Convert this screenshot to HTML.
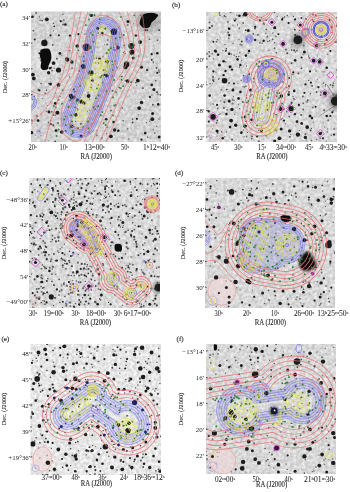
<!DOCTYPE html>
<html><head><meta charset="utf-8"><style>
html,body{margin:0;padding:0;background:#fff;}
svg.main{display:block;}
.t{font-family:"Liberation Serif",serif;font-size:7.20px;fill:#2a2a2a;stroke:#2a2a2a;stroke-width:0.06px;}
.ty{font-family:"Liberation Serif",serif;font-size:6.9px;fill:#2a2a2a;}
.sp{font-size:4.9px;}
.lb{font-family:"Liberation Serif",serif;font-size:7.1px;fill:#222;stroke:#222;stroke-width:0.12px;}
.ax{font-family:"Liberation Serif",serif;font-size:7.20px;fill:#2a2a2a;stroke:#2a2a2a;stroke-width:0.12px;}
.dc{font-family:"Liberation Serif",serif;font-size:6.25px;fill:#2a2a2a;stroke:#2a2a2a;stroke-width:0.1px;}
.ax{font-size:7.3px;}
</style></head><body>
<svg class="main" width="350" height="492" viewBox="0 0 350 492">
<defs><filter id="soft" x="0" y="0" width="1" height="1"><feGaussianBlur stdDeviation="0.3"/></filter><filter id="graina" x="0" y="0" width="1" height="1" color-interpolation-filters="sRGB"><feTurbulence type="fractalNoise" baseFrequency="0.32" numOctaves="2" seed="97"/><feColorMatrix type="matrix" values="0.300 0 0 0 0.674  0.300 0 0 0 0.674  0.300 0 0 0 0.674  0 0 0 0 1"/><feGaussianBlur stdDeviation="0.6"/></filter>
<filter id="fa1" x="-1" y="-1" width="3" height="3"><feGaussianBlur stdDeviation="3.00"/></filter>
<filter id="fa2" x="-0.1" y="-0.1" width="1.2" height="1.2"><feGaussianBlur stdDeviation="0.40"/></filter>
<filter id="fa3" x="-1" y="-1" width="3" height="3"><feGaussianBlur stdDeviation="3.00"/></filter>
<filter id="fa4" x="-0.1" y="-0.1" width="1.2" height="1.2"><feGaussianBlur stdDeviation="0.62"/></filter>
<filter id="fa5" x="-0.3" y="-0.3" width="1.6" height="1.6"><feGaussianBlur stdDeviation="0.60"/></filter>
<filter id="fa6" x="-0.3" y="-0.3" width="1.6" height="1.6"><feGaussianBlur stdDeviation="0.60"/></filter>
<mask id="ma7" maskUnits="userSpaceOnUse" x="-50" y="-50" width="300" height="300"><path d="M73.0 23.0 C72.5 26.7 71.5 37.5 70.0 45.0 C68.5 52.5 66.5 60.2 64.0 68.0 C61.5 75.8 57.7 85.2 55.0 92.0 C52.3 98.8 49.2 106.2 48.0 109.0" fill="none" stroke="#fff" stroke-width="35.00" stroke-linecap="round" stroke-linejoin="round"/><path d="M73.0 23.0 C72.5 26.7 71.5 37.5 70.0 45.0 C68.5 52.5 66.5 60.2 64.0 68.0 C61.5 75.8 57.7 85.2 55.0 92.0 C52.3 98.8 49.2 106.2 48.0 109.0" fill="none" stroke="#000" stroke-width="13.00" stroke-linecap="round" stroke-linejoin="round"/></mask>
<mask id="ma8" maskUnits="userSpaceOnUse" x="-50" y="-50" width="300" height="300"><path d="M73.0 23.0 C72.5 26.7 71.5 37.5 70.0 45.0 C68.5 52.5 66.5 60.2 64.0 68.0 C61.5 75.8 57.7 85.2 55.0 92.0 C52.3 98.8 49.2 106.2 48.0 109.0" fill="none" stroke="#fff" stroke-width="35.60" stroke-linecap="round" stroke-linejoin="round"/><path d="M73.0 23.0 C72.5 26.7 71.5 37.5 70.0 45.0 C68.5 52.5 66.5 60.2 64.0 68.0 C61.5 75.8 57.7 85.2 55.0 92.0 C52.3 98.8 49.2 106.2 48.0 109.0" fill="none" stroke="#000" stroke-width="34.40" stroke-linecap="round" stroke-linejoin="round"/><path d="M73.0 23.0 C72.5 26.7 71.5 37.5 70.0 45.0 C68.5 52.5 66.5 60.2 64.0 68.0 C61.5 75.8 57.7 85.2 55.0 92.0 C52.3 98.8 49.2 106.2 48.0 109.0" fill="none" stroke="#fff" stroke-width="32.20" stroke-linecap="round" stroke-linejoin="round"/><path d="M73.0 23.0 C72.5 26.7 71.5 37.5 70.0 45.0 C68.5 52.5 66.5 60.2 64.0 68.0 C61.5 75.8 57.7 85.2 55.0 92.0 C52.3 98.8 49.2 106.2 48.0 109.0" fill="none" stroke="#000" stroke-width="31.00" stroke-linecap="round" stroke-linejoin="round"/><path d="M73.0 23.0 C72.5 26.7 71.5 37.5 70.0 45.0 C68.5 52.5 66.5 60.2 64.0 68.0 C61.5 75.8 57.7 85.2 55.0 92.0 C52.3 98.8 49.2 106.2 48.0 109.0" fill="none" stroke="#fff" stroke-width="28.80" stroke-linecap="round" stroke-linejoin="round"/><path d="M73.0 23.0 C72.5 26.7 71.5 37.5 70.0 45.0 C68.5 52.5 66.5 60.2 64.0 68.0 C61.5 75.8 57.7 85.2 55.0 92.0 C52.3 98.8 49.2 106.2 48.0 109.0" fill="none" stroke="#000" stroke-width="27.60" stroke-linecap="round" stroke-linejoin="round"/><path d="M73.0 23.0 C72.5 26.7 71.5 37.5 70.0 45.0 C68.5 52.5 66.5 60.2 64.0 68.0 C61.5 75.8 57.7 85.2 55.0 92.0 C52.3 98.8 49.2 106.2 48.0 109.0" fill="none" stroke="#fff" stroke-width="25.40" stroke-linecap="round" stroke-linejoin="round"/><path d="M73.0 23.0 C72.5 26.7 71.5 37.5 70.0 45.0 C68.5 52.5 66.5 60.2 64.0 68.0 C61.5 75.8 57.7 85.2 55.0 92.0 C52.3 98.8 49.2 106.2 48.0 109.0" fill="none" stroke="#000" stroke-width="24.20" stroke-linecap="round" stroke-linejoin="round"/><path d="M73.0 23.0 C72.5 26.7 71.5 37.5 70.0 45.0 C68.5 52.5 66.5 60.2 64.0 68.0 C61.5 75.8 57.7 85.2 55.0 92.0 C52.3 98.8 49.2 106.2 48.0 109.0" fill="none" stroke="#fff" stroke-width="22.00" stroke-linecap="round" stroke-linejoin="round"/><path d="M73.0 23.0 C72.5 26.7 71.5 37.5 70.0 45.0 C68.5 52.5 66.5 60.2 64.0 68.0 C61.5 75.8 57.7 85.2 55.0 92.0 C52.3 98.8 49.2 106.2 48.0 109.0" fill="none" stroke="#000" stroke-width="20.80" stroke-linecap="round" stroke-linejoin="round"/><path d="M73.0 23.0 C72.5 26.7 71.5 37.5 70.0 45.0 C68.5 52.5 66.5 60.2 64.0 68.0 C61.5 75.8 57.7 85.2 55.0 92.0 C52.3 98.8 49.2 106.2 48.0 109.0" fill="none" stroke="#fff" stroke-width="18.60" stroke-linecap="round" stroke-linejoin="round"/><path d="M73.0 23.0 C72.5 26.7 71.5 37.5 70.0 45.0 C68.5 52.5 66.5 60.2 64.0 68.0 C61.5 75.8 57.7 85.2 55.0 92.0 C52.3 98.8 49.2 106.2 48.0 109.0" fill="none" stroke="#000" stroke-width="17.40" stroke-linecap="round" stroke-linejoin="round"/><path d="M73.0 23.0 C72.5 26.7 71.5 37.5 70.0 45.0 C68.5 52.5 66.5 60.2 64.0 68.0 C61.5 75.8 57.7 85.2 55.0 92.0 C52.3 98.8 49.2 106.2 48.0 109.0" fill="none" stroke="#fff" stroke-width="15.20" stroke-linecap="round" stroke-linejoin="round"/><path d="M73.0 23.0 C72.5 26.7 71.5 37.5 70.0 45.0 C68.5 52.5 66.5 60.2 64.0 68.0 C61.5 75.8 57.7 85.2 55.0 92.0 C52.3 98.8 49.2 106.2 48.0 109.0" fill="none" stroke="#000" stroke-width="14.00" stroke-linecap="round" stroke-linejoin="round"/></mask>
<mask id="ma9" maskUnits="userSpaceOnUse" x="-50" y="-50" width="300" height="300"><path d="M73.0 23.0 C72.5 26.7 71.5 37.5 70.0 45.0 C68.5 52.5 66.5 60.2 64.0 68.0 C61.5 75.8 57.7 85.2 55.0 92.0 C52.3 98.8 49.2 106.2 48.0 109.0" fill="none" stroke="#fff" stroke-width="13.80" stroke-linecap="round" stroke-linejoin="round"/><path d="M73.0 23.0 C72.5 26.7 71.5 37.5 70.0 45.0 C68.5 52.5 66.5 60.2 64.0 68.0 C61.5 75.8 57.7 85.2 55.0 92.0 C52.3 98.8 49.2 106.2 48.0 109.0" fill="none" stroke="#000" stroke-width="12.60" stroke-linecap="round" stroke-linejoin="round"/></mask>
<mask id="ma10" maskUnits="userSpaceOnUse" x="-50" y="-50" width="300" height="300"><path d="M71.0 54.0 L71.0 54.0" fill="none" stroke="#fff" stroke-width="17.40" stroke-linecap="round" stroke-linejoin="round"/><path d="M62.0 71.0 L62.0 71.0" fill="none" stroke="#fff" stroke-width="17.40" stroke-linecap="round" stroke-linejoin="round"/><path d="M71.0 54.0 L71.0 54.0" fill="none" stroke="#000" stroke-width="16.20" stroke-linecap="round" stroke-linejoin="round"/><path d="M62.0 71.0 L62.0 71.0" fill="none" stroke="#000" stroke-width="16.20" stroke-linecap="round" stroke-linejoin="round"/><path d="M71.0 54.0 L71.0 54.0" fill="none" stroke="#fff" stroke-width="13.80" stroke-linecap="round" stroke-linejoin="round"/><path d="M62.0 71.0 L62.0 71.0" fill="none" stroke="#fff" stroke-width="13.80" stroke-linecap="round" stroke-linejoin="round"/><path d="M71.0 54.0 L71.0 54.0" fill="none" stroke="#000" stroke-width="12.60" stroke-linecap="round" stroke-linejoin="round"/><path d="M62.0 71.0 L62.0 71.0" fill="none" stroke="#000" stroke-width="12.60" stroke-linecap="round" stroke-linejoin="round"/><path d="M71.0 54.0 L71.0 54.0" fill="none" stroke="#fff" stroke-width="10.20" stroke-linecap="round" stroke-linejoin="round"/><path d="M62.0 71.0 L62.0 71.0" fill="none" stroke="#fff" stroke-width="10.20" stroke-linecap="round" stroke-linejoin="round"/><path d="M71.0 54.0 L71.0 54.0" fill="none" stroke="#000" stroke-width="9.00" stroke-linecap="round" stroke-linejoin="round"/><path d="M62.0 71.0 L62.0 71.0" fill="none" stroke="#000" stroke-width="9.00" stroke-linecap="round" stroke-linejoin="round"/><path d="M71.0 54.0 L71.0 54.0" fill="none" stroke="#fff" stroke-width="7.00" stroke-linecap="round" stroke-linejoin="round"/><path d="M62.0 71.0 L62.0 71.0" fill="none" stroke="#fff" stroke-width="7.00" stroke-linecap="round" stroke-linejoin="round"/><path d="M71.0 54.0 L71.0 54.0" fill="none" stroke="#000" stroke-width="5.80" stroke-linecap="round" stroke-linejoin="round"/><path d="M62.0 71.0 L62.0 71.0" fill="none" stroke="#000" stroke-width="5.80" stroke-linecap="round" stroke-linejoin="round"/><path d="M71.0 54.0 L71.0 54.0" fill="none" stroke="#fff" stroke-width="3.80" stroke-linecap="round" stroke-linejoin="round"/><path d="M62.0 71.0 L62.0 71.0" fill="none" stroke="#fff" stroke-width="3.80" stroke-linecap="round" stroke-linejoin="round"/><path d="M71.0 54.0 L71.0 54.0" fill="none" stroke="#000" stroke-width="2.60" stroke-linecap="round" stroke-linejoin="round"/><path d="M62.0 71.0 L62.0 71.0" fill="none" stroke="#000" stroke-width="2.60" stroke-linecap="round" stroke-linejoin="round"/></mask>
<mask id="ma11" maskUnits="userSpaceOnUse" x="-50" y="-50" width="300" height="300"><path d="M72.0 17.0 L72.0 17.0" fill="none" stroke="#fff" stroke-width="7.40" stroke-linecap="round" stroke-linejoin="round"/><path d="M55.0 90.0 L49.0 106.0" fill="none" stroke="#fff" stroke-width="7.40" stroke-linecap="round" stroke-linejoin="round"/><path d="M72.0 17.0 L72.0 17.0" fill="none" stroke="#000" stroke-width="6.20" stroke-linecap="round" stroke-linejoin="round"/><path d="M55.0 90.0 L49.0 106.0" fill="none" stroke="#000" stroke-width="6.20" stroke-linecap="round" stroke-linejoin="round"/><path d="M72.0 17.0 L72.0 17.0" fill="none" stroke="#fff" stroke-width="3.80" stroke-linecap="round" stroke-linejoin="round"/><path d="M55.0 90.0 L49.0 106.0" fill="none" stroke="#fff" stroke-width="3.80" stroke-linecap="round" stroke-linejoin="round"/><path d="M72.0 17.0 L72.0 17.0" fill="none" stroke="#000" stroke-width="2.60" stroke-linecap="round" stroke-linejoin="round"/><path d="M55.0 90.0 L49.0 106.0" fill="none" stroke="#000" stroke-width="2.60" stroke-linecap="round" stroke-linejoin="round"/></mask>
<mask id="ma12" maskUnits="userSpaceOnUse" x="-50" y="-50" width="300" height="300"><path d="M-2 91 L-2 91.01" fill="none" stroke="#fff" stroke-width="15.70" stroke-linecap="round" stroke-linejoin="round"/><path d="M-2 91 L-2 91.01" fill="none" stroke="#000" stroke-width="14.30" stroke-linecap="round" stroke-linejoin="round"/><path d="M-2 91 L-2 91.01" fill="none" stroke="#fff" stroke-width="12.70" stroke-linecap="round" stroke-linejoin="round"/><path d="M-2 91 L-2 91.01" fill="none" stroke="#000" stroke-width="11.30" stroke-linecap="round" stroke-linejoin="round"/><path d="M-2 91 L-2 91.01" fill="none" stroke="#fff" stroke-width="9.70" stroke-linecap="round" stroke-linejoin="round"/><path d="M-2 91 L-2 91.01" fill="none" stroke="#000" stroke-width="8.30" stroke-linecap="round" stroke-linejoin="round"/></mask>
<mask id="ma13" maskUnits="userSpaceOnUse" x="-50" y="-50" width="300" height="300"><path d="M72.0 37.0 C71.0 41.8 68.5 57.2 66.0 66.0 C63.5 74.8 59.7 83.7 57.0 90.0 C54.3 96.3 51.2 101.7 50.0 104.0" fill="none" stroke="#fff" stroke-width="28.80" stroke-linecap="round" stroke-linejoin="round"/><path d="M72.0 37.0 C71.0 41.8 68.5 57.2 66.0 66.0 C63.5 74.8 59.7 83.7 57.0 90.0 C54.3 96.3 51.2 101.7 50.0 104.0" fill="none" stroke="#000" stroke-width="27.20" stroke-linecap="round" stroke-linejoin="round"/></mask>
<filter id="grainb" x="0" y="0" width="1" height="1" color-interpolation-filters="sRGB"><feTurbulence type="fractalNoise" baseFrequency="0.32" numOctaves="2" seed="98"/><feColorMatrix type="matrix" values="0.300 0 0 0 0.697  0.300 0 0 0 0.697  0.300 0 0 0 0.697  0 0 0 0 1"/><feGaussianBlur stdDeviation="0.6"/></filter>
<filter id="fb1" x="-0.1" y="-0.1" width="1.2" height="1.2"><feGaussianBlur stdDeviation="0.40"/></filter>
<filter id="fb2" x="-0.1" y="-0.1" width="1.2" height="1.2"><feGaussianBlur stdDeviation="0.62"/></filter>
<filter id="fb3" x="-1" y="-1" width="3" height="3"><feGaussianBlur stdDeviation="2.00"/></filter>
<filter id="fb4" x="-1" y="-1" width="3" height="3"><feGaussianBlur stdDeviation="2.00"/></filter>
<filter id="fb5" x="-0.1" y="-0.1" width="1.2" height="1.2"><feGaussianBlur stdDeviation="0.60"/></filter>
<mask id="mb6" maskUnits="userSpaceOnUse" x="-50" y="-50" width="300" height="300"><path d="M63.5 66.0 L63.5 66.0" fill="none" stroke="#fff" stroke-width="44.80" stroke-linecap="round" stroke-linejoin="round"/><path d="M60.0 84.0 C59.5 86.2 57.8 93.5 57.0 97.0 C56.2 100.5 55.3 103.7 55.0 105.0" fill="none" stroke="#fff" stroke-width="38.80" stroke-linecap="round" stroke-linejoin="round"/><path d="M63.5 66.0 L63.5 66.0" fill="none" stroke="#000" stroke-width="43.20" stroke-linecap="round" stroke-linejoin="round"/><path d="M60.0 84.0 C59.5 86.2 57.8 93.5 57.0 97.0 C56.2 100.5 55.3 103.7 55.0 105.0" fill="none" stroke="#000" stroke-width="37.20" stroke-linecap="round" stroke-linejoin="round"/><path d="M63.5 66.0 L63.5 66.0" fill="none" stroke="#fff" stroke-width="37.80" stroke-linecap="round" stroke-linejoin="round"/><path d="M60.0 84.0 C59.5 86.2 57.8 93.5 57.0 97.0 C56.2 100.5 55.3 103.7 55.0 105.0" fill="none" stroke="#fff" stroke-width="31.80" stroke-linecap="round" stroke-linejoin="round"/><path d="M63.5 66.0 L63.5 66.0" fill="none" stroke="#000" stroke-width="36.20" stroke-linecap="round" stroke-linejoin="round"/><path d="M60.0 84.0 C59.5 86.2 57.8 93.5 57.0 97.0 C56.2 100.5 55.3 103.7 55.0 105.0" fill="none" stroke="#000" stroke-width="30.20" stroke-linecap="round" stroke-linejoin="round"/><path d="M63.5 66.0 L63.5 66.0" fill="none" stroke="#fff" stroke-width="30.80" stroke-linecap="round" stroke-linejoin="round"/><path d="M60.0 84.0 C59.5 86.2 57.8 93.5 57.0 97.0 C56.2 100.5 55.3 103.7 55.0 105.0" fill="none" stroke="#fff" stroke-width="24.80" stroke-linecap="round" stroke-linejoin="round"/><path d="M63.5 66.0 L63.5 66.0" fill="none" stroke="#000" stroke-width="29.20" stroke-linecap="round" stroke-linejoin="round"/><path d="M60.0 84.0 C59.5 86.2 57.8 93.5 57.0 97.0 C56.2 100.5 55.3 103.7 55.0 105.0" fill="none" stroke="#000" stroke-width="23.20" stroke-linecap="round" stroke-linejoin="round"/><path d="M63.5 66.0 L63.5 66.0" fill="none" stroke="#fff" stroke-width="23.80" stroke-linecap="round" stroke-linejoin="round"/><path d="M60.0 84.0 C59.5 86.2 57.8 93.5 57.0 97.0 C56.2 100.5 55.3 103.7 55.0 105.0" fill="none" stroke="#fff" stroke-width="17.80" stroke-linecap="round" stroke-linejoin="round"/><path d="M63.5 66.0 L63.5 66.0" fill="none" stroke="#000" stroke-width="22.20" stroke-linecap="round" stroke-linejoin="round"/><path d="M60.0 84.0 C59.5 86.2 57.8 93.5 57.0 97.0 C56.2 100.5 55.3 103.7 55.0 105.0" fill="none" stroke="#000" stroke-width="16.20" stroke-linecap="round" stroke-linejoin="round"/></mask>
<mask id="mb7" maskUnits="userSpaceOnUse" x="-50" y="-50" width="300" height="300"><path d="M65.0 64.0 L65.0 64.0" fill="none" stroke="#fff" stroke-width="17.80" stroke-linecap="round" stroke-linejoin="round"/><path d="M65.0 64.0 L65.0 64.0" fill="none" stroke="#000" stroke-width="16.20" stroke-linecap="round" stroke-linejoin="round"/></mask>
<mask id="mb8" maskUnits="userSpaceOnUse" x="-50" y="-50" width="300" height="300"><path d="M64.7 62.0 L64.7 62.0" fill="none" stroke="#fff" stroke-width="27.00" stroke-linecap="round" stroke-linejoin="round"/><path d="M64.7 62.0 L64.7 62.0" fill="none" stroke="#000" stroke-width="14.00" stroke-linecap="round" stroke-linejoin="round"/></mask>
<mask id="mb9" maskUnits="userSpaceOnUse" x="-50" y="-50" width="300" height="300"><path d="M64.7 62.0 L64.7 62.0" fill="none" stroke="#fff" stroke-width="27.60" stroke-linecap="round" stroke-linejoin="round"/><path d="M64.7 62.0 L64.7 62.0" fill="none" stroke="#000" stroke-width="26.40" stroke-linecap="round" stroke-linejoin="round"/><path d="M64.7 62.0 L64.7 62.0" fill="none" stroke="#fff" stroke-width="24.60" stroke-linecap="round" stroke-linejoin="round"/><path d="M64.7 62.0 L64.7 62.0" fill="none" stroke="#000" stroke-width="23.40" stroke-linecap="round" stroke-linejoin="round"/><path d="M64.7 62.0 L64.7 62.0" fill="none" stroke="#fff" stroke-width="21.60" stroke-linecap="round" stroke-linejoin="round"/><path d="M64.7 62.0 L64.7 62.0" fill="none" stroke="#000" stroke-width="20.40" stroke-linecap="round" stroke-linejoin="round"/><path d="M64.7 62.0 L64.7 62.0" fill="none" stroke="#fff" stroke-width="18.60" stroke-linecap="round" stroke-linejoin="round"/><path d="M64.7 62.0 L64.7 62.0" fill="none" stroke="#000" stroke-width="17.40" stroke-linecap="round" stroke-linejoin="round"/><path d="M64.7 62.0 L64.7 62.0" fill="none" stroke="#fff" stroke-width="15.60" stroke-linecap="round" stroke-linejoin="round"/><path d="M64.7 62.0 L64.7 62.0" fill="none" stroke="#000" stroke-width="14.40" stroke-linecap="round" stroke-linejoin="round"/></mask>
<mask id="mb10" maskUnits="userSpaceOnUse" x="-50" y="-50" width="300" height="300"><path d="M61.0 76.0 C60.5 78.7 58.8 87.3 58.0 92.0 C57.2 96.7 56.3 102.0 56.0 104.0" fill="none" stroke="#fff" stroke-width="16.55" stroke-linecap="round" stroke-linejoin="round"/><path d="M61.0 76.0 C60.5 78.7 58.8 87.3 58.0 92.0 C57.2 96.7 56.3 102.0 56.0 104.0" fill="none" stroke="#000" stroke-width="15.45" stroke-linecap="round" stroke-linejoin="round"/><path d="M61.0 76.0 C60.5 78.7 58.8 87.3 58.0 92.0 C57.2 96.7 56.3 102.0 56.0 104.0" fill="none" stroke="#fff" stroke-width="11.55" stroke-linecap="round" stroke-linejoin="round"/><path d="M61.0 76.0 C60.5 78.7 58.8 87.3 58.0 92.0 C57.2 96.7 56.3 102.0 56.0 104.0" fill="none" stroke="#000" stroke-width="10.45" stroke-linecap="round" stroke-linejoin="round"/><path d="M61.0 76.0 C60.5 78.7 58.8 87.3 58.0 92.0 C57.2 96.7 56.3 102.0 56.0 104.0" fill="none" stroke="#fff" stroke-width="6.55" stroke-linecap="round" stroke-linejoin="round"/><path d="M61.0 76.0 C60.5 78.7 58.8 87.3 58.0 92.0 C57.2 96.7 56.3 102.0 56.0 104.0" fill="none" stroke="#000" stroke-width="5.45" stroke-linecap="round" stroke-linejoin="round"/></mask>
<mask id="mb11" maskUnits="userSpaceOnUse" x="-50" y="-50" width="300" height="300"><path d="M65.0 63.0 L65.0 63.0" fill="none" stroke="#fff" stroke-width="13.00" stroke-linecap="round" stroke-linejoin="round"/></mask>
<mask id="mb12" maskUnits="userSpaceOnUse" x="-50" y="-50" width="300" height="300"><path d="M65.0 63.0 L65.0 63.0" fill="none" stroke="#fff" stroke-width="13.60" stroke-linecap="round" stroke-linejoin="round"/><path d="M65.0 63.0 L65.0 63.0" fill="none" stroke="#000" stroke-width="12.40" stroke-linecap="round" stroke-linejoin="round"/><path d="M65.0 63.0 L65.0 63.0" fill="none" stroke="#fff" stroke-width="10.60" stroke-linecap="round" stroke-linejoin="round"/><path d="M65.0 63.0 L65.0 63.0" fill="none" stroke="#000" stroke-width="9.40" stroke-linecap="round" stroke-linejoin="round"/><path d="M65.0 63.0 L65.0 63.0" fill="none" stroke="#fff" stroke-width="7.60" stroke-linecap="round" stroke-linejoin="round"/><path d="M65.0 63.0 L65.0 63.0" fill="none" stroke="#000" stroke-width="6.40" stroke-linecap="round" stroke-linejoin="round"/><path d="M65.0 63.0 L65.0 63.0" fill="none" stroke="#fff" stroke-width="4.60" stroke-linecap="round" stroke-linejoin="round"/><path d="M65.0 63.0 L65.0 63.0" fill="none" stroke="#000" stroke-width="3.40" stroke-linecap="round" stroke-linejoin="round"/></mask>
<mask id="mb13" maskUnits="userSpaceOnUse" x="-50" y="-50" width="300" height="300"><path d="M56.0 88.0 C56.2 90.0 56.3 96.3 57.0 100.0 C57.7 103.7 59.0 107.5 60.0 110.0 C61.0 112.5 62.5 114.2 63.0 115.0" fill="none" stroke="#fff" stroke-width="16.60" stroke-linecap="round" stroke-linejoin="round"/><path d="M56.0 88.0 C56.2 90.0 56.3 96.3 57.0 100.0 C57.7 103.7 59.0 107.5 60.0 110.0 C61.0 112.5 62.5 114.2 63.0 115.0" fill="none" stroke="#000" stroke-width="15.40" stroke-linecap="round" stroke-linejoin="round"/><path d="M56.0 88.0 C56.2 90.0 56.3 96.3 57.0 100.0 C57.7 103.7 59.0 107.5 60.0 110.0 C61.0 112.5 62.5 114.2 63.0 115.0" fill="none" stroke="#fff" stroke-width="12.60" stroke-linecap="round" stroke-linejoin="round"/><path d="M56.0 88.0 C56.2 90.0 56.3 96.3 57.0 100.0 C57.7 103.7 59.0 107.5 60.0 110.0 C61.0 112.5 62.5 114.2 63.0 115.0" fill="none" stroke="#000" stroke-width="11.40" stroke-linecap="round" stroke-linejoin="round"/><path d="M56.0 88.0 C56.2 90.0 56.3 96.3 57.0 100.0 C57.7 103.7 59.0 107.5 60.0 110.0 C61.0 112.5 62.5 114.2 63.0 115.0" fill="none" stroke="#fff" stroke-width="8.60" stroke-linecap="round" stroke-linejoin="round"/><path d="M56.0 88.0 C56.2 90.0 56.3 96.3 57.0 100.0 C57.7 103.7 59.0 107.5 60.0 110.0 C61.0 112.5 62.5 114.2 63.0 115.0" fill="none" stroke="#000" stroke-width="7.40" stroke-linecap="round" stroke-linejoin="round"/><path d="M56.0 88.0 C56.2 90.0 56.3 96.3 57.0 100.0 C57.7 103.7 59.0 107.5 60.0 110.0 C61.0 112.5 62.5 114.2 63.0 115.0" fill="none" stroke="#fff" stroke-width="4.60" stroke-linecap="round" stroke-linejoin="round"/><path d="M56.0 88.0 C56.2 90.0 56.3 96.3 57.0 100.0 C57.7 103.7 59.0 107.5 60.0 110.0 C61.0 112.5 62.5 114.2 63.0 115.0" fill="none" stroke="#000" stroke-width="3.40" stroke-linecap="round" stroke-linejoin="round"/></mask>
<mask id="mb14" maskUnits="userSpaceOnUse" x="-50" y="-50" width="300" height="300"><path d="M59.9 52.3 L59.9 52.3" fill="none" stroke="#fff" stroke-width="7.60" stroke-linecap="round" stroke-linejoin="round"/></mask>
<mask id="mb15" maskUnits="userSpaceOnUse" x="-50" y="-50" width="300" height="300"><path d="M59.9 52.3 L59.9 52.3" fill="none" stroke="#fff" stroke-width="8.30" stroke-linecap="round" stroke-linejoin="round"/><path d="M59.9 52.3 L59.9 52.3" fill="none" stroke="#000" stroke-width="6.90" stroke-linecap="round" stroke-linejoin="round"/><path d="M59.9 52.3 L59.9 52.3" fill="none" stroke="#fff" stroke-width="6.30" stroke-linecap="round" stroke-linejoin="round"/><path d="M59.9 52.3 L59.9 52.3" fill="none" stroke="#000" stroke-width="4.90" stroke-linecap="round" stroke-linejoin="round"/></mask>
<mask id="mb16" maskUnits="userSpaceOnUse" x="-50" y="-50" width="300" height="300"><path d="M59.9 52.3 L59.9 52.3" fill="none" stroke="#fff" stroke-width="4.40" stroke-linecap="round" stroke-linejoin="round"/><path d="M59.9 52.3 L59.9 52.3" fill="none" stroke="#000" stroke-width="2.80" stroke-linecap="round" stroke-linejoin="round"/></mask>
<mask id="mb17" maskUnits="userSpaceOnUse" x="-50" y="-50" width="300" height="300"><path d="M40.6 66.8 L40.6 66.8" fill="none" stroke="#fff" stroke-width="7.60" stroke-linecap="round" stroke-linejoin="round"/></mask>
<mask id="mb18" maskUnits="userSpaceOnUse" x="-50" y="-50" width="300" height="300"><path d="M40.6 66.8 L40.6 66.8" fill="none" stroke="#fff" stroke-width="8.20" stroke-linecap="round" stroke-linejoin="round"/><path d="M40.6 66.8 L40.6 66.8" fill="none" stroke="#000" stroke-width="7.00" stroke-linecap="round" stroke-linejoin="round"/><path d="M40.6 66.8 L40.6 66.8" fill="none" stroke="#fff" stroke-width="5.60" stroke-linecap="round" stroke-linejoin="round"/><path d="M40.6 66.8 L40.6 66.8" fill="none" stroke="#000" stroke-width="4.40" stroke-linecap="round" stroke-linejoin="round"/><path d="M40.6 66.8 L40.6 66.8" fill="none" stroke="#fff" stroke-width="3.00" stroke-linecap="round" stroke-linejoin="round"/><path d="M40.6 66.8 L40.6 66.8" fill="none" stroke="#000" stroke-width="1.80" stroke-linecap="round" stroke-linejoin="round"/></mask>
<mask id="mb19" maskUnits="userSpaceOnUse" x="-50" y="-50" width="300" height="300"><path d="M43.1 26.9 L43.1 26.9" fill="none" stroke="#fff" stroke-width="8.40" stroke-linecap="round" stroke-linejoin="round"/></mask>
<mask id="mb20" maskUnits="userSpaceOnUse" x="-50" y="-50" width="300" height="300"><path d="M43.1 26.9 L43.1 26.9" fill="none" stroke="#fff" stroke-width="9.00" stroke-linecap="round" stroke-linejoin="round"/><path d="M43.1 26.9 L43.1 26.9" fill="none" stroke="#000" stroke-width="7.80" stroke-linecap="round" stroke-linejoin="round"/><path d="M43.1 26.9 L43.1 26.9" fill="none" stroke="#fff" stroke-width="6.40" stroke-linecap="round" stroke-linejoin="round"/><path d="M43.1 26.9 L43.1 26.9" fill="none" stroke="#000" stroke-width="5.20" stroke-linecap="round" stroke-linejoin="round"/><path d="M43.1 26.9 L43.1 26.9" fill="none" stroke="#fff" stroke-width="3.80" stroke-linecap="round" stroke-linejoin="round"/><path d="M43.1 26.9 L43.1 26.9" fill="none" stroke="#000" stroke-width="2.60" stroke-linecap="round" stroke-linejoin="round"/></mask>
<mask id="mb21" maskUnits="userSpaceOnUse" x="-50" y="-50" width="300" height="300"><path d="M99.4 20.4 L99.4 20.4" fill="none" stroke="#fff" stroke-width="8.20" stroke-linecap="round" stroke-linejoin="round"/></mask>
<mask id="mb22" maskUnits="userSpaceOnUse" x="-50" y="-50" width="300" height="300"><path d="M99.4 20.4 L99.4 20.4" fill="none" stroke="#fff" stroke-width="8.90" stroke-linecap="round" stroke-linejoin="round"/><path d="M99.4 20.4 L99.4 20.4" fill="none" stroke="#000" stroke-width="7.50" stroke-linecap="round" stroke-linejoin="round"/><path d="M99.4 20.4 L99.4 20.4" fill="none" stroke="#fff" stroke-width="6.70" stroke-linecap="round" stroke-linejoin="round"/><path d="M99.4 20.4 L99.4 20.4" fill="none" stroke="#000" stroke-width="5.30" stroke-linecap="round" stroke-linejoin="round"/></mask>
<mask id="mb23" maskUnits="userSpaceOnUse" x="-50" y="-50" width="300" height="300"><path d="M99.4 20.4 L99.4 20.4" fill="none" stroke="#fff" stroke-width="4.40" stroke-linecap="round" stroke-linejoin="round"/><path d="M99.4 20.4 L99.4 20.4" fill="none" stroke="#000" stroke-width="2.80" stroke-linecap="round" stroke-linejoin="round"/></mask>
<mask id="mb24" maskUnits="userSpaceOnUse" x="-50" y="-50" width="300" height="300"><path d="M115.1 17.6 L115.1 17.6" fill="none" stroke="#fff" stroke-width="38.00" stroke-linecap="round" stroke-linejoin="round"/><path d="M115.1 17.6 L115.1 17.6" fill="none" stroke="#000" stroke-width="36.40" stroke-linecap="round" stroke-linejoin="round"/><path d="M115.1 17.6 L115.1 17.6" fill="none" stroke="#fff" stroke-width="33.40" stroke-linecap="round" stroke-linejoin="round"/><path d="M115.1 17.6 L115.1 17.6" fill="none" stroke="#000" stroke-width="31.80" stroke-linecap="round" stroke-linejoin="round"/><path d="M115.1 17.6 L115.1 17.6" fill="none" stroke="#fff" stroke-width="29.00" stroke-linecap="round" stroke-linejoin="round"/><path d="M115.1 17.6 L115.1 17.6" fill="none" stroke="#000" stroke-width="27.40" stroke-linecap="round" stroke-linejoin="round"/><path d="M115.1 17.6 L115.1 17.6" fill="none" stroke="#fff" stroke-width="24.60" stroke-linecap="round" stroke-linejoin="round"/><path d="M115.1 17.6 L115.1 17.6" fill="none" stroke="#000" stroke-width="23.00" stroke-linecap="round" stroke-linejoin="round"/><path d="M115.1 17.6 L115.1 17.6" fill="none" stroke="#fff" stroke-width="20.80" stroke-linecap="round" stroke-linejoin="round"/><path d="M115.1 17.6 L115.1 17.6" fill="none" stroke="#000" stroke-width="19.20" stroke-linecap="round" stroke-linejoin="round"/></mask>
<mask id="mb25" maskUnits="userSpaceOnUse" x="-50" y="-50" width="300" height="300"><path d="M115.1 17.6 L115.1 17.6" fill="none" stroke="#fff" stroke-width="11.00" stroke-linecap="round" stroke-linejoin="round"/></mask>
<mask id="mb26" maskUnits="userSpaceOnUse" x="-50" y="-50" width="300" height="300"><path d="M115.1 17.6 L115.1 17.6" fill="none" stroke="#fff" stroke-width="17.00" stroke-linecap="round" stroke-linejoin="round"/><path d="M115.1 17.6 L115.1 17.6" fill="none" stroke="#000" stroke-width="15.00" stroke-linecap="round" stroke-linejoin="round"/><path d="M115.1 17.6 L115.1 17.6" fill="none" stroke="#fff" stroke-width="14.80" stroke-linecap="round" stroke-linejoin="round"/><path d="M115.1 17.6 L115.1 17.6" fill="none" stroke="#000" stroke-width="12.80" stroke-linecap="round" stroke-linejoin="round"/></mask>
<mask id="mb27" maskUnits="userSpaceOnUse" x="-50" y="-50" width="300" height="300"><path d="M115.1 17.6 L115.1 17.6" fill="none" stroke="#fff" stroke-width="10.10" stroke-linecap="round" stroke-linejoin="round"/><path d="M115.1 17.6 L115.1 17.6" fill="none" stroke="#000" stroke-width="8.30" stroke-linecap="round" stroke-linejoin="round"/><path d="M115.1 17.6 L115.1 17.6" fill="none" stroke="#fff" stroke-width="7.90" stroke-linecap="round" stroke-linejoin="round"/><path d="M115.1 17.6 L115.1 17.6" fill="none" stroke="#000" stroke-width="6.10" stroke-linecap="round" stroke-linejoin="round"/></mask>
<mask id="mb28" maskUnits="userSpaceOnUse" x="-50" y="-50" width="300" height="300"><path d="M115.1 17.6 L115.1 17.6" fill="none" stroke="#fff" stroke-width="3.90" stroke-linecap="round" stroke-linejoin="round"/><path d="M115.1 17.6 L115.1 17.6" fill="none" stroke="#000" stroke-width="2.50" stroke-linecap="round" stroke-linejoin="round"/></mask>
<mask id="mb29" maskUnits="userSpaceOnUse" x="-50" y="-50" width="300" height="300"><path d="M54.0 -4.0 L54.0 -4.0" fill="none" stroke="#fff" stroke-width="27.00" stroke-linecap="round" stroke-linejoin="round"/><path d="M54.0 -4.0 L54.0 -4.0" fill="none" stroke="#000" stroke-width="25.40" stroke-linecap="round" stroke-linejoin="round"/><path d="M54.0 -4.0 L54.0 -4.0" fill="none" stroke="#fff" stroke-width="23.20" stroke-linecap="round" stroke-linejoin="round"/><path d="M54.0 -4.0 L54.0 -4.0" fill="none" stroke="#000" stroke-width="21.60" stroke-linecap="round" stroke-linejoin="round"/><path d="M54.0 -4.0 L54.0 -4.0" fill="none" stroke="#fff" stroke-width="19.40" stroke-linecap="round" stroke-linejoin="round"/><path d="M54.0 -4.0 L54.0 -4.0" fill="none" stroke="#000" stroke-width="17.80" stroke-linecap="round" stroke-linejoin="round"/></mask>
<filter id="grainc" x="0" y="0" width="1" height="1" color-interpolation-filters="sRGB"><feTurbulence type="fractalNoise" baseFrequency="0.32" numOctaves="2" seed="99"/><feColorMatrix type="matrix" values="0.300 0 0 0 0.705  0.300 0 0 0 0.705  0.300 0 0 0 0.705  0 0 0 0 1"/><feGaussianBlur stdDeviation="0.6"/></filter>
<filter id="fc1" x="-0.1" y="-0.1" width="1.2" height="1.2"><feGaussianBlur stdDeviation="0.40"/></filter>
<filter id="fc2" x="-0.1" y="-0.1" width="1.2" height="1.2"><feGaussianBlur stdDeviation="0.62"/></filter>
<filter id="fc3" x="-0.3" y="-0.3" width="1.6" height="1.6"><feGaussianBlur stdDeviation="0.70"/></filter>
<filter id="fc4" x="-1" y="-1" width="3" height="3"><feGaussianBlur stdDeviation="1.50"/></filter>
<filter id="fc5" x="-0.1" y="-0.1" width="1.2" height="1.2"><feGaussianBlur stdDeviation="0.60"/></filter>
<mask id="mc6" maskUnits="userSpaceOnUse" x="-50" y="-50" width="300" height="300"><path d="M49.0 50.0 L60.0 59.0" fill="none" stroke="#fff" stroke-width="33.80" stroke-linecap="round" stroke-linejoin="round"/><path d="M60.0 59.0 C61.7 61.7 67.0 69.8 70.0 75.0 C73.0 80.2 75.7 85.7 78.0 90.0 C80.3 94.3 83.0 99.2 84.0 101.0" fill="none" stroke="#fff" stroke-width="22.80" stroke-linecap="round" stroke-linejoin="round"/><path d="M84.0 101.0 L84.0 101.0" fill="none" stroke="#fff" stroke-width="28.80" stroke-linecap="round" stroke-linejoin="round"/><path d="M84.0 101.0 C85.7 102.5 90.8 107.7 94.0 110.0 C97.2 112.3 100.0 115.2 103.0 115.0 C106.0 114.8 110.5 110.0 112.0 109.0" fill="none" stroke="#fff" stroke-width="21.80" stroke-linecap="round" stroke-linejoin="round"/><path d="M103.0 115.0 L103.0 115.0" fill="none" stroke="#fff" stroke-width="24.80" stroke-linecap="round" stroke-linejoin="round"/><path d="M49.0 50.0 L60.0 59.0" fill="none" stroke="#000" stroke-width="32.20" stroke-linecap="round" stroke-linejoin="round"/><path d="M60.0 59.0 C61.7 61.7 67.0 69.8 70.0 75.0 C73.0 80.2 75.7 85.7 78.0 90.0 C80.3 94.3 83.0 99.2 84.0 101.0" fill="none" stroke="#000" stroke-width="21.20" stroke-linecap="round" stroke-linejoin="round"/><path d="M84.0 101.0 L84.0 101.0" fill="none" stroke="#000" stroke-width="27.20" stroke-linecap="round" stroke-linejoin="round"/><path d="M84.0 101.0 C85.7 102.5 90.8 107.7 94.0 110.0 C97.2 112.3 100.0 115.2 103.0 115.0 C106.0 114.8 110.5 110.0 112.0 109.0" fill="none" stroke="#000" stroke-width="20.20" stroke-linecap="round" stroke-linejoin="round"/><path d="M103.0 115.0 L103.0 115.0" fill="none" stroke="#000" stroke-width="23.20" stroke-linecap="round" stroke-linejoin="round"/><path d="M49.0 50.0 L60.0 59.0" fill="none" stroke="#fff" stroke-width="28.80" stroke-linecap="round" stroke-linejoin="round"/><path d="M60.0 59.0 C61.7 61.7 67.0 69.8 70.0 75.0 C73.0 80.2 75.7 85.7 78.0 90.0 C80.3 94.3 83.0 99.2 84.0 101.0" fill="none" stroke="#fff" stroke-width="17.80" stroke-linecap="round" stroke-linejoin="round"/><path d="M84.0 101.0 L84.0 101.0" fill="none" stroke="#fff" stroke-width="23.80" stroke-linecap="round" stroke-linejoin="round"/><path d="M84.0 101.0 C85.7 102.5 90.8 107.7 94.0 110.0 C97.2 112.3 100.0 115.2 103.0 115.0 C106.0 114.8 110.5 110.0 112.0 109.0" fill="none" stroke="#fff" stroke-width="16.80" stroke-linecap="round" stroke-linejoin="round"/><path d="M103.0 115.0 L103.0 115.0" fill="none" stroke="#fff" stroke-width="19.80" stroke-linecap="round" stroke-linejoin="round"/><path d="M49.0 50.0 L60.0 59.0" fill="none" stroke="#000" stroke-width="27.20" stroke-linecap="round" stroke-linejoin="round"/><path d="M60.0 59.0 C61.7 61.7 67.0 69.8 70.0 75.0 C73.0 80.2 75.7 85.7 78.0 90.0 C80.3 94.3 83.0 99.2 84.0 101.0" fill="none" stroke="#000" stroke-width="16.20" stroke-linecap="round" stroke-linejoin="round"/><path d="M84.0 101.0 L84.0 101.0" fill="none" stroke="#000" stroke-width="22.20" stroke-linecap="round" stroke-linejoin="round"/><path d="M84.0 101.0 C85.7 102.5 90.8 107.7 94.0 110.0 C97.2 112.3 100.0 115.2 103.0 115.0 C106.0 114.8 110.5 110.0 112.0 109.0" fill="none" stroke="#000" stroke-width="15.20" stroke-linecap="round" stroke-linejoin="round"/><path d="M103.0 115.0 L103.0 115.0" fill="none" stroke="#000" stroke-width="18.20" stroke-linecap="round" stroke-linejoin="round"/><path d="M49.0 50.0 L60.0 59.0" fill="none" stroke="#fff" stroke-width="23.80" stroke-linecap="round" stroke-linejoin="round"/><path d="M60.0 59.0 C61.7 61.7 67.0 69.8 70.0 75.0 C73.0 80.2 75.7 85.7 78.0 90.0 C80.3 94.3 83.0 99.2 84.0 101.0" fill="none" stroke="#fff" stroke-width="12.80" stroke-linecap="round" stroke-linejoin="round"/><path d="M84.0 101.0 L84.0 101.0" fill="none" stroke="#fff" stroke-width="18.80" stroke-linecap="round" stroke-linejoin="round"/><path d="M84.0 101.0 C85.7 102.5 90.8 107.7 94.0 110.0 C97.2 112.3 100.0 115.2 103.0 115.0 C106.0 114.8 110.5 110.0 112.0 109.0" fill="none" stroke="#fff" stroke-width="11.80" stroke-linecap="round" stroke-linejoin="round"/><path d="M103.0 115.0 L103.0 115.0" fill="none" stroke="#fff" stroke-width="14.80" stroke-linecap="round" stroke-linejoin="round"/><path d="M49.0 50.0 L60.0 59.0" fill="none" stroke="#000" stroke-width="22.20" stroke-linecap="round" stroke-linejoin="round"/><path d="M60.0 59.0 C61.7 61.7 67.0 69.8 70.0 75.0 C73.0 80.2 75.7 85.7 78.0 90.0 C80.3 94.3 83.0 99.2 84.0 101.0" fill="none" stroke="#000" stroke-width="11.20" stroke-linecap="round" stroke-linejoin="round"/><path d="M84.0 101.0 L84.0 101.0" fill="none" stroke="#000" stroke-width="17.20" stroke-linecap="round" stroke-linejoin="round"/><path d="M84.0 101.0 C85.7 102.5 90.8 107.7 94.0 110.0 C97.2 112.3 100.0 115.2 103.0 115.0 C106.0 114.8 110.5 110.0 112.0 109.0" fill="none" stroke="#000" stroke-width="10.20" stroke-linecap="round" stroke-linejoin="round"/><path d="M103.0 115.0 L103.0 115.0" fill="none" stroke="#000" stroke-width="13.20" stroke-linecap="round" stroke-linejoin="round"/><path d="M49.0 50.0 L60.0 59.0" fill="none" stroke="#fff" stroke-width="18.80" stroke-linecap="round" stroke-linejoin="round"/><path d="M60.0 59.0 C61.7 61.7 67.0 69.8 70.0 75.0 C73.0 80.2 75.7 85.7 78.0 90.0 C80.3 94.3 83.0 99.2 84.0 101.0" fill="none" stroke="#fff" stroke-width="7.80" stroke-linecap="round" stroke-linejoin="round"/><path d="M84.0 101.0 L84.0 101.0" fill="none" stroke="#fff" stroke-width="13.80" stroke-linecap="round" stroke-linejoin="round"/><path d="M84.0 101.0 C85.7 102.5 90.8 107.7 94.0 110.0 C97.2 112.3 100.0 115.2 103.0 115.0 C106.0 114.8 110.5 110.0 112.0 109.0" fill="none" stroke="#fff" stroke-width="6.80" stroke-linecap="round" stroke-linejoin="round"/><path d="M103.0 115.0 L103.0 115.0" fill="none" stroke="#fff" stroke-width="9.80" stroke-linecap="round" stroke-linejoin="round"/><path d="M49.0 50.0 L60.0 59.0" fill="none" stroke="#000" stroke-width="17.20" stroke-linecap="round" stroke-linejoin="round"/><path d="M60.0 59.0 C61.7 61.7 67.0 69.8 70.0 75.0 C73.0 80.2 75.7 85.7 78.0 90.0 C80.3 94.3 83.0 99.2 84.0 101.0" fill="none" stroke="#000" stroke-width="6.20" stroke-linecap="round" stroke-linejoin="round"/><path d="M84.0 101.0 L84.0 101.0" fill="none" stroke="#000" stroke-width="12.20" stroke-linecap="round" stroke-linejoin="round"/><path d="M84.0 101.0 C85.7 102.5 90.8 107.7 94.0 110.0 C97.2 112.3 100.0 115.2 103.0 115.0 C106.0 114.8 110.5 110.0 112.0 109.0" fill="none" stroke="#000" stroke-width="5.20" stroke-linecap="round" stroke-linejoin="round"/><path d="M103.0 115.0 L103.0 115.0" fill="none" stroke="#000" stroke-width="8.20" stroke-linecap="round" stroke-linejoin="round"/></mask>
<mask id="mc7" maskUnits="userSpaceOnUse" x="-50" y="-50" width="300" height="300"><path d="M49.0 50.0 L60.0 59.0" fill="none" stroke="#fff" stroke-width="18.00" stroke-linecap="round" stroke-linejoin="round"/><path d="M58.0 58.0 L64.0 68.0" fill="none" stroke="#fff" stroke-width="14.00" stroke-linecap="round" stroke-linejoin="round"/></mask>
<mask id="mc8" maskUnits="userSpaceOnUse" x="-50" y="-50" width="300" height="300"><path d="M49.0 50.0 L60.0 59.0" fill="none" stroke="#fff" stroke-width="14.00" stroke-linecap="round" stroke-linejoin="round"/><path d="M60.0 59.0 L68.0 72.0" fill="none" stroke="#fff" stroke-width="8.00" stroke-linecap="round" stroke-linejoin="round"/><path d="M84.0 101.0 L84.0 101.0" fill="none" stroke="#fff" stroke-width="11.00" stroke-linecap="round" stroke-linejoin="round"/><path d="M103.0 115.0 L103.0 115.0" fill="none" stroke="#fff" stroke-width="8.00" stroke-linecap="round" stroke-linejoin="round"/><path d="M49.0 50.0 L60.0 59.0" fill="none" stroke="#000" stroke-width="4.00" stroke-linecap="round" stroke-linejoin="round"/><path d="M84.0 101.0 L84.0 101.0" fill="none" stroke="#000" stroke-width="1.00" stroke-linecap="round" stroke-linejoin="round"/></mask>
<mask id="mc9" maskUnits="userSpaceOnUse" x="-50" y="-50" width="300" height="300"><path d="M49.0 50.0 L60.0 59.0" fill="none" stroke="#fff" stroke-width="15.60" stroke-linecap="round" stroke-linejoin="round"/><path d="M60.0 59.0 L68.0 72.0" fill="none" stroke="#fff" stroke-width="9.60" stroke-linecap="round" stroke-linejoin="round"/><path d="M84.0 101.0 L84.0 101.0" fill="none" stroke="#fff" stroke-width="12.60" stroke-linecap="round" stroke-linejoin="round"/><path d="M103.0 115.0 L103.0 115.0" fill="none" stroke="#fff" stroke-width="9.60" stroke-linecap="round" stroke-linejoin="round"/><path d="M49.0 50.0 L60.0 59.0" fill="none" stroke="#000" stroke-width="14.40" stroke-linecap="round" stroke-linejoin="round"/><path d="M60.0 59.0 L68.0 72.0" fill="none" stroke="#000" stroke-width="8.40" stroke-linecap="round" stroke-linejoin="round"/><path d="M84.0 101.0 L84.0 101.0" fill="none" stroke="#000" stroke-width="11.40" stroke-linecap="round" stroke-linejoin="round"/><path d="M103.0 115.0 L103.0 115.0" fill="none" stroke="#000" stroke-width="8.40" stroke-linecap="round" stroke-linejoin="round"/><path d="M49.0 50.0 L60.0 59.0" fill="none" stroke="#fff" stroke-width="11.60" stroke-linecap="round" stroke-linejoin="round"/><path d="M60.0 59.0 L68.0 72.0" fill="none" stroke="#fff" stroke-width="5.60" stroke-linecap="round" stroke-linejoin="round"/><path d="M84.0 101.0 L84.0 101.0" fill="none" stroke="#fff" stroke-width="8.60" stroke-linecap="round" stroke-linejoin="round"/><path d="M103.0 115.0 L103.0 115.0" fill="none" stroke="#fff" stroke-width="5.60" stroke-linecap="round" stroke-linejoin="round"/><path d="M49.0 50.0 L60.0 59.0" fill="none" stroke="#000" stroke-width="10.40" stroke-linecap="round" stroke-linejoin="round"/><path d="M60.0 59.0 L68.0 72.0" fill="none" stroke="#000" stroke-width="4.40" stroke-linecap="round" stroke-linejoin="round"/><path d="M84.0 101.0 L84.0 101.0" fill="none" stroke="#000" stroke-width="7.40" stroke-linecap="round" stroke-linejoin="round"/><path d="M103.0 115.0 L103.0 115.0" fill="none" stroke="#000" stroke-width="4.40" stroke-linecap="round" stroke-linejoin="round"/><path d="M49.0 50.0 L60.0 59.0" fill="none" stroke="#fff" stroke-width="7.60" stroke-linecap="round" stroke-linejoin="round"/><path d="M60.0 59.0 L68.0 72.0" fill="none" stroke="#fff" stroke-width="1.60" stroke-linecap="round" stroke-linejoin="round"/><path d="M84.0 101.0 L84.0 101.0" fill="none" stroke="#fff" stroke-width="4.60" stroke-linecap="round" stroke-linejoin="round"/><path d="M103.0 115.0 L103.0 115.0" fill="none" stroke="#fff" stroke-width="1.60" stroke-linecap="round" stroke-linejoin="round"/><path d="M49.0 50.0 L60.0 59.0" fill="none" stroke="#000" stroke-width="6.40" stroke-linecap="round" stroke-linejoin="round"/><path d="M60.0 59.0 L68.0 72.0" fill="none" stroke="#000" stroke-width="0.40" stroke-linecap="round" stroke-linejoin="round"/><path d="M84.0 101.0 L84.0 101.0" fill="none" stroke="#000" stroke-width="3.40" stroke-linecap="round" stroke-linejoin="round"/><path d="M103.0 115.0 L103.0 115.0" fill="none" stroke="#000" stroke-width="0.40" stroke-linecap="round" stroke-linejoin="round"/></mask>
<mask id="mc10" maskUnits="userSpaceOnUse" x="-50" y="-50" width="300" height="300"><path d="M56.0 47.0 L58.6 50.7 L62.9 57.9 L65.7 66.4 L68.0 72.0" fill="none" stroke="#fff" stroke-width="12.65" stroke-linecap="round" stroke-linejoin="round"/><path d="M82.6 100.3 L82.6 100.3" fill="none" stroke="#fff" stroke-width="12.65" stroke-linecap="round" stroke-linejoin="round"/><path d="M100.3 115.1 L100.3 115.1" fill="none" stroke="#fff" stroke-width="12.65" stroke-linecap="round" stroke-linejoin="round"/><path d="M113.3 107.7 L113.3 107.7" fill="none" stroke="#fff" stroke-width="8.65" stroke-linecap="round" stroke-linejoin="round"/><path d="M56.0 47.0 L58.6 50.7 L62.9 57.9 L65.7 66.4 L68.0 72.0" fill="none" stroke="#000" stroke-width="11.35" stroke-linecap="round" stroke-linejoin="round"/><path d="M82.6 100.3 L82.6 100.3" fill="none" stroke="#000" stroke-width="11.35" stroke-linecap="round" stroke-linejoin="round"/><path d="M100.3 115.1 L100.3 115.1" fill="none" stroke="#000" stroke-width="11.35" stroke-linecap="round" stroke-linejoin="round"/><path d="M113.3 107.7 L113.3 107.7" fill="none" stroke="#000" stroke-width="7.35" stroke-linecap="round" stroke-linejoin="round"/><path d="M56.0 47.0 L58.6 50.7 L62.9 57.9 L65.7 66.4 L68.0 72.0" fill="none" stroke="#fff" stroke-width="9.65" stroke-linecap="round" stroke-linejoin="round"/><path d="M82.6 100.3 L82.6 100.3" fill="none" stroke="#fff" stroke-width="9.65" stroke-linecap="round" stroke-linejoin="round"/><path d="M100.3 115.1 L100.3 115.1" fill="none" stroke="#fff" stroke-width="9.65" stroke-linecap="round" stroke-linejoin="round"/><path d="M113.3 107.7 L113.3 107.7" fill="none" stroke="#fff" stroke-width="5.65" stroke-linecap="round" stroke-linejoin="round"/><path d="M56.0 47.0 L58.6 50.7 L62.9 57.9 L65.7 66.4 L68.0 72.0" fill="none" stroke="#000" stroke-width="8.35" stroke-linecap="round" stroke-linejoin="round"/><path d="M82.6 100.3 L82.6 100.3" fill="none" stroke="#000" stroke-width="8.35" stroke-linecap="round" stroke-linejoin="round"/><path d="M100.3 115.1 L100.3 115.1" fill="none" stroke="#000" stroke-width="8.35" stroke-linecap="round" stroke-linejoin="round"/><path d="M113.3 107.7 L113.3 107.7" fill="none" stroke="#000" stroke-width="4.35" stroke-linecap="round" stroke-linejoin="round"/><path d="M56.0 47.0 L58.6 50.7 L62.9 57.9 L65.7 66.4 L68.0 72.0" fill="none" stroke="#fff" stroke-width="6.65" stroke-linecap="round" stroke-linejoin="round"/><path d="M82.6 100.3 L82.6 100.3" fill="none" stroke="#fff" stroke-width="6.65" stroke-linecap="round" stroke-linejoin="round"/><path d="M100.3 115.1 L100.3 115.1" fill="none" stroke="#fff" stroke-width="6.65" stroke-linecap="round" stroke-linejoin="round"/><path d="M113.3 107.7 L113.3 107.7" fill="none" stroke="#fff" stroke-width="2.65" stroke-linecap="round" stroke-linejoin="round"/><path d="M56.0 47.0 L58.6 50.7 L62.9 57.9 L65.7 66.4 L68.0 72.0" fill="none" stroke="#000" stroke-width="5.35" stroke-linecap="round" stroke-linejoin="round"/><path d="M82.6 100.3 L82.6 100.3" fill="none" stroke="#000" stroke-width="5.35" stroke-linecap="round" stroke-linejoin="round"/><path d="M100.3 115.1 L100.3 115.1" fill="none" stroke="#000" stroke-width="5.35" stroke-linecap="round" stroke-linejoin="round"/><path d="M113.3 107.7 L113.3 107.7" fill="none" stroke="#000" stroke-width="1.35" stroke-linecap="round" stroke-linejoin="round"/><path d="M56.0 47.0 L58.6 50.7 L62.9 57.9 L65.7 66.4 L68.0 72.0" fill="none" stroke="#fff" stroke-width="3.65" stroke-linecap="round" stroke-linejoin="round"/><path d="M82.6 100.3 L82.6 100.3" fill="none" stroke="#fff" stroke-width="3.65" stroke-linecap="round" stroke-linejoin="round"/><path d="M100.3 115.1 L100.3 115.1" fill="none" stroke="#fff" stroke-width="3.65" stroke-linecap="round" stroke-linejoin="round"/><path d="M56.0 47.0 L58.6 50.7 L62.9 57.9 L65.7 66.4 L68.0 72.0" fill="none" stroke="#000" stroke-width="2.35" stroke-linecap="round" stroke-linejoin="round"/><path d="M82.6 100.3 L82.6 100.3" fill="none" stroke="#000" stroke-width="2.35" stroke-linecap="round" stroke-linejoin="round"/><path d="M100.3 115.1 L100.3 115.1" fill="none" stroke="#000" stroke-width="2.35" stroke-linecap="round" stroke-linejoin="round"/></mask>
<mask id="mc11" maskUnits="userSpaceOnUse" x="-50" y="-50" width="300" height="300"><path d="M11.5 20.0 L17.0 12.0" fill="none" stroke="#fff" stroke-width="4.60" stroke-linecap="round" stroke-linejoin="round"/><path d="M11.5 20.0 L17.0 12.0" fill="none" stroke="#000" stroke-width="3.40" stroke-linecap="round" stroke-linejoin="round"/><path d="M11.5 20.0 L17.0 12.0" fill="none" stroke="#fff" stroke-width="2.40" stroke-linecap="round" stroke-linejoin="round"/><path d="M11.5 20.0 L17.0 12.0" fill="none" stroke="#000" stroke-width="1.20" stroke-linecap="round" stroke-linejoin="round"/></mask>
<mask id="mc12" maskUnits="userSpaceOnUse" x="-50" y="-50" width="300" height="300"><path d="M11.5 20.0 L17.0 12.0" fill="none" stroke="#fff" stroke-width="6.40" stroke-linecap="round" stroke-linejoin="round"/><path d="M11.5 20.0 L17.0 12.0" fill="none" stroke="#000" stroke-width="5.20" stroke-linecap="round" stroke-linejoin="round"/></mask>
<mask id="mc13" maskUnits="userSpaceOnUse" x="-50" y="-50" width="300" height="300"><path d="M123.5 26.0 L123.5 26.0" fill="none" stroke="#fff" stroke-width="9.20" stroke-linecap="round" stroke-linejoin="round"/></mask>
<mask id="mc14" maskUnits="userSpaceOnUse" x="-50" y="-50" width="300" height="300"><path d="M123.5 26.0 L123.5 26.0" fill="none" stroke="#fff" stroke-width="17.60" stroke-linecap="round" stroke-linejoin="round"/><path d="M123.5 26.0 L123.5 26.0" fill="none" stroke="#000" stroke-width="16.00" stroke-linecap="round" stroke-linejoin="round"/><path d="M123.5 26.0 L123.5 26.0" fill="none" stroke="#fff" stroke-width="15.00" stroke-linecap="round" stroke-linejoin="round"/><path d="M123.5 26.0 L123.5 26.0" fill="none" stroke="#000" stroke-width="13.40" stroke-linecap="round" stroke-linejoin="round"/><path d="M123.5 26.0 L123.5 26.0" fill="none" stroke="#fff" stroke-width="12.60" stroke-linecap="round" stroke-linejoin="round"/><path d="M123.5 26.0 L123.5 26.0" fill="none" stroke="#000" stroke-width="11.00" stroke-linecap="round" stroke-linejoin="round"/></mask>
<mask id="mc15" maskUnits="userSpaceOnUse" x="-50" y="-50" width="300" height="300"><path d="M123.5 26.0 L123.5 26.0" fill="none" stroke="#fff" stroke-width="9.90" stroke-linecap="round" stroke-linejoin="round"/><path d="M123.5 26.0 L123.5 26.0" fill="none" stroke="#000" stroke-width="8.50" stroke-linecap="round" stroke-linejoin="round"/><path d="M123.5 26.0 L123.5 26.0" fill="none" stroke="#fff" stroke-width="7.50" stroke-linecap="round" stroke-linejoin="round"/><path d="M123.5 26.0 L123.5 26.0" fill="none" stroke="#000" stroke-width="6.10" stroke-linecap="round" stroke-linejoin="round"/><path d="M123.5 26.0 L123.5 26.0" fill="none" stroke="#fff" stroke-width="5.10" stroke-linecap="round" stroke-linejoin="round"/><path d="M123.5 26.0 L123.5 26.0" fill="none" stroke="#000" stroke-width="3.70" stroke-linecap="round" stroke-linejoin="round"/></mask>
<mask id="mc16" maskUnits="userSpaceOnUse" x="-50" y="-50" width="300" height="300"><path d="M123.5 26.0 L123.5 26.0" fill="none" stroke="#fff" stroke-width="3.00" stroke-linecap="round" stroke-linejoin="round"/><path d="M123.5 26.0 L123.5 26.0" fill="none" stroke="#000" stroke-width="1.80" stroke-linecap="round" stroke-linejoin="round"/></mask>
<mask id="mc17" maskUnits="userSpaceOnUse" x="-50" y="-50" width="300" height="300"><path d="M45.5 109.6 L45.5 109.6" fill="none" stroke="#fff" stroke-width="8.20" stroke-linecap="round" stroke-linejoin="round"/><path d="M45.5 109.6 L45.5 109.6" fill="none" stroke="#000" stroke-width="7.00" stroke-linecap="round" stroke-linejoin="round"/></mask>
<mask id="mc18" maskUnits="userSpaceOnUse" x="-50" y="-50" width="300" height="300"><path d="M45.5 109.6 L45.5 109.6" fill="none" stroke="#fff" stroke-width="5.20" stroke-linecap="round" stroke-linejoin="round"/><path d="M45.5 109.6 L45.5 109.6" fill="none" stroke="#000" stroke-width="4.00" stroke-linecap="round" stroke-linejoin="round"/></mask>
<mask id="mc19" maskUnits="userSpaceOnUse" x="-50" y="-50" width="300" height="300"><path d="M45.5 109.6 L45.5 109.6" fill="none" stroke="#fff" stroke-width="3.20" stroke-linecap="round" stroke-linejoin="round"/><path d="M45.5 109.6 L45.5 109.6" fill="none" stroke="#000" stroke-width="2.00" stroke-linecap="round" stroke-linejoin="round"/></mask>
<mask id="mc20" maskUnits="userSpaceOnUse" x="-50" y="-50" width="300" height="300"><path d="M120.7 87.3 L120.7 87.3" fill="none" stroke="#fff" stroke-width="7.00" stroke-linecap="round" stroke-linejoin="round"/><path d="M120.7 87.3 L120.7 87.3" fill="none" stroke="#000" stroke-width="5.80" stroke-linecap="round" stroke-linejoin="round"/></mask>
<mask id="mc21" maskUnits="userSpaceOnUse" x="-50" y="-50" width="300" height="300"><path d="M120.7 87.3 L120.7 87.3" fill="none" stroke="#fff" stroke-width="4.00" stroke-linecap="round" stroke-linejoin="round"/><path d="M120.7 87.3 L120.7 87.3" fill="none" stroke="#000" stroke-width="2.80" stroke-linecap="round" stroke-linejoin="round"/></mask>
<mask id="mc22" maskUnits="userSpaceOnUse" x="-50" y="-50" width="300" height="300"><path d="M120.7 87.3 L120.7 87.3" fill="none" stroke="#fff" stroke-width="2.00" stroke-linecap="round" stroke-linejoin="round"/><path d="M120.7 87.3 L120.7 87.3" fill="none" stroke="#000" stroke-width="0.80" stroke-linecap="round" stroke-linejoin="round"/></mask>
<filter id="graind" x="0" y="0" width="1" height="1" color-interpolation-filters="sRGB"><feTurbulence type="fractalNoise" baseFrequency="0.32" numOctaves="2" seed="100"/><feColorMatrix type="matrix" values="0.300 0 0 0 0.697  0.300 0 0 0 0.697  0.300 0 0 0 0.697  0 0 0 0 1"/><feGaussianBlur stdDeviation="0.6"/></filter>
<filter id="fd1" x="-0.1" y="-0.1" width="1.2" height="1.2"><feGaussianBlur stdDeviation="0.40"/></filter>
<filter id="fd2" x="-0.1" y="-0.1" width="1.2" height="1.2"><feGaussianBlur stdDeviation="0.62"/></filter>
<filter id="fd3" x="-0.3" y="-0.3" width="1.6" height="1.6"><feGaussianBlur stdDeviation="0.70"/></filter>
<filter id="fd4" x="-1" y="-1" width="3" height="3"><feGaussianBlur stdDeviation="2.00"/></filter>
<filter id="fd5" x="-0.3" y="-0.3" width="1.6" height="1.6"><feGaussianBlur stdDeviation="0.80"/></filter>
<filter id="fd6" x="-0.1" y="-0.1" width="1.2" height="1.2"><feGaussianBlur stdDeviation="0.62"/></filter>
<mask id="md7" maskUnits="userSpaceOnUse" x="-50" y="-50" width="300" height="300"><path d="M52.0 58.0 L52.0 58.0" fill="none" stroke="#fff" stroke-width="36.00" stroke-linecap="round" stroke-linejoin="round"/><path d="M80.0 66.0 L80.0 66.0" fill="none" stroke="#fff" stroke-width="40.00" stroke-linecap="round" stroke-linejoin="round"/><path d="M62.0 74.0 L62.0 74.0" fill="none" stroke="#fff" stroke-width="40.00" stroke-linecap="round" stroke-linejoin="round"/><path d="M48.0 80.0 L48.0 80.0" fill="none" stroke="#fff" stroke-width="30.00" stroke-linecap="round" stroke-linejoin="round"/><path d="M67.0 55.0 L67.0 55.0" fill="none" stroke="#fff" stroke-width="32.00" stroke-linecap="round" stroke-linejoin="round"/></mask>
<mask id="md8" maskUnits="userSpaceOnUse" x="-50" y="-50" width="300" height="300"><path d="M52.0 58.0 L52.0 58.0" fill="none" stroke="#fff" stroke-width="36.60" stroke-linecap="round" stroke-linejoin="round"/><path d="M80.0 66.0 L80.0 66.0" fill="none" stroke="#fff" stroke-width="40.60" stroke-linecap="round" stroke-linejoin="round"/><path d="M62.0 74.0 L62.0 74.0" fill="none" stroke="#fff" stroke-width="40.60" stroke-linecap="round" stroke-linejoin="round"/><path d="M48.0 80.0 L48.0 80.0" fill="none" stroke="#fff" stroke-width="30.60" stroke-linecap="round" stroke-linejoin="round"/><path d="M67.0 55.0 L67.0 55.0" fill="none" stroke="#fff" stroke-width="32.60" stroke-linecap="round" stroke-linejoin="round"/><path d="M52.0 58.0 L52.0 58.0" fill="none" stroke="#000" stroke-width="35.40" stroke-linecap="round" stroke-linejoin="round"/><path d="M80.0 66.0 L80.0 66.0" fill="none" stroke="#000" stroke-width="39.40" stroke-linecap="round" stroke-linejoin="round"/><path d="M62.0 74.0 L62.0 74.0" fill="none" stroke="#000" stroke-width="39.40" stroke-linecap="round" stroke-linejoin="round"/><path d="M48.0 80.0 L48.0 80.0" fill="none" stroke="#000" stroke-width="29.40" stroke-linecap="round" stroke-linejoin="round"/><path d="M67.0 55.0 L67.0 55.0" fill="none" stroke="#000" stroke-width="31.40" stroke-linecap="round" stroke-linejoin="round"/><path d="M52.0 58.0 L52.0 58.0" fill="none" stroke="#fff" stroke-width="32.20" stroke-linecap="round" stroke-linejoin="round"/><path d="M80.0 66.0 L80.0 66.0" fill="none" stroke="#fff" stroke-width="36.20" stroke-linecap="round" stroke-linejoin="round"/><path d="M62.0 74.0 L62.0 74.0" fill="none" stroke="#fff" stroke-width="36.20" stroke-linecap="round" stroke-linejoin="round"/><path d="M48.0 80.0 L48.0 80.0" fill="none" stroke="#fff" stroke-width="26.20" stroke-linecap="round" stroke-linejoin="round"/><path d="M67.0 55.0 L67.0 55.0" fill="none" stroke="#fff" stroke-width="28.20" stroke-linecap="round" stroke-linejoin="round"/><path d="M52.0 58.0 L52.0 58.0" fill="none" stroke="#000" stroke-width="31.00" stroke-linecap="round" stroke-linejoin="round"/><path d="M80.0 66.0 L80.0 66.0" fill="none" stroke="#000" stroke-width="35.00" stroke-linecap="round" stroke-linejoin="round"/><path d="M62.0 74.0 L62.0 74.0" fill="none" stroke="#000" stroke-width="35.00" stroke-linecap="round" stroke-linejoin="round"/><path d="M48.0 80.0 L48.0 80.0" fill="none" stroke="#000" stroke-width="25.00" stroke-linecap="round" stroke-linejoin="round"/><path d="M67.0 55.0 L67.0 55.0" fill="none" stroke="#000" stroke-width="27.00" stroke-linecap="round" stroke-linejoin="round"/><path d="M52.0 58.0 L52.0 58.0" fill="none" stroke="#fff" stroke-width="27.80" stroke-linecap="round" stroke-linejoin="round"/><path d="M80.0 66.0 L80.0 66.0" fill="none" stroke="#fff" stroke-width="31.80" stroke-linecap="round" stroke-linejoin="round"/><path d="M62.0 74.0 L62.0 74.0" fill="none" stroke="#fff" stroke-width="31.80" stroke-linecap="round" stroke-linejoin="round"/><path d="M48.0 80.0 L48.0 80.0" fill="none" stroke="#fff" stroke-width="21.80" stroke-linecap="round" stroke-linejoin="round"/><path d="M67.0 55.0 L67.0 55.0" fill="none" stroke="#fff" stroke-width="23.80" stroke-linecap="round" stroke-linejoin="round"/><path d="M52.0 58.0 L52.0 58.0" fill="none" stroke="#000" stroke-width="26.60" stroke-linecap="round" stroke-linejoin="round"/><path d="M80.0 66.0 L80.0 66.0" fill="none" stroke="#000" stroke-width="30.60" stroke-linecap="round" stroke-linejoin="round"/><path d="M62.0 74.0 L62.0 74.0" fill="none" stroke="#000" stroke-width="30.60" stroke-linecap="round" stroke-linejoin="round"/><path d="M48.0 80.0 L48.0 80.0" fill="none" stroke="#000" stroke-width="20.60" stroke-linecap="round" stroke-linejoin="round"/><path d="M67.0 55.0 L67.0 55.0" fill="none" stroke="#000" stroke-width="22.60" stroke-linecap="round" stroke-linejoin="round"/></mask>
<mask id="md9" maskUnits="userSpaceOnUse" x="-50" y="-50" width="300" height="300"><path d="M62.0 66.0 L80.0 69.0" fill="none" stroke="#fff" stroke-width="84.80" stroke-linecap="round" stroke-linejoin="round"/><path d="M62.0 66.0 L80.0 69.0" fill="none" stroke="#000" stroke-width="83.20" stroke-linecap="round" stroke-linejoin="round"/><path d="M62.0 66.0 L80.0 69.0" fill="none" stroke="#fff" stroke-width="77.80" stroke-linecap="round" stroke-linejoin="round"/><path d="M62.0 66.0 L80.0 69.0" fill="none" stroke="#000" stroke-width="76.20" stroke-linecap="round" stroke-linejoin="round"/><path d="M62.0 66.0 L80.0 69.0" fill="none" stroke="#fff" stroke-width="70.80" stroke-linecap="round" stroke-linejoin="round"/><path d="M62.0 66.0 L80.0 69.0" fill="none" stroke="#000" stroke-width="69.20" stroke-linecap="round" stroke-linejoin="round"/><path d="M62.0 66.0 L80.0 69.0" fill="none" stroke="#fff" stroke-width="63.80" stroke-linecap="round" stroke-linejoin="round"/><path d="M62.0 66.0 L80.0 69.0" fill="none" stroke="#000" stroke-width="62.20" stroke-linecap="round" stroke-linejoin="round"/><path d="M62.0 66.0 L80.0 69.0" fill="none" stroke="#fff" stroke-width="56.80" stroke-linecap="round" stroke-linejoin="round"/><path d="M62.0 66.0 L80.0 69.0" fill="none" stroke="#000" stroke-width="55.20" stroke-linecap="round" stroke-linejoin="round"/><path d="M62.0 66.0 L80.0 69.0" fill="none" stroke="#fff" stroke-width="49.80" stroke-linecap="round" stroke-linejoin="round"/><path d="M62.0 66.0 L80.0 69.0" fill="none" stroke="#000" stroke-width="48.20" stroke-linecap="round" stroke-linejoin="round"/></mask>
<mask id="md10" maskUnits="userSpaceOnUse" x="-50" y="-50" width="300" height="300"><path d="M54.0 54.0 C53.3 56.0 51.3 61.3 50.0 66.0 C48.7 70.7 46.7 79.3 46.0 82.0" fill="none" stroke="#fff" stroke-width="22.60" stroke-linecap="round" stroke-linejoin="round"/><path d="M54.0 54.0 C53.3 56.0 51.3 61.3 50.0 66.0 C48.7 70.7 46.7 79.3 46.0 82.0" fill="none" stroke="#000" stroke-width="21.40" stroke-linecap="round" stroke-linejoin="round"/><path d="M54.0 54.0 C53.3 56.0 51.3 61.3 50.0 66.0 C48.7 70.7 46.7 79.3 46.0 82.0" fill="none" stroke="#fff" stroke-width="17.80" stroke-linecap="round" stroke-linejoin="round"/><path d="M54.0 54.0 C53.3 56.0 51.3 61.3 50.0 66.0 C48.7 70.7 46.7 79.3 46.0 82.0" fill="none" stroke="#000" stroke-width="16.60" stroke-linecap="round" stroke-linejoin="round"/><path d="M54.0 54.0 C53.3 56.0 51.3 61.3 50.0 66.0 C48.7 70.7 46.7 79.3 46.0 82.0" fill="none" stroke="#fff" stroke-width="13.00" stroke-linecap="round" stroke-linejoin="round"/><path d="M54.0 54.0 C53.3 56.0 51.3 61.3 50.0 66.0 C48.7 70.7 46.7 79.3 46.0 82.0" fill="none" stroke="#000" stroke-width="11.80" stroke-linecap="round" stroke-linejoin="round"/><path d="M54.0 54.0 C53.3 56.0 51.3 61.3 50.0 66.0 C48.7 70.7 46.7 79.3 46.0 82.0" fill="none" stroke="#fff" stroke-width="8.20" stroke-linecap="round" stroke-linejoin="round"/><path d="M54.0 54.0 C53.3 56.0 51.3 61.3 50.0 66.0 C48.7 70.7 46.7 79.3 46.0 82.0" fill="none" stroke="#000" stroke-width="7.00" stroke-linecap="round" stroke-linejoin="round"/></mask>
<mask id="md11" maskUnits="userSpaceOnUse" x="-50" y="-50" width="300" height="300"><path d="M54.0 54.0 L54.0 54.0" fill="none" stroke="#fff" stroke-width="8.60" stroke-linecap="round" stroke-linejoin="round"/><path d="M54.0 54.0 L54.0 54.0" fill="none" stroke="#000" stroke-width="7.40" stroke-linecap="round" stroke-linejoin="round"/><path d="M54.0 54.0 L54.0 54.0" fill="none" stroke="#fff" stroke-width="4.60" stroke-linecap="round" stroke-linejoin="round"/><path d="M54.0 54.0 L54.0 54.0" fill="none" stroke="#000" stroke-width="3.40" stroke-linecap="round" stroke-linejoin="round"/></mask>
<mask id="md12" maskUnits="userSpaceOnUse" x="-50" y="-50" width="300" height="300"><path d="M82.0 67.0 L82.0 67.0" fill="none" stroke="#fff" stroke-width="22.60" stroke-linecap="round" stroke-linejoin="round"/><path d="M82.0 67.0 L82.0 67.0" fill="none" stroke="#000" stroke-width="21.40" stroke-linecap="round" stroke-linejoin="round"/><path d="M82.0 67.0 L82.0 67.0" fill="none" stroke="#fff" stroke-width="18.60" stroke-linecap="round" stroke-linejoin="round"/><path d="M82.0 67.0 L82.0 67.0" fill="none" stroke="#000" stroke-width="17.40" stroke-linecap="round" stroke-linejoin="round"/><path d="M82.0 67.0 L82.0 67.0" fill="none" stroke="#fff" stroke-width="14.60" stroke-linecap="round" stroke-linejoin="round"/><path d="M82.0 67.0 L82.0 67.0" fill="none" stroke="#000" stroke-width="13.40" stroke-linecap="round" stroke-linejoin="round"/><path d="M82.0 67.0 L82.0 67.0" fill="none" stroke="#fff" stroke-width="10.60" stroke-linecap="round" stroke-linejoin="round"/><path d="M82.0 67.0 L82.0 67.0" fill="none" stroke="#000" stroke-width="9.40" stroke-linecap="round" stroke-linejoin="round"/><path d="M82.0 67.0 L82.0 67.0" fill="none" stroke="#fff" stroke-width="6.60" stroke-linecap="round" stroke-linejoin="round"/><path d="M82.0 67.0 L82.0 67.0" fill="none" stroke="#000" stroke-width="5.40" stroke-linecap="round" stroke-linejoin="round"/></mask>
<mask id="md13" maskUnits="userSpaceOnUse" x="-50" y="-50" width="300" height="300"><path d="M54.0 54.0 L54.0 54.0" fill="none" stroke="#fff" stroke-width="3.80" stroke-linecap="round" stroke-linejoin="round"/><path d="M54.0 54.0 L54.0 54.0" fill="none" stroke="#000" stroke-width="2.20" stroke-linecap="round" stroke-linejoin="round"/></mask>
<mask id="md14" maskUnits="userSpaceOnUse" x="-50" y="-50" width="300" height="300"><path d="M82.0 67.0 L82.0 67.0" fill="none" stroke="#fff" stroke-width="3.80" stroke-linecap="round" stroke-linejoin="round"/><path d="M82.0 67.0 L82.0 67.0" fill="none" stroke="#000" stroke-width="2.20" stroke-linecap="round" stroke-linejoin="round"/></mask>
<mask id="md15" maskUnits="userSpaceOnUse" x="-50" y="-50" width="300" height="300"><path d="M-3.0 60.0 L-3.0 60.0" fill="none" stroke="#fff" stroke-width="16.60" stroke-linecap="round" stroke-linejoin="round"/><path d="M-3.0 60.0 L-3.0 60.0" fill="none" stroke="#000" stroke-width="15.40" stroke-linecap="round" stroke-linejoin="round"/><path d="M-3.0 60.0 L-3.0 60.0" fill="none" stroke="#fff" stroke-width="13.60" stroke-linecap="round" stroke-linejoin="round"/><path d="M-3.0 60.0 L-3.0 60.0" fill="none" stroke="#000" stroke-width="12.40" stroke-linecap="round" stroke-linejoin="round"/><path d="M-3.0 60.0 L-3.0 60.0" fill="none" stroke="#fff" stroke-width="10.60" stroke-linecap="round" stroke-linejoin="round"/><path d="M-3.0 60.0 L-3.0 60.0" fill="none" stroke="#000" stroke-width="9.40" stroke-linecap="round" stroke-linejoin="round"/></mask>
<filter id="graine" x="0" y="0" width="1" height="1" color-interpolation-filters="sRGB"><feTurbulence type="fractalNoise" baseFrequency="0.32" numOctaves="2" seed="101"/><feColorMatrix type="matrix" values="0.300 0 0 0 0.752  0.300 0 0 0 0.752  0.300 0 0 0 0.752  0 0 0 0 1"/><feGaussianBlur stdDeviation="0.6"/></filter>
<filter id="fe1" x="-0.1" y="-0.1" width="1.2" height="1.2"><feGaussianBlur stdDeviation="0.40"/></filter>
<filter id="fe2" x="-0.1" y="-0.1" width="1.2" height="1.2"><feGaussianBlur stdDeviation="0.62"/></filter>
<mask id="me3" maskUnits="userSpaceOnUse" x="-50" y="-50" width="300" height="300"><path d="M37.0 71.0 L62.0 53.0" fill="none" stroke="#fff" stroke-width="29.00" stroke-linecap="round" stroke-linejoin="round"/><path d="M96.0 77.0 L98.0 80.0" fill="none" stroke="#fff" stroke-width="41.00" stroke-linecap="round" stroke-linejoin="round"/><path d="M62.0 57.0 L92.0 78.0" fill="none" stroke="#fff" stroke-width="26.00" stroke-linecap="round" stroke-linejoin="round"/><path d="M37.0 71.0 L62.0 53.0" fill="none" stroke="#000" stroke-width="7.00" stroke-linecap="round" stroke-linejoin="round"/><path d="M96.0 77.0 L98.0 80.0" fill="none" stroke="#000" stroke-width="19.00" stroke-linecap="round" stroke-linejoin="round"/><path d="M62.0 57.0 L92.0 78.0" fill="none" stroke="#000" stroke-width="4.00" stroke-linecap="round" stroke-linejoin="round"/></mask>
<mask id="me4" maskUnits="userSpaceOnUse" x="-50" y="-50" width="300" height="300"><path d="M37.0 71.0 L62.0 53.0" fill="none" stroke="#fff" stroke-width="29.60" stroke-linecap="round" stroke-linejoin="round"/><path d="M96.0 77.0 L98.0 80.0" fill="none" stroke="#fff" stroke-width="41.60" stroke-linecap="round" stroke-linejoin="round"/><path d="M62.0 57.0 L92.0 78.0" fill="none" stroke="#fff" stroke-width="26.60" stroke-linecap="round" stroke-linejoin="round"/><path d="M37.0 71.0 L62.0 53.0" fill="none" stroke="#000" stroke-width="28.40" stroke-linecap="round" stroke-linejoin="round"/><path d="M96.0 77.0 L98.0 80.0" fill="none" stroke="#000" stroke-width="40.40" stroke-linecap="round" stroke-linejoin="round"/><path d="M62.0 57.0 L92.0 78.0" fill="none" stroke="#000" stroke-width="25.40" stroke-linecap="round" stroke-linejoin="round"/><path d="M37.0 71.0 L62.0 53.0" fill="none" stroke="#fff" stroke-width="24.80" stroke-linecap="round" stroke-linejoin="round"/><path d="M96.0 77.0 L98.0 80.0" fill="none" stroke="#fff" stroke-width="36.80" stroke-linecap="round" stroke-linejoin="round"/><path d="M62.0 57.0 L92.0 78.0" fill="none" stroke="#fff" stroke-width="21.80" stroke-linecap="round" stroke-linejoin="round"/><path d="M37.0 71.0 L62.0 53.0" fill="none" stroke="#000" stroke-width="23.60" stroke-linecap="round" stroke-linejoin="round"/><path d="M96.0 77.0 L98.0 80.0" fill="none" stroke="#000" stroke-width="35.60" stroke-linecap="round" stroke-linejoin="round"/><path d="M62.0 57.0 L92.0 78.0" fill="none" stroke="#000" stroke-width="20.60" stroke-linecap="round" stroke-linejoin="round"/><path d="M37.0 71.0 L62.0 53.0" fill="none" stroke="#fff" stroke-width="20.00" stroke-linecap="round" stroke-linejoin="round"/><path d="M96.0 77.0 L98.0 80.0" fill="none" stroke="#fff" stroke-width="32.00" stroke-linecap="round" stroke-linejoin="round"/><path d="M62.0 57.0 L92.0 78.0" fill="none" stroke="#fff" stroke-width="17.00" stroke-linecap="round" stroke-linejoin="round"/><path d="M37.0 71.0 L62.0 53.0" fill="none" stroke="#000" stroke-width="18.80" stroke-linecap="round" stroke-linejoin="round"/><path d="M96.0 77.0 L98.0 80.0" fill="none" stroke="#000" stroke-width="30.80" stroke-linecap="round" stroke-linejoin="round"/><path d="M62.0 57.0 L92.0 78.0" fill="none" stroke="#000" stroke-width="15.80" stroke-linecap="round" stroke-linejoin="round"/><path d="M37.0 71.0 L62.0 53.0" fill="none" stroke="#fff" stroke-width="15.20" stroke-linecap="round" stroke-linejoin="round"/><path d="M96.0 77.0 L98.0 80.0" fill="none" stroke="#fff" stroke-width="27.20" stroke-linecap="round" stroke-linejoin="round"/><path d="M62.0 57.0 L92.0 78.0" fill="none" stroke="#fff" stroke-width="12.20" stroke-linecap="round" stroke-linejoin="round"/><path d="M37.0 71.0 L62.0 53.0" fill="none" stroke="#000" stroke-width="14.00" stroke-linecap="round" stroke-linejoin="round"/><path d="M96.0 77.0 L98.0 80.0" fill="none" stroke="#000" stroke-width="26.00" stroke-linecap="round" stroke-linejoin="round"/><path d="M62.0 57.0 L92.0 78.0" fill="none" stroke="#000" stroke-width="11.00" stroke-linecap="round" stroke-linejoin="round"/><path d="M37.0 71.0 L62.0 53.0" fill="none" stroke="#fff" stroke-width="10.40" stroke-linecap="round" stroke-linejoin="round"/><path d="M96.0 77.0 L98.0 80.0" fill="none" stroke="#fff" stroke-width="22.40" stroke-linecap="round" stroke-linejoin="round"/><path d="M62.0 57.0 L92.0 78.0" fill="none" stroke="#fff" stroke-width="7.40" stroke-linecap="round" stroke-linejoin="round"/><path d="M37.0 71.0 L62.0 53.0" fill="none" stroke="#000" stroke-width="9.20" stroke-linecap="round" stroke-linejoin="round"/><path d="M96.0 77.0 L98.0 80.0" fill="none" stroke="#000" stroke-width="21.20" stroke-linecap="round" stroke-linejoin="round"/><path d="M62.0 57.0 L92.0 78.0" fill="none" stroke="#000" stroke-width="6.20" stroke-linecap="round" stroke-linejoin="round"/></mask>
<mask id="me5" maskUnits="userSpaceOnUse" x="-50" y="-50" width="300" height="300"><path d="M37.0 71.0 L62.0 53.0" fill="none" stroke="#fff" stroke-width="50.80" stroke-linecap="round" stroke-linejoin="round"/><path d="M96.0 77.0 L98.0 80.0" fill="none" stroke="#fff" stroke-width="62.80" stroke-linecap="round" stroke-linejoin="round"/><path d="M62.0 57.0 L92.0 78.0" fill="none" stroke="#fff" stroke-width="47.80" stroke-linecap="round" stroke-linejoin="round"/><path d="M37.0 71.0 L62.0 53.0" fill="none" stroke="#000" stroke-width="49.20" stroke-linecap="round" stroke-linejoin="round"/><path d="M96.0 77.0 L98.0 80.0" fill="none" stroke="#000" stroke-width="61.20" stroke-linecap="round" stroke-linejoin="round"/><path d="M62.0 57.0 L92.0 78.0" fill="none" stroke="#000" stroke-width="46.20" stroke-linecap="round" stroke-linejoin="round"/><path d="M37.0 71.0 L62.0 53.0" fill="none" stroke="#fff" stroke-width="43.00" stroke-linecap="round" stroke-linejoin="round"/><path d="M96.0 77.0 L98.0 80.0" fill="none" stroke="#fff" stroke-width="55.00" stroke-linecap="round" stroke-linejoin="round"/><path d="M62.0 57.0 L92.0 78.0" fill="none" stroke="#fff" stroke-width="40.00" stroke-linecap="round" stroke-linejoin="round"/><path d="M37.0 71.0 L62.0 53.0" fill="none" stroke="#000" stroke-width="41.40" stroke-linecap="round" stroke-linejoin="round"/><path d="M96.0 77.0 L98.0 80.0" fill="none" stroke="#000" stroke-width="53.40" stroke-linecap="round" stroke-linejoin="round"/><path d="M62.0 57.0 L92.0 78.0" fill="none" stroke="#000" stroke-width="38.40" stroke-linecap="round" stroke-linejoin="round"/><path d="M37.0 71.0 L62.0 53.0" fill="none" stroke="#fff" stroke-width="35.40" stroke-linecap="round" stroke-linejoin="round"/><path d="M96.0 77.0 L98.0 80.0" fill="none" stroke="#fff" stroke-width="47.40" stroke-linecap="round" stroke-linejoin="round"/><path d="M62.0 57.0 L92.0 78.0" fill="none" stroke="#fff" stroke-width="32.40" stroke-linecap="round" stroke-linejoin="round"/><path d="M37.0 71.0 L62.0 53.0" fill="none" stroke="#000" stroke-width="33.80" stroke-linecap="round" stroke-linejoin="round"/><path d="M96.0 77.0 L98.0 80.0" fill="none" stroke="#000" stroke-width="45.80" stroke-linecap="round" stroke-linejoin="round"/><path d="M62.0 57.0 L92.0 78.0" fill="none" stroke="#000" stroke-width="30.80" stroke-linecap="round" stroke-linejoin="round"/></mask>
<mask id="me6" maskUnits="userSpaceOnUse" x="-50" y="-50" width="300" height="300"><path d="M38.0 69.0 L52.0 60.0" fill="none" stroke="#fff" stroke-width="16.60" stroke-linecap="round" stroke-linejoin="round"/><path d="M38.0 69.0 L52.0 60.0" fill="none" stroke="#000" stroke-width="15.40" stroke-linecap="round" stroke-linejoin="round"/><path d="M38.0 69.0 L52.0 60.0" fill="none" stroke="#fff" stroke-width="12.60" stroke-linecap="round" stroke-linejoin="round"/><path d="M38.0 69.0 L52.0 60.0" fill="none" stroke="#000" stroke-width="11.40" stroke-linecap="round" stroke-linejoin="round"/><path d="M38.0 69.0 L52.0 60.0" fill="none" stroke="#fff" stroke-width="8.60" stroke-linecap="round" stroke-linejoin="round"/><path d="M38.0 69.0 L52.0 60.0" fill="none" stroke="#000" stroke-width="7.40" stroke-linecap="round" stroke-linejoin="round"/><path d="M38.0 69.0 L52.0 60.0" fill="none" stroke="#fff" stroke-width="4.60" stroke-linecap="round" stroke-linejoin="round"/><path d="M38.0 69.0 L52.0 60.0" fill="none" stroke="#000" stroke-width="3.40" stroke-linecap="round" stroke-linejoin="round"/></mask>
<mask id="me7" maskUnits="userSpaceOnUse" x="-50" y="-50" width="300" height="300"><path d="M62.4 46.7 L62.4 46.7" fill="none" stroke="#fff" stroke-width="8.00" stroke-linecap="round" stroke-linejoin="round"/></mask>
<mask id="me8" maskUnits="userSpaceOnUse" x="-50" y="-50" width="300" height="300"><path d="M62.4 46.7 L62.4 46.7" fill="none" stroke="#fff" stroke-width="12.70" stroke-linecap="round" stroke-linejoin="round"/><path d="M62.4 46.7 L62.4 46.7" fill="none" stroke="#000" stroke-width="11.30" stroke-linecap="round" stroke-linejoin="round"/><path d="M62.4 46.7 L62.4 46.7" fill="none" stroke="#fff" stroke-width="9.70" stroke-linecap="round" stroke-linejoin="round"/><path d="M62.4 46.7 L62.4 46.7" fill="none" stroke="#000" stroke-width="8.30" stroke-linecap="round" stroke-linejoin="round"/><path d="M62.4 46.7 L62.4 46.7" fill="none" stroke="#fff" stroke-width="6.70" stroke-linecap="round" stroke-linejoin="round"/><path d="M62.4 46.7 L62.4 46.7" fill="none" stroke="#000" stroke-width="5.30" stroke-linecap="round" stroke-linejoin="round"/></mask>
<mask id="me9" maskUnits="userSpaceOnUse" x="-50" y="-50" width="300" height="300"><path d="M95.0 84.0 L98.0 88.0" fill="none" stroke="#fff" stroke-width="20.60" stroke-linecap="round" stroke-linejoin="round"/><path d="M95.0 84.0 L98.0 88.0" fill="none" stroke="#000" stroke-width="19.40" stroke-linecap="round" stroke-linejoin="round"/><path d="M95.0 84.0 L98.0 88.0" fill="none" stroke="#fff" stroke-width="16.60" stroke-linecap="round" stroke-linejoin="round"/><path d="M95.0 84.0 L98.0 88.0" fill="none" stroke="#000" stroke-width="15.40" stroke-linecap="round" stroke-linejoin="round"/><path d="M95.0 84.0 L98.0 88.0" fill="none" stroke="#fff" stroke-width="12.60" stroke-linecap="round" stroke-linejoin="round"/><path d="M95.0 84.0 L98.0 88.0" fill="none" stroke="#000" stroke-width="11.40" stroke-linecap="round" stroke-linejoin="round"/><path d="M95.0 84.0 L98.0 88.0" fill="none" stroke="#fff" stroke-width="8.60" stroke-linecap="round" stroke-linejoin="round"/><path d="M95.0 84.0 L98.0 88.0" fill="none" stroke="#000" stroke-width="7.40" stroke-linecap="round" stroke-linejoin="round"/><path d="M95.0 84.0 L98.0 88.0" fill="none" stroke="#fff" stroke-width="4.60" stroke-linecap="round" stroke-linejoin="round"/><path d="M95.0 84.0 L98.0 88.0" fill="none" stroke="#000" stroke-width="3.40" stroke-linecap="round" stroke-linejoin="round"/></mask>
<filter id="fe10" x="-0.1" y="-0.1" width="1.2" height="1.2"><feGaussianBlur stdDeviation="0.62"/></filter>
<filter id="grainf" x="0" y="0" width="1" height="1" color-interpolation-filters="sRGB"><feTurbulence type="fractalNoise" baseFrequency="0.32" numOctaves="2" seed="102"/><feColorMatrix type="matrix" values="0.300 0 0 0 0.697  0.300 0 0 0 0.697  0.300 0 0 0 0.697  0 0 0 0 1"/><feGaussianBlur stdDeviation="0.6"/></filter>
<filter id="ff1" x="-0.1" y="-0.1" width="1.2" height="1.2"><feGaussianBlur stdDeviation="0.40"/></filter>
<filter id="ff2" x="-0.1" y="-0.1" width="1.2" height="1.2"><feGaussianBlur stdDeviation="0.62"/></filter>
<filter id="ff3" x="-0.3" y="-0.3" width="1.6" height="1.6"><feGaussianBlur stdDeviation="0.60"/></filter>
<filter id="ff4" x="-0.1" y="-0.1" width="1.2" height="1.2"><feGaussianBlur stdDeviation="0.62"/></filter>
<mask id="mf5" maskUnits="userSpaceOnUse" x="-50" y="-50" width="300" height="300"><path d="M35.5 66.5 L35.5 66.5" fill="none" stroke="#fff" stroke-width="50.00" stroke-linecap="round" stroke-linejoin="round"/><path d="M97.0 57.0 L97.0 57.0" fill="none" stroke="#fff" stroke-width="46.00" stroke-linecap="round" stroke-linejoin="round"/><path d="M35.5 66.5 L97.0 57.0" fill="none" stroke="#fff" stroke-width="30.00" stroke-linecap="round" stroke-linejoin="round"/><path d="M53.5 49.0 L53.5 49.0" fill="none" stroke="#fff" stroke-width="22.00" stroke-linecap="round" stroke-linejoin="round"/><path d="M35.5 66.5 L35.5 66.5" fill="none" stroke="#000" stroke-width="28.00" stroke-linecap="round" stroke-linejoin="round"/><path d="M97.0 57.0 L97.0 57.0" fill="none" stroke="#000" stroke-width="24.00" stroke-linecap="round" stroke-linejoin="round"/><path d="M35.5 66.5 L97.0 57.0" fill="none" stroke="#000" stroke-width="8.00" stroke-linecap="round" stroke-linejoin="round"/></mask>
<mask id="mf6" maskUnits="userSpaceOnUse" x="-50" y="-50" width="300" height="300"><path d="M35.5 66.5 L35.5 66.5" fill="none" stroke="#fff" stroke-width="50.60" stroke-linecap="round" stroke-linejoin="round"/><path d="M97.0 57.0 L97.0 57.0" fill="none" stroke="#fff" stroke-width="46.60" stroke-linecap="round" stroke-linejoin="round"/><path d="M35.5 66.5 L97.0 57.0" fill="none" stroke="#fff" stroke-width="30.60" stroke-linecap="round" stroke-linejoin="round"/><path d="M53.5 49.0 L53.5 49.0" fill="none" stroke="#fff" stroke-width="22.60" stroke-linecap="round" stroke-linejoin="round"/><path d="M35.5 66.5 L35.5 66.5" fill="none" stroke="#000" stroke-width="49.40" stroke-linecap="round" stroke-linejoin="round"/><path d="M97.0 57.0 L97.0 57.0" fill="none" stroke="#000" stroke-width="45.40" stroke-linecap="round" stroke-linejoin="round"/><path d="M35.5 66.5 L97.0 57.0" fill="none" stroke="#000" stroke-width="29.40" stroke-linecap="round" stroke-linejoin="round"/><path d="M53.5 49.0 L53.5 49.0" fill="none" stroke="#000" stroke-width="21.40" stroke-linecap="round" stroke-linejoin="round"/><path d="M35.5 66.5 L35.5 66.5" fill="none" stroke="#fff" stroke-width="45.60" stroke-linecap="round" stroke-linejoin="round"/><path d="M97.0 57.0 L97.0 57.0" fill="none" stroke="#fff" stroke-width="41.60" stroke-linecap="round" stroke-linejoin="round"/><path d="M35.5 66.5 L97.0 57.0" fill="none" stroke="#fff" stroke-width="25.60" stroke-linecap="round" stroke-linejoin="round"/><path d="M53.5 49.0 L53.5 49.0" fill="none" stroke="#fff" stroke-width="17.60" stroke-linecap="round" stroke-linejoin="round"/><path d="M35.5 66.5 L35.5 66.5" fill="none" stroke="#000" stroke-width="44.40" stroke-linecap="round" stroke-linejoin="round"/><path d="M97.0 57.0 L97.0 57.0" fill="none" stroke="#000" stroke-width="40.40" stroke-linecap="round" stroke-linejoin="round"/><path d="M35.5 66.5 L97.0 57.0" fill="none" stroke="#000" stroke-width="24.40" stroke-linecap="round" stroke-linejoin="round"/><path d="M53.5 49.0 L53.5 49.0" fill="none" stroke="#000" stroke-width="16.40" stroke-linecap="round" stroke-linejoin="round"/><path d="M35.5 66.5 L35.5 66.5" fill="none" stroke="#fff" stroke-width="40.60" stroke-linecap="round" stroke-linejoin="round"/><path d="M97.0 57.0 L97.0 57.0" fill="none" stroke="#fff" stroke-width="36.60" stroke-linecap="round" stroke-linejoin="round"/><path d="M35.5 66.5 L97.0 57.0" fill="none" stroke="#fff" stroke-width="20.60" stroke-linecap="round" stroke-linejoin="round"/><path d="M53.5 49.0 L53.5 49.0" fill="none" stroke="#fff" stroke-width="12.60" stroke-linecap="round" stroke-linejoin="round"/><path d="M35.5 66.5 L35.5 66.5" fill="none" stroke="#000" stroke-width="39.40" stroke-linecap="round" stroke-linejoin="round"/><path d="M97.0 57.0 L97.0 57.0" fill="none" stroke="#000" stroke-width="35.40" stroke-linecap="round" stroke-linejoin="round"/><path d="M35.5 66.5 L97.0 57.0" fill="none" stroke="#000" stroke-width="19.40" stroke-linecap="round" stroke-linejoin="round"/><path d="M53.5 49.0 L53.5 49.0" fill="none" stroke="#000" stroke-width="11.40" stroke-linecap="round" stroke-linejoin="round"/><path d="M35.5 66.5 L35.5 66.5" fill="none" stroke="#fff" stroke-width="35.60" stroke-linecap="round" stroke-linejoin="round"/><path d="M97.0 57.0 L97.0 57.0" fill="none" stroke="#fff" stroke-width="31.60" stroke-linecap="round" stroke-linejoin="round"/><path d="M35.5 66.5 L97.0 57.0" fill="none" stroke="#fff" stroke-width="15.60" stroke-linecap="round" stroke-linejoin="round"/><path d="M53.5 49.0 L53.5 49.0" fill="none" stroke="#fff" stroke-width="7.60" stroke-linecap="round" stroke-linejoin="round"/><path d="M35.5 66.5 L35.5 66.5" fill="none" stroke="#000" stroke-width="34.40" stroke-linecap="round" stroke-linejoin="round"/><path d="M97.0 57.0 L97.0 57.0" fill="none" stroke="#000" stroke-width="30.40" stroke-linecap="round" stroke-linejoin="round"/><path d="M35.5 66.5 L97.0 57.0" fill="none" stroke="#000" stroke-width="14.40" stroke-linecap="round" stroke-linejoin="round"/><path d="M53.5 49.0 L53.5 49.0" fill="none" stroke="#000" stroke-width="6.40" stroke-linecap="round" stroke-linejoin="round"/><path d="M35.5 66.5 L35.5 66.5" fill="none" stroke="#fff" stroke-width="30.60" stroke-linecap="round" stroke-linejoin="round"/><path d="M97.0 57.0 L97.0 57.0" fill="none" stroke="#fff" stroke-width="26.60" stroke-linecap="round" stroke-linejoin="round"/><path d="M35.5 66.5 L97.0 57.0" fill="none" stroke="#fff" stroke-width="10.60" stroke-linecap="round" stroke-linejoin="round"/><path d="M53.5 49.0 L53.5 49.0" fill="none" stroke="#fff" stroke-width="2.60" stroke-linecap="round" stroke-linejoin="round"/><path d="M35.5 66.5 L35.5 66.5" fill="none" stroke="#000" stroke-width="29.40" stroke-linecap="round" stroke-linejoin="round"/><path d="M97.0 57.0 L97.0 57.0" fill="none" stroke="#000" stroke-width="25.40" stroke-linecap="round" stroke-linejoin="round"/><path d="M35.5 66.5 L97.0 57.0" fill="none" stroke="#000" stroke-width="9.40" stroke-linecap="round" stroke-linejoin="round"/><path d="M53.5 49.0 L53.5 49.0" fill="none" stroke="#000" stroke-width="1.40" stroke-linecap="round" stroke-linejoin="round"/></mask>
<mask id="mf7" maskUnits="userSpaceOnUse" x="-50" y="-50" width="300" height="300"><path d="M88.0 58.0 L88.0 58.0" fill="none" stroke="#fff" stroke-width="92.80" stroke-linecap="round" stroke-linejoin="round"/><path d="M88.0 58.0 L10.0 70.0" fill="none" stroke="#fff" stroke-width="72.80" stroke-linecap="round" stroke-linejoin="round"/><path d="M88.0 58.0 L88.0 58.0" fill="none" stroke="#000" stroke-width="91.20" stroke-linecap="round" stroke-linejoin="round"/><path d="M88.0 58.0 L10.0 70.0" fill="none" stroke="#000" stroke-width="71.20" stroke-linecap="round" stroke-linejoin="round"/><path d="M88.0 58.0 L88.0 58.0" fill="none" stroke="#fff" stroke-width="83.60" stroke-linecap="round" stroke-linejoin="round"/><path d="M88.0 58.0 L10.0 70.0" fill="none" stroke="#fff" stroke-width="63.60" stroke-linecap="round" stroke-linejoin="round"/><path d="M88.0 58.0 L88.0 58.0" fill="none" stroke="#000" stroke-width="82.00" stroke-linecap="round" stroke-linejoin="round"/><path d="M88.0 58.0 L10.0 70.0" fill="none" stroke="#000" stroke-width="62.00" stroke-linecap="round" stroke-linejoin="round"/><path d="M88.0 58.0 L88.0 58.0" fill="none" stroke="#fff" stroke-width="74.40" stroke-linecap="round" stroke-linejoin="round"/><path d="M88.0 58.0 L10.0 70.0" fill="none" stroke="#fff" stroke-width="54.40" stroke-linecap="round" stroke-linejoin="round"/><path d="M88.0 58.0 L88.0 58.0" fill="none" stroke="#000" stroke-width="72.80" stroke-linecap="round" stroke-linejoin="round"/><path d="M88.0 58.0 L10.0 70.0" fill="none" stroke="#000" stroke-width="52.80" stroke-linecap="round" stroke-linejoin="round"/><path d="M88.0 58.0 L88.0 58.0" fill="none" stroke="#fff" stroke-width="65.20" stroke-linecap="round" stroke-linejoin="round"/><path d="M88.0 58.0 L10.0 70.0" fill="none" stroke="#fff" stroke-width="45.20" stroke-linecap="round" stroke-linejoin="round"/><path d="M88.0 58.0 L88.0 58.0" fill="none" stroke="#000" stroke-width="63.60" stroke-linecap="round" stroke-linejoin="round"/><path d="M88.0 58.0 L10.0 70.0" fill="none" stroke="#000" stroke-width="43.60" stroke-linecap="round" stroke-linejoin="round"/><path d="M88.0 58.0 L88.0 58.0" fill="none" stroke="#fff" stroke-width="56.00" stroke-linecap="round" stroke-linejoin="round"/><path d="M88.0 58.0 L10.0 70.0" fill="none" stroke="#fff" stroke-width="36.00" stroke-linecap="round" stroke-linejoin="round"/><path d="M88.0 58.0 L88.0 58.0" fill="none" stroke="#000" stroke-width="54.40" stroke-linecap="round" stroke-linejoin="round"/><path d="M88.0 58.0 L10.0 70.0" fill="none" stroke="#000" stroke-width="34.40" stroke-linecap="round" stroke-linejoin="round"/></mask>
<mask id="mf8" maskUnits="userSpaceOnUse" x="-50" y="-50" width="300" height="300"><path d="M32.0 74.0 L41.0 69.0" fill="none" stroke="#fff" stroke-width="26.60" stroke-linecap="round" stroke-linejoin="round"/><path d="M32.0 74.0 L41.0 69.0" fill="none" stroke="#000" stroke-width="25.40" stroke-linecap="round" stroke-linejoin="round"/><path d="M32.0 74.0 L41.0 69.0" fill="none" stroke="#fff" stroke-width="21.60" stroke-linecap="round" stroke-linejoin="round"/><path d="M32.0 74.0 L41.0 69.0" fill="none" stroke="#000" stroke-width="20.40" stroke-linecap="round" stroke-linejoin="round"/><path d="M32.0 74.0 L41.0 69.0" fill="none" stroke="#fff" stroke-width="16.60" stroke-linecap="round" stroke-linejoin="round"/><path d="M32.0 74.0 L41.0 69.0" fill="none" stroke="#000" stroke-width="15.40" stroke-linecap="round" stroke-linejoin="round"/><path d="M32.0 74.0 L41.0 69.0" fill="none" stroke="#fff" stroke-width="11.60" stroke-linecap="round" stroke-linejoin="round"/><path d="M32.0 74.0 L41.0 69.0" fill="none" stroke="#000" stroke-width="10.40" stroke-linecap="round" stroke-linejoin="round"/><path d="M32.0 74.0 L41.0 69.0" fill="none" stroke="#fff" stroke-width="6.60" stroke-linecap="round" stroke-linejoin="round"/><path d="M32.0 74.0 L41.0 69.0" fill="none" stroke="#000" stroke-width="5.40" stroke-linecap="round" stroke-linejoin="round"/></mask>
<mask id="mf9" maskUnits="userSpaceOnUse" x="-50" y="-50" width="300" height="300"><path d="M90.0 60.0 L90.0 60.0" fill="none" stroke="#fff" stroke-width="25.60" stroke-linecap="round" stroke-linejoin="round"/><path d="M90.0 60.0 L90.0 60.0" fill="none" stroke="#000" stroke-width="24.40" stroke-linecap="round" stroke-linejoin="round"/><path d="M90.0 60.0 L90.0 60.0" fill="none" stroke="#fff" stroke-width="20.60" stroke-linecap="round" stroke-linejoin="round"/><path d="M90.0 60.0 L90.0 60.0" fill="none" stroke="#000" stroke-width="19.40" stroke-linecap="round" stroke-linejoin="round"/><path d="M90.0 60.0 L90.0 60.0" fill="none" stroke="#fff" stroke-width="15.60" stroke-linecap="round" stroke-linejoin="round"/><path d="M90.0 60.0 L90.0 60.0" fill="none" stroke="#000" stroke-width="14.40" stroke-linecap="round" stroke-linejoin="round"/><path d="M90.0 60.0 L90.0 60.0" fill="none" stroke="#fff" stroke-width="10.60" stroke-linecap="round" stroke-linejoin="round"/><path d="M90.0 60.0 L90.0 60.0" fill="none" stroke="#000" stroke-width="9.40" stroke-linecap="round" stroke-linejoin="round"/><path d="M90.0 60.0 L90.0 60.0" fill="none" stroke="#fff" stroke-width="5.60" stroke-linecap="round" stroke-linejoin="round"/><path d="M90.0 60.0 L90.0 60.0" fill="none" stroke="#000" stroke-width="4.40" stroke-linecap="round" stroke-linejoin="round"/></mask>
<mask id="mf10" maskUnits="userSpaceOnUse" x="-50" y="-50" width="300" height="300"><path d="M54.0 51.2 L54.0 51.2" fill="none" stroke="#fff" stroke-width="8.60" stroke-linecap="round" stroke-linejoin="round"/><path d="M54.0 51.2 L54.0 51.2" fill="none" stroke="#000" stroke-width="7.40" stroke-linecap="round" stroke-linejoin="round"/><path d="M54.0 51.2 L54.0 51.2" fill="none" stroke="#fff" stroke-width="4.60" stroke-linecap="round" stroke-linejoin="round"/><path d="M54.0 51.2 L54.0 51.2" fill="none" stroke="#000" stroke-width="3.40" stroke-linecap="round" stroke-linejoin="round"/></mask>
<mask id="mf11" maskUnits="userSpaceOnUse" x="-50" y="-50" width="300" height="300"><path d="M69.7 70.0 L70.0 76.0" fill="none" stroke="#fff" stroke-width="10.60" stroke-linecap="round" stroke-linejoin="round"/><path d="M69.7 70.0 L70.0 76.0" fill="none" stroke="#000" stroke-width="9.40" stroke-linecap="round" stroke-linejoin="round"/><path d="M69.7 70.0 L70.0 76.0" fill="none" stroke="#fff" stroke-width="6.60" stroke-linecap="round" stroke-linejoin="round"/><path d="M69.7 70.0 L70.0 76.0" fill="none" stroke="#000" stroke-width="5.40" stroke-linecap="round" stroke-linejoin="round"/></mask>
<filter id="ff12" x="-1" y="-1" width="3" height="3"><feGaussianBlur stdDeviation="1.20"/></filter>
<filter id="ff13" x="-0.1" y="-0.1" width="1.2" height="1.2"><feGaussianBlur stdDeviation="0.62"/></filter></defs>
<g transform="translate(31.00 11.50)">
<svg x="0" y="0" width="130.00" height="130.50" viewBox="0 0 130.00 130.50" overflow="hidden"><g filter="url(#soft)">
<rect width="130.00" height="130.50" fill="#d2d2d2"/>
<rect width="130.00" height="130.50" filter="url(#graina)"/>
<ellipse cx="15.0" cy="48.0" rx="13.0" ry="15.0" fill="#ececec" opacity="0.60" filter="url(#fa1)"/>
<g fill="#1e1e1e" filter="url(#fa2)"><circle cx="17.5" cy="111.0" r="0.89" fill="#666"/><circle cx="15.3" cy="99.7" r="0.76" fill="#777"/><circle cx="102.5" cy="12.3" r="0.56" fill="#777"/><circle cx="56.3" cy="99.9" r="0.55" fill="#777"/><circle cx="34.6" cy="105.0" r="0.82" fill="#444"/><circle cx="117.2" cy="4.0" r="0.56" fill="#444"/><circle cx="122.1" cy="49.9" r="0.65" fill="#777"/><circle cx="94.4" cy="69.1" r="0.89" fill="#777"/><circle cx="71.9" cy="45.3" r="0.85" fill="#777"/><circle cx="123.8" cy="121.4" r="0.74" fill="#444"/><circle cx="24.2" cy="130.0" r="0.94" fill="#444"/><circle cx="96.6" cy="117.3" r="0.99" fill="#777"/><circle cx="66.0" cy="119.2" r="0.64" fill="#666"/><circle cx="76.4" cy="115.6" r="0.93" fill="#777"/><circle cx="76.6" cy="4.5" r="0.66" fill="#777"/><circle cx="53.9" cy="22.7" r="0.80" fill="#666"/><circle cx="11.2" cy="87.0" r="0.60" fill="#555"/><circle cx="67.7" cy="51.5" r="0.77" fill="#444"/><circle cx="61.0" cy="40.4" r="0.93" fill="#777"/><circle cx="84.1" cy="22.1" r="0.65" fill="#444"/><circle cx="100.2" cy="70.7" r="0.94" fill="#555"/><circle cx="52.6" cy="45.0" r="0.93" fill="#666"/><circle cx="59.7" cy="35.3" r="0.80" fill="#444"/><circle cx="49.9" cy="112.3" r="0.98" fill="#555"/><circle cx="67.4" cy="73.5" r="0.74" fill="#444"/><circle cx="62.5" cy="47.8" r="0.80" fill="#777"/><circle cx="63.0" cy="46.7" r="0.71" fill="#666"/><circle cx="59.6" cy="3.7" r="0.65" fill="#555"/><circle cx="71.6" cy="23.7" r="0.59" fill="#666"/><circle cx="4.2" cy="123.6" r="0.58" fill="#444"/><circle cx="58.9" cy="98.8" r="0.68" fill="#666"/><circle cx="14.2" cy="81.8" r="0.70" fill="#444"/><circle cx="21.8" cy="33.4" r="0.98" fill="#666"/><circle cx="84.3" cy="38.6" r="0.87" fill="#777"/><circle cx="61.6" cy="3.1" r="0.72" fill="#777"/><circle cx="103.5" cy="33.9" r="0.66" fill="#555"/><circle cx="125.5" cy="56.5" r="0.99" fill="#555"/><circle cx="2.3" cy="19.2" r="0.87" fill="#555"/><circle cx="57.9" cy="66.3" r="0.74" fill="#555"/><circle cx="127.0" cy="82.6" r="0.86" fill="#777"/><circle cx="29.0" cy="85.0" r="0.73" fill="#666"/><circle cx="85.8" cy="55.8" r="0.88" fill="#555"/><circle cx="125.8" cy="114.7" r="0.69" fill="#444"/><circle cx="40.3" cy="123.0" r="0.88" fill="#777"/><circle cx="73.4" cy="17.1" r="0.80" fill="#444"/><circle cx="76.8" cy="28.5" r="0.96" fill="#777"/><circle cx="22.3" cy="113.7" r="0.99" fill="#444"/><circle cx="49.1" cy="45.4" r="0.64" fill="#777"/><circle cx="76.9" cy="64.5" r="0.97" fill="#777"/><circle cx="38.5" cy="65.5" r="0.70" fill="#777"/><circle cx="117.0" cy="2.4" r="0.64" fill="#666"/><circle cx="105.4" cy="73.8" r="0.61" fill="#777"/><circle cx="27.7" cy="88.4" r="0.93" fill="#666"/><circle cx="118.9" cy="109.7" r="0.79" fill="#555"/><circle cx="8.5" cy="5.3" r="0.61" fill="#555"/><circle cx="118.4" cy="27.9" r="0.89" fill="#666"/><circle cx="47.9" cy="44.6" r="0.68" fill="#777"/><circle cx="17.6" cy="72.2" r="0.60" fill="#444"/><circle cx="52.9" cy="49.8" r="1.00" fill="#555"/><circle cx="107.7" cy="44.7" r="0.83" fill="#777"/><circle cx="10.0" cy="72.1" r="0.80" fill="#666"/><circle cx="47.4" cy="38.7" r="0.79" fill="#444"/><circle cx="59.5" cy="36.3" r="0.90" fill="#666"/><circle cx="1.6" cy="87.8" r="0.59" fill="#444"/><circle cx="107.4" cy="103.5" r="0.63" fill="#777"/><circle cx="21.1" cy="59.1" r="0.86" fill="#555"/><circle cx="96.7" cy="13.5" r="0.96" fill="#777"/><circle cx="104.8" cy="71.1" r="0.92" fill="#666"/><circle cx="92.5" cy="41.2" r="0.64" fill="#666"/><circle cx="5.2" cy="1.4" r="0.99" fill="#666"/><circle cx="94.4" cy="42.0" r="0.73" fill="#777"/><circle cx="8.2" cy="119.7" r="0.99" fill="#777"/><circle cx="14.5" cy="28.2" r="0.83" fill="#777"/><circle cx="86.0" cy="33.9" r="0.79" fill="#666"/><circle cx="25.9" cy="47.2" r="0.92" fill="#444"/><circle cx="127.8" cy="58.7" r="0.84" fill="#666"/><circle cx="122.3" cy="51.2" r="0.69" fill="#666"/><circle cx="24.3" cy="103.8" r="0.81" fill="#666"/><circle cx="32.0" cy="13.2" r="0.83" fill="#444"/><circle cx="31.9" cy="2.7" r="0.66" fill="#444"/><circle cx="34.8" cy="113.6" r="0.88" fill="#444"/><circle cx="82.6" cy="38.1" r="0.91" fill="#777"/><circle cx="60.9" cy="112.5" r="0.60" fill="#666"/><circle cx="10.0" cy="124.3" r="0.63" fill="#555"/><circle cx="128.0" cy="107.6" r="0.69" fill="#444"/><circle cx="92.2" cy="109.3" r="0.82" fill="#555"/><circle cx="116.2" cy="18.6" r="0.96" fill="#444"/><circle cx="101.4" cy="107.6" r="0.83" fill="#555"/><circle cx="23.2" cy="56.7" r="0.62" fill="#555"/><circle cx="32.8" cy="8.4" r="0.98" fill="#777"/><circle cx="71.4" cy="70.9" r="0.93" fill="#777"/><circle cx="1.4" cy="109.6" r="0.63" fill="#777"/><circle cx="3.2" cy="84.7" r="0.74" fill="#444"/><circle cx="8.1" cy="46.5" r="0.61" fill="#555"/><circle cx="18.0" cy="128.8" r="0.67" fill="#777"/><circle cx="22.4" cy="11.7" r="0.77" fill="#555"/><circle cx="68.7" cy="65.6" r="0.84" fill="#777"/><circle cx="120.9" cy="83.7" r="0.65" fill="#666"/><circle cx="64.4" cy="62.7" r="0.65" fill="#777"/><circle cx="43.8" cy="80.1" r="0.88" fill="#666"/><circle cx="126.4" cy="28.8" r="0.96" fill="#666"/><circle cx="20.7" cy="100.3" r="0.95" fill="#666"/><circle cx="38.8" cy="39.2" r="0.80" fill="#555"/><circle cx="91.2" cy="96.5" r="0.82" fill="#444"/><circle cx="116.6" cy="125.8" r="0.81" fill="#555"/><circle cx="20.3" cy="55.9" r="0.97" fill="#444"/><circle cx="64.4" cy="51.6" r="0.84" fill="#777"/><circle cx="67.0" cy="21.6" r="0.88" fill="#444"/><circle cx="68.1" cy="11.8" r="0.66" fill="#444"/><circle cx="34.8" cy="119.6" r="0.98" fill="#555"/><circle cx="126.0" cy="80.8" r="0.99" fill="#444"/><circle cx="57.9" cy="121.1" r="0.99" fill="#777"/><circle cx="122.2" cy="118.3" r="0.73" fill="#666"/><circle cx="57.0" cy="81.5" r="0.77" fill="#555"/><circle cx="15.5" cy="78.7" r="0.73" fill="#444"/><circle cx="85.9" cy="36.4" r="0.72" fill="#444"/><circle cx="124.8" cy="69.2" r="0.81" fill="#444"/><circle cx="81.6" cy="79.3" r="0.93" fill="#555"/><circle cx="22.5" cy="19.4" r="0.64" fill="#666"/><circle cx="76.1" cy="32.9" r="0.86" fill="#555"/><circle cx="70.9" cy="64.3" r="0.94" fill="#555"/><circle cx="74.2" cy="50.2" r="0.68" fill="#444"/><circle cx="117.5" cy="3.2" r="0.81" fill="#444"/><circle cx="70.9" cy="126.4" r="0.89" fill="#555"/><circle cx="9.8" cy="49.0" r="0.91" fill="#777"/><circle cx="65.4" cy="46.7" r="0.79" fill="#444"/><circle cx="16.1" cy="94.1" r="0.71" fill="#777"/><circle cx="44.1" cy="95.8" r="0.81" fill="#444"/><circle cx="84.2" cy="49.5" r="0.64" fill="#444"/><circle cx="129.3" cy="83.3" r="0.88" fill="#555"/><circle cx="128.3" cy="60.5" r="0.93" fill="#777"/><circle cx="121.9" cy="93.3" r="0.99" fill="#555"/><circle cx="58.4" cy="87.6" r="0.64" fill="#444"/><circle cx="88.2" cy="75.9" r="0.99" fill="#666"/><circle cx="112.0" cy="76.6" r="0.88" fill="#444"/><circle cx="64.1" cy="97.7" r="0.84" fill="#666"/><circle cx="81.9" cy="53.3" r="0.83" fill="#777"/><circle cx="101.7" cy="110.9" r="0.90" fill="#444"/><circle cx="45.4" cy="34.7" r="0.87" fill="#666"/><circle cx="19.8" cy="109.1" r="0.77" fill="#777"/><circle cx="66.3" cy="35.5" r="0.59" fill="#777"/><circle cx="9.1" cy="8.8" r="0.75" fill="#555"/><circle cx="65.9" cy="123.9" r="0.86" fill="#777"/><circle cx="82.7" cy="36.1" r="0.69" fill="#555"/><circle cx="30.8" cy="43.7" r="0.58" fill="#666"/><circle cx="60.8" cy="73.1" r="0.57" fill="#666"/><circle cx="84.9" cy="93.5" r="0.92" fill="#666"/><circle cx="46.3" cy="96.9" r="0.73" fill="#777"/><circle cx="22.4" cy="103.5" r="0.94" fill="#666"/><circle cx="93.1" cy="33.9" r="0.82" fill="#555"/><circle cx="109.7" cy="4.0" r="0.95" fill="#777"/><circle cx="41.1" cy="56.6" r="0.89" fill="#666"/><circle cx="24.7" cy="82.0" r="0.62" fill="#777"/><circle cx="75.6" cy="122.2" r="0.62" fill="#666"/><circle cx="59.7" cy="21.3" r="0.90" fill="#777"/><circle cx="46.9" cy="98.4" r="0.66" fill="#555"/><circle cx="93.4" cy="40.0" r="0.60" fill="#777"/><circle cx="41.8" cy="121.6" r="0.98" fill="#444"/><circle cx="7.2" cy="78.3" r="0.95" fill="#555"/><circle cx="88.8" cy="64.8" r="0.79" fill="#777"/><circle cx="44.5" cy="109.8" r="0.60" fill="#555"/><circle cx="12.4" cy="52.4" r="0.77" fill="#777"/><circle cx="97.6" cy="127.5" r="0.66" fill="#666"/><circle cx="60.1" cy="76.0" r="0.65" fill="#666"/><circle cx="42.9" cy="77.8" r="0.96" fill="#444"/><circle cx="6.0" cy="104.5" r="0.94" fill="#666"/><circle cx="115.5" cy="111.1" r="0.68" fill="#555"/><circle cx="52.0" cy="115.3" r="0.89" fill="#555"/><circle cx="103.2" cy="4.0" r="0.72" fill="#444"/><circle cx="73.4" cy="33.3" r="0.59" fill="#666"/></g>
<ellipse cx="118.0" cy="9.0" rx="13.0" ry="11.0" fill="#000" opacity="0.18" filter="url(#fa3)"/>
<g fill="#1e1e1e" filter="url(#fa4)"><circle cx="15.8" cy="7.8" r="1.90"/><circle cx="13.4" cy="31.5" r="3.20"/><circle cx="27.5" cy="58.5" r="2.60"/><circle cx="22.6" cy="51.6" r="1.90"/><circle cx="28.9" cy="41.9" r="1.40"/><circle cx="36.3" cy="48.2" r="2.10"/><circle cx="40.9" cy="50.5" r="1.80"/><circle cx="55.3" cy="35.7" r="3.70"/><circle cx="52.6" cy="55.2" r="2.40"/><circle cx="46.3" cy="34.5" r="1.80"/><circle cx="60.4" cy="4.1" r="1.50"/><circle cx="34.4" cy="13.0" r="1.30"/><circle cx="29.7" cy="9.7" r="1.10"/><circle cx="1.5" cy="5.2" r="1.30"/><circle cx="1.9" cy="63.1" r="1.90"/><circle cx="19.5" cy="23.8" r="1.10"/><circle cx="39.0" cy="24.1" r="1.10"/><circle cx="47.4" cy="22.7" r="1.10"/><circle cx="27.9" cy="23.8" r="1.00"/><circle cx="3.7" cy="27.9" r="1.00"/><circle cx="19.1" cy="56.8" r="1.20"/><circle cx="8.4" cy="41.8" r="1.10"/><circle cx="17.6" cy="61.3" r="1.70"/><circle cx="11.1" cy="9.3" r="0.80"/><circle cx="23.2" cy="14.9" r="0.80"/><circle cx="82.8" cy="20.2" r="3.30"/><circle cx="86.9" cy="36.2" r="1.90"/><circle cx="100.3" cy="34.4" r="3.00"/><circle cx="101.0" cy="40.5" r="2.60"/><circle cx="109.2" cy="30.6" r="1.90"/><circle cx="104.9" cy="24.1" r="1.20"/><circle cx="95.6" cy="52.9" r="2.80"/><circle cx="94.5" cy="55.5" r="2.20"/><circle cx="110.5" cy="55.7" r="1.50"/><circle cx="120.7" cy="42.7" r="1.10"/><circle cx="126.3" cy="41.8" r="1.30"/><circle cx="116.1" cy="58.5" r="1.10"/><circle cx="120.7" cy="48.3" r="0.90"/><circle cx="114.2" cy="18.6" r="0.90"/><circle cx="126.3" cy="61.3" r="1.10"/><circle cx="128.1" cy="18.6" r="0.90"/><circle cx="76.1" cy="50.1" r="1.90"/><circle cx="73.4" cy="63.1" r="1.50"/><circle cx="66.9" cy="16.7" r="1.50"/><circle cx="102.1" cy="46.4" r="1.50"/><circle cx="97.0" cy="10.0" r="1.60"/><circle cx="68.6" cy="47.0" r="1.60"/><circle cx="60.0" cy="61.4" r="2.60"/><circle cx="75.7" cy="64.3" r="1.80"/><circle cx="51.4" cy="54.3" r="1.60"/><circle cx="24.3" cy="91.9" r="1.40"/><circle cx="26.4" cy="101.2" r="2.00"/><circle cx="17.9" cy="100.5" r="1.40"/><circle cx="7.1" cy="109.1" r="1.40"/><circle cx="20.0" cy="112.6" r="1.10"/><circle cx="25.0" cy="119.1" r="1.40"/><circle cx="30.7" cy="120.5" r="1.80"/><circle cx="40.7" cy="114.8" r="1.80"/><circle cx="45.0" cy="103.4" r="1.80"/><circle cx="0.7" cy="121.2" r="1.60"/><circle cx="40.7" cy="86.2" r="1.80"/><circle cx="46.4" cy="88.4" r="1.30"/><circle cx="27.5" cy="73.4" r="1.90"/><circle cx="39.9" cy="84.5" r="2.20"/><circle cx="50.1" cy="90.1" r="2.20"/><circle cx="57.6" cy="84.5" r="1.90"/><circle cx="2.8" cy="66.9" r="1.90"/><circle cx="19.5" cy="72.4" r="1.50"/><circle cx="8.4" cy="78.9" r="1.10"/><circle cx="50.1" cy="124.4" r="1.50"/><circle cx="61.3" cy="68.7" r="1.50"/><circle cx="106.8" cy="69.1" r="1.90"/><circle cx="120.7" cy="73.4" r="1.30"/><circle cx="122.9" cy="78.0" r="1.50"/><circle cx="110.5" cy="91.0" r="1.70"/><circle cx="108.1" cy="96.6" r="1.90"/><circle cx="118.9" cy="85.4" r="1.10"/><circle cx="127.2" cy="92.9" r="1.30"/><circle cx="121.6" cy="102.1" r="1.50"/><circle cx="121.3" cy="107.7" r="1.90"/><circle cx="105.9" cy="107.3" r="1.10"/><circle cx="82.6" cy="110.5" r="1.30"/><circle cx="75.2" cy="107.7" r="1.30"/><circle cx="83.6" cy="118.5" r="1.70"/><circle cx="87.3" cy="119.2" r="1.30"/><circle cx="79.9" cy="124.8" r="1.90"/><circle cx="114.2" cy="121.6" r="1.30"/><circle cx="128.1" cy="125.4" r="1.50"/><circle cx="110.5" cy="128.1" r="1.10"/><circle cx="96.6" cy="69.6" r="1.90"/><circle cx="42.9" cy="85.7" r="1.60"/><circle cx="52.9" cy="91.4" r="1.60"/><circle cx="35.7" cy="47.1" r="1.40"/><circle cx="71.4" cy="21.4" r="1.20"/></g>
<path d="M10.2 38.0 C11.4 37.5 15.1 36.8 16.7 37.1 C18.2 37.4 18.9 38.5 19.5 39.9 C20.1 41.3 20.4 43.8 20.4 45.5 C20.4 47.2 20.0 48.7 19.5 50.1 C19.0 51.5 18.1 52.6 17.6 53.9 C17.2 55.1 17.7 56.8 16.8 57.6 C15.9 58.4 13.3 58.8 12.1 58.5 C10.9 58.2 10.0 57.1 9.7 55.7 C9.4 54.3 10.3 52.0 10.2 50.1 C10.1 48.2 9.1 46.3 8.9 44.6 C8.8 42.9 9.1 41.0 9.3 39.9 C9.5 38.8 9.0 38.5 10.2 38.0Z" fill="#111" filter="url(#fa5)"/>
<path d="M109.6 7.4 C110.2 5.9 110.9 3.8 112.4 2.8 C114.0 1.8 116.9 1.6 118.9 1.5 C120.9 1.4 123.0 1.5 124.4 1.9 C125.8 2.3 127.2 2.8 127.2 3.7 C127.2 4.6 125.5 6.2 124.4 7.4 C123.3 8.6 121.6 9.8 120.7 11.1 C119.8 12.3 119.8 14.0 118.9 14.9 C118.0 15.8 116.3 16.6 115.1 16.7 C113.8 16.8 112.5 16.6 111.4 15.8 C110.3 15.0 108.9 13.5 108.6 12.1 C108.3 10.7 109.0 9.0 109.6 7.4Z" fill="#111" filter="url(#fa6)"/>
<rect x="-50" y="-50" width="300" height="300" fill="#b4b4f6" opacity="0.35" mask="url(#ma7)" style="mix-blend-mode:multiply"/>
<rect x="-50" y="-50" width="300" height="300" fill="#7070ee" opacity="0.75" mask="url(#ma8)"/>
<rect x="-50" y="-50" width="300" height="300" fill="#e4e450" opacity="0.85" mask="url(#ma9)"/>
<rect x="-50" y="-50" width="300" height="300" fill="#e4e450" opacity="0.90" mask="url(#ma10)"/>
<rect x="-50" y="-50" width="300" height="300" fill="#e4e450" opacity="0.90" mask="url(#ma11)"/>
<rect x="-50" y="-50" width="300" height="300" fill="#7070ee" opacity="0.85" mask="url(#ma12)"/>
<g fill="#2f7f2f"><circle cx="66.0" cy="76.9" r="0.95"/><circle cx="81.9" cy="103.9" r="0.95"/><circle cx="90.1" cy="5.5" r="0.95"/><circle cx="85.0" cy="80.6" r="0.95"/><circle cx="68.7" cy="7.8" r="0.95"/><circle cx="57.3" cy="110.4" r="0.95"/><circle cx="67.5" cy="83.9" r="0.95"/><circle cx="65.0" cy="86.8" r="0.95"/><circle cx="59.5" cy="36.4" r="0.95"/><circle cx="101.2" cy="35.3" r="0.95"/><circle cx="72.7" cy="58.6" r="0.95"/><circle cx="24.8" cy="95.9" r="0.95"/><circle cx="39.5" cy="115.9" r="0.95"/><circle cx="100.4" cy="43.1" r="0.95"/><circle cx="31.6" cy="78.8" r="0.95"/><circle cx="48.3" cy="59.4" r="0.95"/><circle cx="74.7" cy="113.5" r="0.95"/><circle cx="25.6" cy="124.5" r="0.95"/><circle cx="54.8" cy="13.6" r="0.95"/><circle cx="31.0" cy="92.3" r="0.95"/><circle cx="33.4" cy="107.9" r="0.95"/><circle cx="77.5" cy="38.4" r="0.95"/><circle cx="22.8" cy="94.4" r="0.95"/><circle cx="72.7" cy="111.7" r="0.95"/><circle cx="79.9" cy="36.7" r="0.95"/><circle cx="57.9" cy="7.9" r="0.95"/><circle cx="74.4" cy="17.2" r="0.95"/><circle cx="47.1" cy="116.7" r="0.95"/><circle cx="89.9" cy="76.6" r="0.95"/><circle cx="62.7" cy="95.7" r="0.95"/><circle cx="41.5" cy="130.9" r="0.95"/><circle cx="45.7" cy="89.8" r="0.95"/><circle cx="81.2" cy="50.1" r="0.95"/><circle cx="75.7" cy="79.8" r="0.95"/><circle cx="94.7" cy="50.9" r="0.95"/><circle cx="57.3" cy="109.8" r="0.95"/><circle cx="62.5" cy="30.2" r="0.95"/><circle cx="90.8" cy="65.1" r="0.95"/><circle cx="39.1" cy="88.8" r="0.95"/><circle cx="57.5" cy="116.8" r="0.95"/><circle cx="42.5" cy="87.2" r="0.95"/><circle cx="75.8" cy="41.5" r="0.95"/><circle cx="58.6" cy="36.0" r="0.95"/><circle cx="81.3" cy="64.7" r="0.95"/><circle cx="41.0" cy="109.9" r="0.95"/><circle cx="92.1" cy="74.7" r="0.95"/><circle cx="40.2" cy="103.7" r="0.95"/><circle cx="59.1" cy="3.2" r="0.95"/><circle cx="81.8" cy="58.5" r="0.95"/><circle cx="81.9" cy="85.8" r="0.95"/><circle cx="89.0" cy="26.1" r="0.95"/><circle cx="61.8" cy="23.4" r="0.95"/><circle cx="92.8" cy="23.5" r="0.95"/><circle cx="90.7" cy="68.2" r="0.95"/><circle cx="79.9" cy="99.1" r="0.95"/><circle cx="49.0" cy="74.5" r="0.95"/><circle cx="84.7" cy="26.8" r="0.95"/><circle cx="83.4" cy="94.0" r="0.95"/><circle cx="27.7" cy="117.9" r="0.95"/><circle cx="69.8" cy="103.6" r="0.95"/><circle cx="41.7" cy="119.2" r="0.95"/><circle cx="71.5" cy="100.6" r="0.95"/><circle cx="63.4" cy="3.7" r="0.95"/><circle cx="43.6" cy="103.2" r="0.95"/><circle cx="67.1" cy="94.8" r="0.95"/><circle cx="37.7" cy="95.5" r="0.95"/><circle cx="83.1" cy="68.5" r="0.95"/><circle cx="40.5" cy="49.9" r="0.95"/><circle cx="27.1" cy="111.5" r="0.95"/><circle cx="69.7" cy="65.9" r="0.95"/></g>
<g fill="none" stroke="#e47474" stroke-width="0.80" opacity="0.90"><path d="M66.7 5.0 C63.9 7.2 60.1 13.8 58.0 18.0 C55.9 22.2 55.3 25.6 54.0 30.5 C52.7 35.4 51.1 42.6 50.0 47.6 C48.9 52.6 48.6 56.4 47.4 60.5 C46.2 64.6 44.5 68.4 42.9 72.0 C41.3 75.6 39.3 79.2 37.9 81.9 C36.5 84.6 35.4 85.7 34.3 88.0 C33.2 90.3 32.1 92.8 31.4 96.0 C30.7 99.2 30.1 103.2 30.0 106.9 C29.9 110.6 30.0 115.5 30.7 118.4 C31.4 121.3 32.8 122.4 34.3 124.1 C35.8 125.8 37.9 127.5 40.0 128.4 C42.1 129.3 45.1 130.1 47.1 129.5 C49.1 128.9 49.9 129.2 52.0 125.0 C54.1 120.8 56.8 111.4 60.0 104.0 C63.2 96.6 67.8 86.9 71.4 80.5 C75.0 74.1 78.7 70.2 81.6 65.5 C84.5 60.8 87.0 56.2 89.0 52.0 C91.0 47.8 93.4 44.7 93.9 40.5 C94.4 36.3 93.1 31.0 92.1 26.8 C91.0 22.6 89.3 18.6 87.6 15.4 C85.9 12.2 84.0 9.2 81.9 7.4 C79.8 5.6 77.5 4.9 75.0 4.5 C72.5 4.1 69.5 2.8 66.7 5.0Z"/></g>
<rect x="-50" y="-50" width="300" height="300" fill="#e47474" opacity="0.80" mask="url(#ma13)"/>
<g fill="none" stroke="#e47474" stroke-width="0.80" opacity="0.90"><path d="M44.4 0.0 C43.5 5.1 41.3 20.4 39.3 30.5 C37.3 40.6 34.1 54.1 32.3 60.5 C30.5 66.9 30.4 66.2 28.6 69.1 C26.8 71.9 24.0 75.2 21.4 77.6 C18.8 80.0 15.5 82.7 12.9 83.4 C10.3 84.1 7.8 82.6 5.7 81.9 C3.6 81.2 1.0 79.6 0.0 79.1"/><path d="M50.1 0.0 C49.0 5.1 45.5 20.4 43.3 30.5 C41.1 40.6 38.9 54.1 36.9 60.5 C34.9 66.9 33.3 66.2 31.4 69.1 C29.5 71.9 27.1 74.9 25.7 77.6 C24.3 80.3 24.3 82.8 22.9 85.5 C21.5 88.2 19.5 91.0 17.1 94.1 C14.7 97.2 11.4 101.2 8.6 104.1 C5.8 106.9 1.4 110.0 0.0 111.2"/><path d="M57.0 0.0 C55.5 5.1 50.2 20.4 47.9 30.5 C45.6 40.6 44.9 54.1 43.1 60.5 C41.3 66.9 38.8 66.2 37.1 69.1 C35.4 71.9 34.4 74.9 32.9 77.6 C31.4 80.3 29.3 82.3 27.9 85.5 C26.5 88.7 25.6 93.1 24.3 96.9 C23.0 100.7 21.2 104.8 20.0 108.4 C18.8 112.0 18.2 114.6 17.1 118.4 C16.0 122.2 14.2 128.9 13.6 131.0"/><path d="M88.1 0.0 C88.8 1.6 90.8 6.5 92.1 9.6 C93.3 12.7 94.6 15.6 95.6 18.8 C96.6 22.1 97.3 25.5 97.9 29.1 C98.5 32.7 99.5 36.5 99.0 40.5 C98.5 44.5 96.8 48.8 95.0 53.0 C93.2 57.2 91.5 60.9 88.4 65.5 C85.3 70.1 80.3 73.8 76.4 80.5 C72.5 87.2 68.9 97.7 65.0 106.0 C61.1 114.3 55.0 126.4 53.0 130.5"/><path d="M96.1 0.0 C96.7 2.0 98.6 8.0 99.6 11.9 C100.6 15.8 101.3 19.6 101.9 23.4 C102.5 27.2 102.7 31.9 103.0 34.8 C103.3 37.6 104.1 37.5 103.6 40.5 C103.1 43.5 101.7 48.8 100.0 53.0 C98.3 57.2 96.3 60.9 93.6 65.5 C90.9 70.1 87.2 73.8 83.6 80.5 C80.0 87.2 75.7 97.7 72.0 106.0 C68.3 114.3 63.2 126.4 61.4 130.5"/><path d="M103.6 0.0 C104.0 2.0 105.2 8.0 105.9 11.9 C106.6 15.8 107.1 19.6 107.6 23.4 C108.1 27.2 108.4 31.9 108.7 34.8 C109.0 37.6 109.9 37.5 109.3 40.5 C108.7 43.5 106.7 48.8 105.0 53.0 C103.3 57.2 101.6 60.9 99.3 65.5 C97.0 70.1 94.6 73.8 91.4 80.5 C88.2 87.2 83.8 97.7 80.0 106.0 C76.2 114.3 70.5 126.4 68.6 130.5"/><path d="M111.0 0.0 C111.3 2.5 112.5 10.0 113.0 15.0 C113.5 20.0 114.0 25.5 114.0 30.0 C114.0 34.5 113.8 37.8 113.0 42.0 C112.2 46.2 110.5 51.1 109.0 55.0 C107.5 58.9 106.0 61.2 103.9 65.5 C101.8 69.8 99.4 73.8 96.4 80.5 C93.4 87.2 89.6 97.7 86.0 106.0 C82.4 114.3 76.8 126.4 75.0 130.5"/></g>
<g fill="none" stroke="#e8a0a0" stroke-width="0.70" opacity="0.70"><circle cx="10.7" cy="111.2" r="10.00"/></g>
<g fill="none" stroke="#7070ee" stroke-width="0.60" opacity="0.70"><circle cx="7.9" cy="120.5" r="2.10"/></g>
</g></svg></g>
<g transform="translate(206.00 12.00)">
<svg x="0" y="0" width="131.00" height="130.00" viewBox="0 0 131.00 130.00" overflow="hidden"><g filter="url(#soft)">
<rect width="131.00" height="130.00" fill="#d8d8d8"/>
<rect width="131.00" height="130.00" filter="url(#grainb)"/>
<g fill="#1e1e1e" filter="url(#fb1)"><circle cx="125.2" cy="123.2" r="0.58" fill="#444"/><circle cx="47.3" cy="22.0" r="0.95" fill="#666"/><circle cx="33.0" cy="27.6" r="0.57" fill="#555"/><circle cx="131.0" cy="83.0" r="0.95" fill="#666"/><circle cx="71.3" cy="57.8" r="0.68" fill="#444"/><circle cx="114.1" cy="47.3" r="1.02" fill="#777"/><circle cx="55.5" cy="114.9" r="0.63" fill="#555"/><circle cx="30.9" cy="3.1" r="0.71" fill="#555"/><circle cx="66.8" cy="46.8" r="0.81" fill="#555"/><circle cx="130.4" cy="57.9" r="0.76" fill="#666"/><circle cx="103.5" cy="46.0" r="1.04" fill="#777"/><circle cx="21.1" cy="98.0" r="0.91" fill="#777"/><circle cx="85.8" cy="32.5" r="0.69" fill="#777"/><circle cx="65.6" cy="108.1" r="0.73" fill="#777"/><circle cx="117.9" cy="59.9" r="0.83" fill="#777"/><circle cx="63.7" cy="28.8" r="0.71" fill="#555"/><circle cx="114.8" cy="80.1" r="0.94" fill="#777"/><circle cx="40.6" cy="124.5" r="0.90" fill="#777"/><circle cx="40.9" cy="27.0" r="0.81" fill="#444"/><circle cx="102.7" cy="44.4" r="0.55" fill="#555"/><circle cx="130.6" cy="13.8" r="0.84" fill="#444"/><circle cx="35.8" cy="29.5" r="0.99" fill="#444"/><circle cx="98.8" cy="17.7" r="0.68" fill="#555"/><circle cx="123.6" cy="7.9" r="1.00" fill="#444"/><circle cx="7.4" cy="46.8" r="0.67" fill="#444"/><circle cx="10.9" cy="124.1" r="0.56" fill="#444"/><circle cx="48.9" cy="16.6" r="1.02" fill="#555"/><circle cx="68.5" cy="0.3" r="0.84" fill="#555"/><circle cx="19.8" cy="4.7" r="0.72" fill="#444"/><circle cx="37.5" cy="63.5" r="0.70" fill="#444"/><circle cx="118.2" cy="98.2" r="0.98" fill="#555"/><circle cx="61.9" cy="29.3" r="0.88" fill="#666"/><circle cx="109.8" cy="3.1" r="0.94" fill="#555"/><circle cx="67.9" cy="101.5" r="0.79" fill="#666"/><circle cx="18.8" cy="124.8" r="0.68" fill="#777"/><circle cx="85.6" cy="90.9" r="1.03" fill="#444"/><circle cx="33.1" cy="17.1" r="0.64" fill="#777"/><circle cx="83.2" cy="66.1" r="1.04" fill="#444"/><circle cx="130.3" cy="30.2" r="0.77" fill="#666"/><circle cx="10.5" cy="29.7" r="0.95" fill="#666"/><circle cx="33.6" cy="55.0" r="0.81" fill="#444"/><circle cx="19.8" cy="50.0" r="0.63" fill="#444"/><circle cx="31.6" cy="13.0" r="0.64" fill="#555"/><circle cx="13.8" cy="3.2" r="0.88" fill="#777"/><circle cx="40.6" cy="83.4" r="0.66" fill="#555"/><circle cx="95.5" cy="56.4" r="0.81" fill="#444"/><circle cx="115.5" cy="120.8" r="0.84" fill="#444"/><circle cx="86.9" cy="62.4" r="0.56" fill="#444"/><circle cx="80.0" cy="37.6" r="1.04" fill="#666"/><circle cx="40.4" cy="113.7" r="0.76" fill="#444"/><circle cx="40.1" cy="109.3" r="0.89" fill="#444"/><circle cx="106.4" cy="7.8" r="0.87" fill="#777"/><circle cx="27.3" cy="76.5" r="0.59" fill="#666"/><circle cx="3.2" cy="39.8" r="0.91" fill="#555"/><circle cx="98.9" cy="25.0" r="0.84" fill="#777"/><circle cx="93.8" cy="18.2" r="0.72" fill="#444"/><circle cx="33.3" cy="16.0" r="0.86" fill="#666"/><circle cx="84.0" cy="124.8" r="0.90" fill="#444"/><circle cx="81.0" cy="61.1" r="0.57" fill="#777"/><circle cx="38.1" cy="124.7" r="0.62" fill="#666"/><circle cx="35.2" cy="68.4" r="0.79" fill="#777"/><circle cx="122.1" cy="108.7" r="0.70" fill="#555"/><circle cx="20.5" cy="77.6" r="0.82" fill="#444"/><circle cx="76.8" cy="106.3" r="0.60" fill="#666"/><circle cx="23.1" cy="70.9" r="0.95" fill="#444"/><circle cx="104.6" cy="118.5" r="0.89" fill="#444"/><circle cx="16.8" cy="38.5" r="0.67" fill="#666"/><circle cx="57.5" cy="68.1" r="0.61" fill="#777"/><circle cx="12.6" cy="67.1" r="0.91" fill="#666"/><circle cx="22.2" cy="20.5" r="1.02" fill="#555"/><circle cx="52.9" cy="129.4" r="0.94" fill="#555"/><circle cx="61.1" cy="93.5" r="0.95" fill="#777"/><circle cx="115.5" cy="23.5" r="0.81" fill="#777"/><circle cx="35.9" cy="33.0" r="0.92" fill="#777"/><circle cx="92.4" cy="61.4" r="1.03" fill="#666"/><circle cx="93.4" cy="118.6" r="0.59" fill="#555"/><circle cx="69.8" cy="24.4" r="0.96" fill="#777"/><circle cx="128.0" cy="82.5" r="0.56" fill="#777"/><circle cx="68.6" cy="117.9" r="0.78" fill="#555"/><circle cx="106.9" cy="2.2" r="1.02" fill="#777"/><circle cx="118.6" cy="115.0" r="0.60" fill="#555"/><circle cx="35.9" cy="119.8" r="0.84" fill="#777"/><circle cx="105.3" cy="17.9" r="0.86" fill="#777"/><circle cx="63.1" cy="66.7" r="0.64" fill="#555"/><circle cx="127.4" cy="98.8" r="0.73" fill="#777"/><circle cx="69.8" cy="87.0" r="0.58" fill="#777"/><circle cx="121.2" cy="119.9" r="0.78" fill="#777"/><circle cx="3.6" cy="10.4" r="0.93" fill="#555"/><circle cx="99.5" cy="122.0" r="1.05" fill="#666"/><circle cx="88.4" cy="102.4" r="0.98" fill="#555"/><circle cx="7.1" cy="64.9" r="1.05" fill="#666"/><circle cx="20.4" cy="36.7" r="0.78" fill="#444"/><circle cx="48.0" cy="69.9" r="0.74" fill="#777"/><circle cx="26.8" cy="87.9" r="0.80" fill="#555"/><circle cx="63.4" cy="70.0" r="1.01" fill="#444"/><circle cx="33.8" cy="40.7" r="0.72" fill="#666"/><circle cx="85.6" cy="51.1" r="0.97" fill="#444"/><circle cx="66.6" cy="27.4" r="0.85" fill="#555"/><circle cx="104.5" cy="81.7" r="0.70" fill="#555"/><circle cx="124.4" cy="73.0" r="0.81" fill="#444"/><circle cx="125.5" cy="14.6" r="0.96" fill="#777"/><circle cx="112.2" cy="27.8" r="0.73" fill="#666"/><circle cx="59.9" cy="21.6" r="0.77" fill="#666"/><circle cx="60.4" cy="17.4" r="0.91" fill="#555"/><circle cx="121.8" cy="42.4" r="0.60" fill="#555"/><circle cx="61.4" cy="97.8" r="0.97" fill="#555"/><circle cx="46.6" cy="103.4" r="0.67" fill="#777"/><circle cx="52.4" cy="107.1" r="0.72" fill="#666"/><circle cx="97.3" cy="97.6" r="0.98" fill="#666"/><circle cx="69.7" cy="82.8" r="0.59" fill="#666"/><circle cx="51.8" cy="22.7" r="1.03" fill="#666"/><circle cx="57.7" cy="11.4" r="1.01" fill="#666"/><circle cx="125.8" cy="16.5" r="0.56" fill="#666"/><circle cx="21.9" cy="10.0" r="0.99" fill="#777"/><circle cx="1.1" cy="41.7" r="0.96" fill="#777"/><circle cx="70.9" cy="61.0" r="1.00" fill="#666"/><circle cx="41.4" cy="120.4" r="0.60" fill="#555"/><circle cx="102.7" cy="43.1" r="0.62" fill="#666"/><circle cx="32.8" cy="44.5" r="0.67" fill="#555"/><circle cx="95.4" cy="6.1" r="1.02" fill="#444"/><circle cx="113.0" cy="23.1" r="0.58" fill="#777"/><circle cx="102.0" cy="17.3" r="0.81" fill="#444"/><circle cx="44.3" cy="99.9" r="0.86" fill="#777"/><circle cx="29.8" cy="7.0" r="0.93" fill="#777"/><circle cx="81.2" cy="41.2" r="0.97" fill="#444"/><circle cx="77.0" cy="70.0" r="1.04" fill="#777"/><circle cx="110.1" cy="59.1" r="0.76" fill="#777"/><circle cx="6.0" cy="14.1" r="1.05" fill="#555"/><circle cx="15.5" cy="119.8" r="0.80" fill="#555"/><circle cx="10.1" cy="39.8" r="0.95" fill="#444"/><circle cx="33.1" cy="86.9" r="0.66" fill="#444"/><circle cx="19.2" cy="87.1" r="0.60" fill="#777"/><circle cx="6.5" cy="116.8" r="0.67" fill="#777"/><circle cx="18.3" cy="3.9" r="0.90" fill="#444"/><circle cx="6.3" cy="71.0" r="0.55" fill="#666"/><circle cx="89.3" cy="113.8" r="0.62" fill="#777"/><circle cx="0.2" cy="70.2" r="0.67" fill="#777"/><circle cx="27.7" cy="6.9" r="0.66" fill="#777"/><circle cx="44.1" cy="84.2" r="0.75" fill="#555"/><circle cx="66.9" cy="108.3" r="0.63" fill="#555"/><circle cx="22.7" cy="26.2" r="0.72" fill="#555"/><circle cx="56.0" cy="51.8" r="0.95" fill="#444"/><circle cx="73.7" cy="61.5" r="0.69" fill="#777"/><circle cx="129.3" cy="29.8" r="0.90" fill="#444"/><circle cx="4.0" cy="71.7" r="0.65" fill="#555"/><circle cx="51.3" cy="5.1" r="0.62" fill="#444"/><circle cx="97.2" cy="91.3" r="0.79" fill="#444"/><circle cx="96.5" cy="112.0" r="0.66" fill="#555"/><circle cx="78.4" cy="5.0" r="0.65" fill="#444"/><circle cx="18.4" cy="90.2" r="1.01" fill="#444"/><circle cx="128.1" cy="116.9" r="0.78" fill="#666"/><circle cx="126.1" cy="20.5" r="0.71" fill="#666"/><circle cx="111.3" cy="67.4" r="0.58" fill="#777"/><circle cx="87.5" cy="4.4" r="0.70" fill="#444"/><circle cx="83.4" cy="95.5" r="1.02" fill="#444"/><circle cx="28.1" cy="43.3" r="0.82" fill="#777"/><circle cx="77.8" cy="97.2" r="1.00" fill="#777"/><circle cx="101.2" cy="90.1" r="0.94" fill="#777"/><circle cx="114.2" cy="126.2" r="0.74" fill="#666"/><circle cx="80.6" cy="75.5" r="0.77" fill="#777"/><circle cx="111.4" cy="43.9" r="0.59" fill="#666"/><circle cx="79.3" cy="111.8" r="0.66" fill="#555"/><circle cx="89.4" cy="40.0" r="0.65" fill="#666"/><circle cx="12.9" cy="102.6" r="0.56" fill="#666"/><circle cx="7.7" cy="69.3" r="0.95" fill="#666"/><circle cx="107.8" cy="9.4" r="0.79" fill="#444"/><circle cx="37.0" cy="74.7" r="0.66" fill="#555"/><circle cx="79.5" cy="48.8" r="0.58" fill="#777"/><circle cx="119.8" cy="83.9" r="0.80" fill="#555"/><circle cx="19.8" cy="38.9" r="1.03" fill="#555"/><circle cx="26.6" cy="91.5" r="0.99" fill="#777"/><circle cx="68.6" cy="30.5" r="0.66" fill="#444"/><circle cx="34.3" cy="32.4" r="1.02" fill="#777"/><circle cx="108.0" cy="15.5" r="0.78" fill="#777"/><circle cx="62.2" cy="49.4" r="0.66" fill="#555"/><circle cx="7.2" cy="68.2" r="0.99" fill="#444"/><circle cx="7.1" cy="91.9" r="0.75" fill="#666"/><circle cx="13.2" cy="66.3" r="0.81" fill="#777"/><circle cx="76.1" cy="91.6" r="0.92" fill="#555"/><circle cx="36.6" cy="3.8" r="0.57" fill="#555"/><circle cx="27.1" cy="31.4" r="0.57" fill="#555"/><circle cx="84.7" cy="122.5" r="0.60" fill="#444"/><circle cx="88.9" cy="17.7" r="0.90" fill="#444"/><circle cx="40.7" cy="85.9" r="0.79" fill="#666"/><circle cx="100.1" cy="89.2" r="0.60" fill="#666"/><circle cx="14.0" cy="101.9" r="0.73" fill="#666"/><circle cx="105.4" cy="116.5" r="0.80" fill="#555"/><circle cx="3.4" cy="44.3" r="0.97" fill="#444"/><circle cx="45.8" cy="126.7" r="0.82" fill="#444"/><circle cx="112.9" cy="10.0" r="0.82" fill="#777"/><circle cx="56.1" cy="31.2" r="0.64" fill="#444"/><circle cx="2.1" cy="98.8" r="0.91" fill="#666"/><circle cx="88.2" cy="38.3" r="1.00" fill="#444"/><circle cx="126.9" cy="73.6" r="1.02" fill="#555"/><circle cx="52.8" cy="118.2" r="0.61" fill="#444"/><circle cx="31.8" cy="71.5" r="0.60" fill="#777"/><circle cx="10.5" cy="110.9" r="0.84" fill="#555"/><circle cx="6.9" cy="67.3" r="0.81" fill="#777"/><circle cx="55.9" cy="101.8" r="0.63" fill="#555"/><circle cx="60.2" cy="48.5" r="1.04" fill="#555"/><circle cx="67.6" cy="57.2" r="0.77" fill="#777"/><circle cx="21.3" cy="77.3" r="0.61" fill="#666"/><circle cx="19.1" cy="32.7" r="0.64" fill="#555"/><circle cx="83.6" cy="74.1" r="0.68" fill="#777"/><circle cx="61.6" cy="24.5" r="0.77" fill="#555"/><circle cx="46.3" cy="82.2" r="0.57" fill="#777"/><circle cx="81.4" cy="3.6" r="0.70" fill="#444"/><circle cx="127.4" cy="71.2" r="0.83" fill="#666"/><circle cx="32.4" cy="92.6" r="0.73" fill="#777"/><circle cx="118.9" cy="32.0" r="0.97" fill="#555"/><circle cx="60.4" cy="123.8" r="0.93" fill="#777"/><circle cx="14.4" cy="89.0" r="0.67" fill="#777"/><circle cx="15.3" cy="77.7" r="0.86" fill="#777"/><circle cx="11.8" cy="96.4" r="0.97" fill="#777"/><circle cx="80.7" cy="99.5" r="0.90" fill="#666"/><circle cx="119.6" cy="72.4" r="0.63" fill="#555"/><circle cx="87.1" cy="84.4" r="0.75" fill="#777"/><circle cx="92.8" cy="93.9" r="0.64" fill="#666"/><circle cx="119.4" cy="74.1" r="0.75" fill="#666"/><circle cx="87.8" cy="86.8" r="0.75" fill="#444"/><circle cx="27.0" cy="13.2" r="0.56" fill="#666"/><circle cx="42.2" cy="41.2" r="0.75" fill="#666"/><circle cx="102.6" cy="68.5" r="0.79" fill="#555"/><circle cx="58.3" cy="12.3" r="0.56" fill="#444"/><circle cx="39.7" cy="18.2" r="0.90" fill="#444"/><circle cx="43.2" cy="62.2" r="1.00" fill="#444"/><circle cx="114.6" cy="83.1" r="0.84" fill="#555"/><circle cx="97.1" cy="42.6" r="0.72" fill="#777"/><circle cx="74.4" cy="94.4" r="0.78" fill="#666"/><circle cx="11.3" cy="27.8" r="0.73" fill="#666"/><circle cx="110.8" cy="127.5" r="0.64" fill="#555"/><circle cx="70.6" cy="84.3" r="0.86" fill="#555"/><circle cx="76.8" cy="31.0" r="0.98" fill="#555"/><circle cx="66.9" cy="21.0" r="0.75" fill="#777"/><circle cx="96.9" cy="84.4" r="0.89" fill="#555"/><circle cx="110.6" cy="80.0" r="0.95" fill="#555"/><circle cx="120.2" cy="129.1" r="0.66" fill="#444"/><circle cx="59.8" cy="83.0" r="0.92" fill="#666"/><circle cx="51.8" cy="108.8" r="0.56" fill="#444"/><circle cx="39.9" cy="74.2" r="0.79" fill="#444"/><circle cx="10.0" cy="60.2" r="0.62" fill="#777"/><circle cx="119.3" cy="83.3" r="0.68" fill="#777"/><circle cx="70.4" cy="118.5" r="1.00" fill="#666"/><circle cx="37.5" cy="3.5" r="1.00" fill="#555"/><circle cx="10.2" cy="118.5" r="0.64" fill="#666"/><circle cx="60.8" cy="25.7" r="0.57" fill="#666"/><circle cx="60.2" cy="8.1" r="1.04" fill="#666"/><circle cx="83.2" cy="104.6" r="0.87" fill="#555"/><circle cx="20.4" cy="119.9" r="0.56" fill="#444"/><circle cx="35.7" cy="48.5" r="0.59" fill="#555"/><circle cx="46.0" cy="124.4" r="0.92" fill="#555"/><circle cx="40.6" cy="98.9" r="0.93" fill="#666"/><circle cx="83.7" cy="93.5" r="0.98" fill="#444"/><circle cx="17.9" cy="95.9" r="1.04" fill="#666"/><circle cx="63.0" cy="38.3" r="0.58" fill="#555"/><circle cx="126.0" cy="14.9" r="0.96" fill="#555"/><circle cx="46.1" cy="110.0" r="0.63" fill="#666"/><circle cx="101.7" cy="88.2" r="1.01" fill="#555"/><circle cx="11.7" cy="120.9" r="0.84" fill="#555"/><circle cx="105.5" cy="128.6" r="0.99" fill="#777"/><circle cx="27.5" cy="84.4" r="0.57" fill="#666"/><circle cx="56.2" cy="64.7" r="0.83" fill="#555"/><circle cx="69.0" cy="15.3" r="0.98" fill="#555"/><circle cx="89.7" cy="49.1" r="0.76" fill="#555"/><circle cx="83.0" cy="80.0" r="0.90" fill="#444"/><circle cx="11.3" cy="108.4" r="0.91" fill="#555"/><circle cx="26.0" cy="127.5" r="0.89" fill="#444"/><circle cx="70.4" cy="40.8" r="0.80" fill="#555"/><circle cx="88.8" cy="87.5" r="0.78" fill="#666"/><circle cx="30.4" cy="44.8" r="0.75" fill="#444"/><circle cx="97.8" cy="33.7" r="0.83" fill="#666"/><circle cx="55.4" cy="5.7" r="0.63" fill="#555"/><circle cx="122.1" cy="108.0" r="0.64" fill="#555"/><circle cx="130.1" cy="83.8" r="0.93" fill="#777"/><circle cx="1.0" cy="54.9" r="0.89" fill="#444"/><circle cx="24.9" cy="0.2" r="0.95" fill="#777"/><circle cx="107.2" cy="110.2" r="0.64" fill="#666"/><circle cx="106.1" cy="74.0" r="1.03" fill="#666"/><circle cx="40.5" cy="54.1" r="0.79" fill="#777"/><circle cx="100.4" cy="128.1" r="0.64" fill="#777"/><circle cx="38.6" cy="75.0" r="0.81" fill="#666"/><circle cx="70.6" cy="73.2" r="0.68" fill="#777"/><circle cx="116.1" cy="59.8" r="0.59" fill="#777"/><circle cx="68.6" cy="36.2" r="1.03" fill="#666"/><circle cx="106.7" cy="95.5" r="1.04" fill="#777"/><circle cx="16.5" cy="66.4" r="0.65" fill="#777"/><circle cx="116.9" cy="21.1" r="0.59" fill="#777"/><circle cx="18.5" cy="67.0" r="0.92" fill="#555"/><circle cx="28.8" cy="102.3" r="0.57" fill="#444"/><circle cx="117.6" cy="71.0" r="0.70" fill="#555"/><circle cx="95.2" cy="102.9" r="1.00" fill="#555"/><circle cx="75.2" cy="107.2" r="0.80" fill="#666"/><circle cx="72.2" cy="78.7" r="0.63" fill="#777"/><circle cx="67.1" cy="93.3" r="0.58" fill="#777"/><circle cx="25.5" cy="42.1" r="0.70" fill="#444"/><circle cx="61.2" cy="24.0" r="0.57" fill="#666"/><circle cx="33.7" cy="96.7" r="0.68" fill="#666"/><circle cx="6.2" cy="41.7" r="0.76" fill="#555"/><circle cx="24.0" cy="89.7" r="0.79" fill="#777"/><circle cx="91.0" cy="38.6" r="0.88" fill="#555"/><circle cx="100.0" cy="7.1" r="1.00" fill="#444"/><circle cx="126.7" cy="75.6" r="0.56" fill="#666"/><circle cx="28.0" cy="88.4" r="0.83" fill="#777"/><circle cx="56.4" cy="87.1" r="0.94" fill="#666"/><circle cx="13.5" cy="0.9" r="0.65" fill="#444"/><circle cx="20.3" cy="38.4" r="0.61" fill="#444"/><circle cx="121.8" cy="116.9" r="0.60" fill="#555"/><circle cx="53.9" cy="30.7" r="0.99" fill="#777"/><circle cx="71.2" cy="4.3" r="0.69" fill="#555"/><circle cx="76.7" cy="6.1" r="0.96" fill="#555"/><circle cx="89.1" cy="22.9" r="1.00" fill="#444"/><circle cx="22.4" cy="16.0" r="0.65" fill="#555"/><circle cx="36.9" cy="89.9" r="0.99" fill="#555"/><circle cx="83.1" cy="74.1" r="1.03" fill="#444"/><circle cx="47.1" cy="90.0" r="0.66" fill="#777"/><circle cx="37.2" cy="11.0" r="0.96" fill="#666"/><circle cx="85.6" cy="38.0" r="0.94" fill="#666"/><circle cx="130.9" cy="5.5" r="0.71" fill="#444"/><circle cx="130.4" cy="65.1" r="0.62" fill="#666"/><circle cx="37.6" cy="117.9" r="0.76" fill="#777"/></g>
<g fill="#1e1e1e" filter="url(#fb2)"><circle cx="39.4" cy="2.2" r="2.20"/><circle cx="23.2" cy="16.7" r="1.30"/><circle cx="42.3" cy="18.6" r="1.50"/><circle cx="49.2" cy="14.9" r="1.10"/><circle cx="53.9" cy="8.4" r="1.10"/><circle cx="33.4" cy="3.7" r="1.30"/><circle cx="9.3" cy="39.0" r="1.50"/><circle cx="12.1" cy="42.7" r="1.30"/><circle cx="23.2" cy="41.8" r="1.30"/><circle cx="31.6" cy="47.4" r="1.30"/><circle cx="39.9" cy="43.6" r="1.30"/><circle cx="43.1" cy="39.0" r="1.30"/><circle cx="17.6" cy="49.2" r="1.30"/><circle cx="13.4" cy="52.9" r="1.50"/><circle cx="24.1" cy="54.8" r="1.50"/><circle cx="26.0" cy="57.6" r="1.20"/><circle cx="19.5" cy="59.0" r="1.20"/><circle cx="34.4" cy="52.9" r="1.20"/><circle cx="7.4" cy="59.4" r="1.10"/><circle cx="17.6" cy="63.1" r="1.20"/><circle cx="57.6" cy="28.8" r="1.20"/><circle cx="49.2" cy="27.9" r="1.20"/><circle cx="3.7" cy="15.8" r="1.10"/><circle cx="23.2" cy="23.2" r="1.10"/><circle cx="7.4" cy="29.7" r="1.00"/><circle cx="28.8" cy="8.4" r="1.00"/><circle cx="77.1" cy="31.9" r="1.90"/><circle cx="110.5" cy="33.4" r="1.70"/><circle cx="107.7" cy="48.7" r="1.90"/><circle cx="113.7" cy="49.8" r="1.90"/><circle cx="94.3" cy="13.0" r="1.50"/><circle cx="65.9" cy="10.2" r="1.50"/><circle cx="68.7" cy="15.8" r="1.50"/><circle cx="82.6" cy="11.1" r="1.10"/><circle cx="98.4" cy="39.9" r="1.50"/><circle cx="89.1" cy="48.3" r="1.30"/><circle cx="95.6" cy="45.5" r="1.10"/><circle cx="120.7" cy="55.7" r="1.30"/><circle cx="87.3" cy="60.4" r="1.10"/><circle cx="104.0" cy="59.4" r="1.10"/><circle cx="76.1" cy="7.4" r="1.10"/><circle cx="89.1" cy="7.4" r="1.10"/><circle cx="72.4" cy="22.3" r="1.00"/><circle cx="124.4" cy="39.0" r="1.10"/><circle cx="120.7" cy="27.9" r="1.10"/><circle cx="18.6" cy="68.7" r="2.80"/><circle cx="7.1" cy="104.9" r="2.80"/><circle cx="26.9" cy="78.0" r="1.50"/><circle cx="18.6" cy="83.6" r="1.30"/><circle cx="3.7" cy="83.6" r="1.30"/><circle cx="34.4" cy="79.9" r="1.30"/><circle cx="32.5" cy="86.4" r="1.30"/><circle cx="27.9" cy="71.5" r="1.10"/><circle cx="23.2" cy="89.1" r="1.50"/><circle cx="26.0" cy="97.5" r="1.70"/><circle cx="25.1" cy="108.6" r="1.90"/><circle cx="29.7" cy="113.3" r="1.70"/><circle cx="39.0" cy="114.2" r="1.70"/><circle cx="24.1" cy="115.1" r="1.30"/><circle cx="20.4" cy="102.1" r="1.30"/><circle cx="39.0" cy="104.9" r="1.30"/><circle cx="35.3" cy="120.7" r="1.30"/><circle cx="45.5" cy="107.7" r="1.30"/><circle cx="11.1" cy="118.9" r="1.50"/><circle cx="16.7" cy="126.3" r="1.30"/><circle cx="2.8" cy="109.6" r="1.10"/><circle cx="44.6" cy="78.0" r="1.50"/><circle cx="2.8" cy="99.4" r="1.10"/><circle cx="11.1" cy="92.9" r="1.10"/><circle cx="55.7" cy="118.9" r="1.50"/><circle cx="51.1" cy="124.4" r="1.10"/><circle cx="85.1" cy="96.6" r="2.60"/><circle cx="74.7" cy="96.9" r="2.00"/><circle cx="118.9" cy="81.3" r="2.00"/><circle cx="114.2" cy="121.6" r="1.70"/><circle cx="82.6" cy="82.6" r="1.30"/><circle cx="88.2" cy="78.9" r="1.30"/><circle cx="98.4" cy="80.8" r="1.10"/><circle cx="104.9" cy="70.6" r="1.10"/><circle cx="99.4" cy="72.4" r="1.10"/><circle cx="112.4" cy="75.2" r="1.10"/><circle cx="109.6" cy="94.7" r="1.00"/><circle cx="104.0" cy="104.0" r="1.50"/><circle cx="106.0" cy="106.0" r="1.20"/><circle cx="101.2" cy="115.1" r="1.90"/><circle cx="95.6" cy="111.4" r="1.30"/><circle cx="91.9" cy="122.6" r="2.20"/><circle cx="99.4" cy="125.4" r="1.70"/><circle cx="83.6" cy="118.9" r="1.70"/><circle cx="73.4" cy="126.3" r="1.90"/><circle cx="75.2" cy="117.0" r="1.50"/><circle cx="78.0" cy="108.6" r="1.10"/><circle cx="91.0" cy="109.6" r="1.30"/><circle cx="120.7" cy="104.0" r="1.30"/><circle cx="124.4" cy="104.0" r="1.10"/><circle cx="117.0" cy="126.3" r="1.10"/><circle cx="128.1" cy="122.6" r="1.10"/><circle cx="68.7" cy="129.1" r="1.50"/><circle cx="92.9" cy="92.9" r="1.10"/><circle cx="89.1" cy="102.1" r="1.10"/><circle cx="126.3" cy="100.3" r="1.10"/><circle cx="75.3" cy="84.1" r="1.80"/></g>
<ellipse cx="91.9" cy="27.9" rx="7.0" ry="7.0" fill="#000" opacity="0.35" filter="url(#fb3)"/>
<ellipse cx="129.5" cy="89.0" rx="7.0" ry="9.0" fill="#000" opacity="0.35" filter="url(#fb4)"/>
<g fill="#1e1e1e" filter="url(#fb5)"><circle cx="91.9" cy="27.9" r="4.40"/><circle cx="129.5" cy="89.1" r="4.60"/></g>
<g stroke="#333" stroke-width="0.6" opacity="0.7"><path d="M113.3 104 L130 92.9"/><path d="M120.7 72.4 L129.1 85.4"/></g>
<rect x="-50" y="-50" width="300" height="300" fill="#e47474" opacity="0.90" mask="url(#mb6)"/>
<rect x="-50" y="-50" width="300" height="300" fill="#e47474" opacity="0.90" mask="url(#mb7)"/>
<rect x="-50" y="-50" width="300" height="300" fill="#b4b4f6" opacity="0.35" mask="url(#mb8)" style="mix-blend-mode:multiply"/>
<rect x="-50" y="-50" width="300" height="300" fill="#7070ee" opacity="0.80" mask="url(#mb9)"/>
<rect x="-50" y="-50" width="300" height="300" fill="#7070ee" opacity="0.70" mask="url(#mb10)"/>
<rect x="-50" y="-50" width="300" height="300" fill="#c080c0" opacity="0.35" mask="url(#mb11)" style="mix-blend-mode:multiply"/>
<rect x="-50" y="-50" width="300" height="300" fill="#e4e450" opacity="0.90" mask="url(#mb12)"/>
<rect x="-50" y="-50" width="300" height="300" fill="#e4e450" opacity="0.85" mask="url(#mb13)"/>
<g fill="#2f7f2f"><circle cx="62.2" cy="85.5" r="0.90"/><circle cx="35.9" cy="105.3" r="0.90"/><circle cx="73.1" cy="86.0" r="0.90"/><circle cx="52.5" cy="54.4" r="0.90"/><circle cx="78.1" cy="62.0" r="0.90"/><circle cx="47.6" cy="66.5" r="0.90"/><circle cx="56.4" cy="67.5" r="0.90"/><circle cx="50.9" cy="100.3" r="0.90"/><circle cx="45.1" cy="82.8" r="0.90"/><circle cx="42.2" cy="102.4" r="0.90"/><circle cx="62.5" cy="81.5" r="0.90"/><circle cx="38.2" cy="113.5" r="0.90"/><circle cx="67.5" cy="90.5" r="0.90"/><circle cx="73.4" cy="81.2" r="0.90"/><circle cx="70.1" cy="102.6" r="0.90"/><circle cx="71.0" cy="80.9" r="0.90"/><circle cx="42.4" cy="89.1" r="0.90"/><circle cx="40.9" cy="90.5" r="0.90"/><circle cx="65.6" cy="90.8" r="0.90"/><circle cx="65.5" cy="46.9" r="0.90"/><circle cx="51.0" cy="113.5" r="0.90"/><circle cx="53.3" cy="49.4" r="0.90"/><circle cx="50.4" cy="51.9" r="0.90"/><circle cx="47.0" cy="95.5" r="0.90"/><circle cx="70.2" cy="58.3" r="0.90"/></g>
<rect x="-50" y="-50" width="300" height="300" fill="#b4b4f6" opacity="0.40" mask="url(#mb14)" style="mix-blend-mode:multiply"/>
<rect x="-50" y="-50" width="300" height="300" fill="#7070ee" opacity="0.85" mask="url(#mb15)"/>
<rect x="-50" y="-50" width="300" height="300" fill="#e4e450" opacity="0.95" mask="url(#mb16)"/>
<rect x="-50" y="-50" width="300" height="300" fill="#b4b4f6" opacity="0.55" mask="url(#mb17)" style="mix-blend-mode:multiply"/>
<rect x="-50" y="-50" width="300" height="300" fill="#7070ee" opacity="0.80" mask="url(#mb18)"/>
<rect x="-50" y="-50" width="300" height="300" fill="#b4b4f6" opacity="0.55" mask="url(#mb19)" style="mix-blend-mode:multiply"/>
<rect x="-50" y="-50" width="300" height="300" fill="#7070ee" opacity="0.80" mask="url(#mb20)"/>
<rect x="-50" y="-50" width="300" height="300" fill="#b4b4f6" opacity="0.40" mask="url(#mb21)" style="mix-blend-mode:multiply"/>
<rect x="-50" y="-50" width="300" height="300" fill="#7070ee" opacity="0.85" mask="url(#mb22)"/>
<rect x="-50" y="-50" width="300" height="300" fill="#e4e450" opacity="0.95" mask="url(#mb23)"/>
<rect x="-50" y="-50" width="300" height="300" fill="#e47474" opacity="0.90" mask="url(#mb24)"/>
<rect x="-50" y="-50" width="300" height="300" fill="#c090d0" opacity="0.35" mask="url(#mb25)" style="mix-blend-mode:multiply"/>
<rect x="-50" y="-50" width="300" height="300" fill="#4848d8" opacity="0.95" mask="url(#mb26)"/>
<rect x="-50" y="-50" width="300" height="300" fill="#e4e450" opacity="1.00" mask="url(#mb27)"/>
<rect x="-50" y="-50" width="300" height="300" fill="#d050b0" opacity="0.80" mask="url(#mb28)"/>
<rect x="-50" y="-50" width="300" height="300" fill="#e47474" opacity="0.90" mask="url(#mb29)"/>
<g fill="none" stroke="#d24fd2" stroke-width="0.90"><path d="M65.9 6.5 L69.6 10.2 L65.9 13.9 L62.2 10.2 Z"/><path d="M94.3 9.5 L97.8 13.0 L94.3 16.5 L90.8 13.0 Z"/><path d="M77.1 28.4 L80.6 31.9 L77.1 35.4 L73.6 31.9 Z"/><path d="M110.5 29.9 L114.0 33.4 L110.5 36.9 L107.0 33.4 Z"/><path d="M107.7 45.2 L111.2 48.7 L107.7 52.2 L104.2 48.7 Z"/><path d="M113.7 46.3 L117.2 49.8 L113.7 53.3 L110.2 49.8 Z"/><path d="M124.4 59.6 L127.9 63.1 L124.4 66.6 L120.9 63.1 Z"/><path d="M7.1 100.3 L11.7 104.9 L7.1 109.5 L2.5 104.9 Z"/><path d="M85.1 92.1 L89.6 96.6 L85.1 101.1 L80.6 96.6 Z"/><path d="M74.7 92.9 L78.7 96.9 L74.7 100.9 L70.7 96.9 Z"/><path d="M118.9 77.3 L122.9 81.3 L118.9 85.3 L114.9 81.3 Z"/><path d="M114.2 117.6 L118.2 121.6 L114.2 125.6 L110.2 121.6 Z"/></g>
<g fill="none" stroke="#e8a0a0" stroke-width="0.70" opacity="0.80"><circle cx="9.3" cy="120.7" r="7.40"/></g>
<g fill="none" stroke="#7070ee" stroke-width="0.60" opacity="0.70"><circle cx="4.6" cy="124.4" r="1.50"/></g>
<circle cx="9.3" cy="2.2" r="1.4" fill="#f0f060"/>
</g></svg></g>
<g transform="translate(29.00 178.00)">
<svg x="0" y="0" width="131.00" height="130.00" viewBox="0 0 131.00 130.00" overflow="hidden"><g filter="url(#soft)">
<rect width="131.00" height="130.00" fill="#dadada"/>
<rect width="131.00" height="130.00" filter="url(#grainc)"/>
<g fill="#1e1e1e" filter="url(#fc1)"><circle cx="31.2" cy="70.7" r="0.80" fill="#6a6a6a"/><circle cx="62.1" cy="75.5" r="0.93" fill="#5a5a5a"/><circle cx="34.0" cy="30.5" r="1.15" fill="#5a5a5a"/><circle cx="70.9" cy="71.5" r="0.82" fill="#3a3a3a"/><circle cx="30.4" cy="19.7" r="1.11" fill="#5a5a5a"/><circle cx="97.1" cy="87.3" r="0.64" fill="#6a6a6a"/><circle cx="5.6" cy="101.4" r="1.05" fill="#4a4a4a"/><circle cx="61.9" cy="93.4" r="1.08" fill="#5a5a5a"/><circle cx="51.7" cy="104.1" r="0.84" fill="#3a3a3a"/><circle cx="115.1" cy="12.7" r="0.67" fill="#3a3a3a"/><circle cx="33.8" cy="87.4" r="1.03" fill="#4a4a4a"/><circle cx="55.2" cy="108.4" r="0.92" fill="#6a6a6a"/><circle cx="76.6" cy="76.0" r="1.10" fill="#2a2a2a"/><circle cx="112.2" cy="128.8" r="0.97" fill="#3a3a3a"/><circle cx="91.5" cy="42.4" r="0.90" fill="#6a6a6a"/><circle cx="74.6" cy="92.8" r="0.72" fill="#6a6a6a"/><circle cx="35.0" cy="16.2" r="0.87" fill="#5a5a5a"/><circle cx="11.6" cy="104.1" r="0.83" fill="#3a3a3a"/><circle cx="2.6" cy="55.5" r="0.83" fill="#2a2a2a"/><circle cx="5.8" cy="79.9" r="0.62" fill="#6a6a6a"/><circle cx="43.4" cy="114.5" r="1.14" fill="#6a6a6a"/><circle cx="30.9" cy="4.7" r="0.60" fill="#2a2a2a"/><circle cx="78.6" cy="4.1" r="0.71" fill="#5a5a5a"/><circle cx="38.2" cy="34.2" r="0.98" fill="#4a4a4a"/><circle cx="41.1" cy="124.6" r="1.09" fill="#5a5a5a"/><circle cx="49.4" cy="113.1" r="0.81" fill="#6a6a6a"/><circle cx="89.2" cy="13.3" r="1.14" fill="#6a6a6a"/><circle cx="35.5" cy="82.5" r="0.99" fill="#4a4a4a"/><circle cx="57.3" cy="33.6" r="0.77" fill="#4a4a4a"/><circle cx="1.5" cy="54.0" r="0.92" fill="#2a2a2a"/><circle cx="49.3" cy="76.6" r="0.67" fill="#4a4a4a"/><circle cx="61.1" cy="88.3" r="0.79" fill="#4a4a4a"/><circle cx="96.7" cy="2.9" r="0.63" fill="#2a2a2a"/><circle cx="126.2" cy="32.6" r="0.85" fill="#6a6a6a"/><circle cx="78.8" cy="23.1" r="0.70" fill="#4a4a4a"/><circle cx="110.5" cy="34.3" r="1.03" fill="#2a2a2a"/><circle cx="101.2" cy="3.5" r="0.91" fill="#3a3a3a"/><circle cx="40.6" cy="28.9" r="1.04" fill="#3a3a3a"/><circle cx="42.9" cy="88.1" r="0.96" fill="#2a2a2a"/><circle cx="13.3" cy="41.9" r="0.78" fill="#3a3a3a"/><circle cx="57.4" cy="111.2" r="0.69" fill="#4a4a4a"/><circle cx="97.2" cy="28.3" r="0.91" fill="#4a4a4a"/><circle cx="29.5" cy="15.7" r="0.89" fill="#3a3a3a"/><circle cx="41.3" cy="108.7" r="0.92" fill="#4a4a4a"/><circle cx="44.6" cy="107.6" r="0.65" fill="#6a6a6a"/><circle cx="45.2" cy="16.9" r="0.76" fill="#4a4a4a"/><circle cx="60.9" cy="82.4" r="0.76" fill="#6a6a6a"/><circle cx="53.6" cy="119.7" r="0.69" fill="#2a2a2a"/><circle cx="62.5" cy="108.2" r="0.94" fill="#6a6a6a"/><circle cx="56.9" cy="123.5" r="1.11" fill="#3a3a3a"/><circle cx="4.2" cy="59.4" r="1.01" fill="#6a6a6a"/><circle cx="126.2" cy="70.7" r="1.09" fill="#2a2a2a"/><circle cx="112.4" cy="126.2" r="0.67" fill="#3a3a3a"/><circle cx="5.9" cy="117.5" r="0.98" fill="#3a3a3a"/><circle cx="117.5" cy="117.0" r="0.92" fill="#2a2a2a"/><circle cx="63.0" cy="15.7" r="0.88" fill="#3a3a3a"/><circle cx="86.8" cy="68.2" r="0.83" fill="#6a6a6a"/><circle cx="14.9" cy="16.3" r="1.13" fill="#6a6a6a"/><circle cx="62.5" cy="101.7" r="0.79" fill="#3a3a3a"/><circle cx="16.0" cy="115.4" r="0.67" fill="#3a3a3a"/><circle cx="103.7" cy="119.8" r="1.04" fill="#2a2a2a"/><circle cx="63.9" cy="74.2" r="0.82" fill="#4a4a4a"/><circle cx="32.5" cy="80.4" r="0.89" fill="#2a2a2a"/><circle cx="61.9" cy="100.9" r="0.60" fill="#2a2a2a"/><circle cx="101.6" cy="6.0" r="0.63" fill="#5a5a5a"/><circle cx="127.7" cy="111.1" r="0.65" fill="#6a6a6a"/><circle cx="64.2" cy="20.4" r="0.64" fill="#5a5a5a"/><circle cx="84.7" cy="76.3" r="0.80" fill="#3a3a3a"/><circle cx="129.4" cy="55.7" r="0.67" fill="#2a2a2a"/><circle cx="93.8" cy="49.4" r="0.64" fill="#3a3a3a"/><circle cx="5.6" cy="59.9" r="0.96" fill="#6a6a6a"/><circle cx="49.8" cy="104.2" r="0.94" fill="#5a5a5a"/><circle cx="7.0" cy="81.6" r="1.02" fill="#4a4a4a"/><circle cx="55.1" cy="90.2" r="0.85" fill="#3a3a3a"/><circle cx="28.6" cy="35.1" r="0.92" fill="#5a5a5a"/><circle cx="29.4" cy="16.9" r="0.62" fill="#4a4a4a"/><circle cx="49.0" cy="116.7" r="1.04" fill="#4a4a4a"/><circle cx="15.9" cy="89.8" r="1.12" fill="#6a6a6a"/><circle cx="103.8" cy="86.8" r="1.00" fill="#6a6a6a"/><circle cx="69.7" cy="105.5" r="0.99" fill="#5a5a5a"/><circle cx="18.8" cy="100.7" r="0.62" fill="#2a2a2a"/><circle cx="73.9" cy="85.7" r="0.81" fill="#2a2a2a"/><circle cx="44.7" cy="110.8" r="0.61" fill="#2a2a2a"/><circle cx="88.2" cy="108.7" r="1.12" fill="#6a6a6a"/><circle cx="39.2" cy="11.5" r="1.15" fill="#6a6a6a"/><circle cx="67.0" cy="93.0" r="0.66" fill="#2a2a2a"/><circle cx="122.4" cy="7.9" r="0.78" fill="#6a6a6a"/><circle cx="23.6" cy="10.1" r="1.15" fill="#3a3a3a"/><circle cx="59.5" cy="91.0" r="1.12" fill="#4a4a4a"/><circle cx="48.1" cy="51.6" r="0.79" fill="#5a5a5a"/><circle cx="126.6" cy="48.8" r="0.73" fill="#5a5a5a"/><circle cx="110.5" cy="125.7" r="0.83" fill="#6a6a6a"/><circle cx="99.1" cy="87.6" r="0.88" fill="#5a5a5a"/><circle cx="20.5" cy="52.1" r="1.09" fill="#3a3a3a"/><circle cx="12.6" cy="97.3" r="1.10" fill="#6a6a6a"/><circle cx="124.5" cy="76.2" r="1.07" fill="#3a3a3a"/><circle cx="35.0" cy="25.9" r="0.92" fill="#4a4a4a"/><circle cx="122.5" cy="110.7" r="0.90" fill="#4a4a4a"/><circle cx="88.0" cy="111.2" r="0.93" fill="#6a6a6a"/><circle cx="76.6" cy="34.7" r="0.72" fill="#2a2a2a"/><circle cx="35.1" cy="104.5" r="0.71" fill="#6a6a6a"/><circle cx="47.2" cy="41.9" r="1.03" fill="#3a3a3a"/><circle cx="54.8" cy="90.7" r="0.99" fill="#3a3a3a"/><circle cx="61.3" cy="108.5" r="1.05" fill="#6a6a6a"/><circle cx="3.6" cy="129.1" r="0.64" fill="#5a5a5a"/><circle cx="102.6" cy="114.6" r="0.63" fill="#3a3a3a"/><circle cx="116.7" cy="84.3" r="1.03" fill="#2a2a2a"/><circle cx="125.6" cy="111.0" r="0.73" fill="#3a3a3a"/><circle cx="101.6" cy="17.9" r="0.94" fill="#2a2a2a"/><circle cx="117.9" cy="33.2" r="1.08" fill="#4a4a4a"/><circle cx="24.0" cy="11.8" r="1.04" fill="#2a2a2a"/><circle cx="12.1" cy="108.4" r="0.76" fill="#4a4a4a"/><circle cx="59.3" cy="95.4" r="0.79" fill="#2a2a2a"/><circle cx="43.9" cy="56.7" r="0.87" fill="#3a3a3a"/><circle cx="84.4" cy="96.5" r="0.87" fill="#3a3a3a"/><circle cx="71.3" cy="15.5" r="0.75" fill="#5a5a5a"/><circle cx="14.7" cy="115.3" r="1.10" fill="#2a2a2a"/><circle cx="69.1" cy="91.1" r="0.97" fill="#4a4a4a"/><circle cx="99.2" cy="38.4" r="0.97" fill="#4a4a4a"/><circle cx="14.0" cy="122.8" r="0.79" fill="#6a6a6a"/><circle cx="70.2" cy="14.7" r="0.87" fill="#4a4a4a"/><circle cx="7.8" cy="38.3" r="1.00" fill="#3a3a3a"/><circle cx="84.6" cy="94.9" r="0.68" fill="#4a4a4a"/><circle cx="116.6" cy="85.2" r="0.67" fill="#6a6a6a"/><circle cx="18.5" cy="43.1" r="1.00" fill="#6a6a6a"/><circle cx="55.0" cy="39.1" r="0.70" fill="#5a5a5a"/><circle cx="40.9" cy="22.9" r="0.64" fill="#3a3a3a"/><circle cx="98.8" cy="70.6" r="1.01" fill="#4a4a4a"/><circle cx="13.1" cy="35.2" r="0.63" fill="#3a3a3a"/><circle cx="5.5" cy="65.6" r="0.74" fill="#6a6a6a"/><circle cx="46.4" cy="43.3" r="0.82" fill="#6a6a6a"/><circle cx="106.0" cy="9.0" r="0.87" fill="#2a2a2a"/><circle cx="19.9" cy="76.7" r="0.97" fill="#6a6a6a"/><circle cx="102.0" cy="94.5" r="0.70" fill="#3a3a3a"/><circle cx="74.3" cy="87.1" r="0.82" fill="#3a3a3a"/><circle cx="77.5" cy="19.0" r="0.82" fill="#3a3a3a"/><circle cx="71.4" cy="22.1" r="0.70" fill="#4a4a4a"/><circle cx="48.4" cy="38.1" r="1.06" fill="#5a5a5a"/><circle cx="116.7" cy="123.4" r="0.81" fill="#6a6a6a"/><circle cx="118.7" cy="40.2" r="0.87" fill="#6a6a6a"/><circle cx="89.9" cy="38.9" r="1.07" fill="#5a5a5a"/><circle cx="4.0" cy="24.8" r="0.95" fill="#2a2a2a"/><circle cx="100.9" cy="86.1" r="0.87" fill="#6a6a6a"/><circle cx="81.9" cy="25.9" r="1.03" fill="#3a3a3a"/><circle cx="4.9" cy="65.1" r="0.96" fill="#5a5a5a"/><circle cx="14.6" cy="36.8" r="0.96" fill="#3a3a3a"/><circle cx="17.8" cy="103.0" r="0.94" fill="#2a2a2a"/><circle cx="3.3" cy="80.4" r="0.88" fill="#5a5a5a"/><circle cx="70.6" cy="120.9" r="0.78" fill="#4a4a4a"/><circle cx="91.0" cy="17.5" r="1.07" fill="#6a6a6a"/><circle cx="101.6" cy="4.4" r="0.64" fill="#4a4a4a"/><circle cx="130.7" cy="26.7" r="0.63" fill="#3a3a3a"/><circle cx="57.3" cy="98.4" r="0.87" fill="#2a2a2a"/><circle cx="103.1" cy="53.1" r="1.06" fill="#3a3a3a"/><circle cx="51.3" cy="61.5" r="0.64" fill="#5a5a5a"/><circle cx="27.3" cy="63.6" r="0.61" fill="#5a5a5a"/><circle cx="99.2" cy="52.2" r="0.70" fill="#2a2a2a"/><circle cx="94.3" cy="47.7" r="0.80" fill="#6a6a6a"/><circle cx="47.4" cy="52.2" r="1.13" fill="#3a3a3a"/><circle cx="33.9" cy="48.1" r="1.07" fill="#6a6a6a"/><circle cx="25.6" cy="27.2" r="0.69" fill="#5a5a5a"/><circle cx="66.0" cy="82.8" r="0.68" fill="#6a6a6a"/><circle cx="22.0" cy="63.7" r="0.63" fill="#2a2a2a"/><circle cx="52.8" cy="41.3" r="0.62" fill="#2a2a2a"/><circle cx="31.3" cy="5.1" r="0.87" fill="#3a3a3a"/><circle cx="31.6" cy="50.6" r="0.70" fill="#4a4a4a"/><circle cx="81.5" cy="45.0" r="0.67" fill="#2a2a2a"/><circle cx="105.8" cy="37.8" r="1.14" fill="#5a5a5a"/><circle cx="103.4" cy="125.0" r="0.87" fill="#6a6a6a"/><circle cx="34.8" cy="105.9" r="0.95" fill="#4a4a4a"/><circle cx="41.5" cy="7.4" r="0.84" fill="#2a2a2a"/><circle cx="77.6" cy="0.5" r="0.62" fill="#2a2a2a"/><circle cx="2.5" cy="65.4" r="0.87" fill="#3a3a3a"/><circle cx="85.7" cy="117.0" r="0.71" fill="#5a5a5a"/><circle cx="44.5" cy="62.2" r="0.79" fill="#2a2a2a"/><circle cx="50.1" cy="97.7" r="0.95" fill="#5a5a5a"/><circle cx="11.5" cy="38.1" r="1.07" fill="#2a2a2a"/><circle cx="66.5" cy="71.1" r="0.90" fill="#5a5a5a"/><circle cx="22.9" cy="96.2" r="1.00" fill="#6a6a6a"/><circle cx="47.1" cy="23.9" r="1.04" fill="#5a5a5a"/><circle cx="30.1" cy="101.3" r="0.86" fill="#4a4a4a"/><circle cx="107.5" cy="65.9" r="1.01" fill="#5a5a5a"/><circle cx="124.4" cy="5.6" r="0.69" fill="#2a2a2a"/><circle cx="107.8" cy="12.0" r="0.98" fill="#2a2a2a"/><circle cx="41.9" cy="78.1" r="1.04" fill="#2a2a2a"/><circle cx="115.1" cy="113.4" r="0.85" fill="#4a4a4a"/><circle cx="130.6" cy="0.2" r="0.71" fill="#2a2a2a"/><circle cx="44.3" cy="40.5" r="0.85" fill="#3a3a3a"/><circle cx="31.5" cy="6.3" r="0.68" fill="#3a3a3a"/><circle cx="76.7" cy="1.5" r="0.73" fill="#3a3a3a"/><circle cx="28.8" cy="73.1" r="0.83" fill="#6a6a6a"/><circle cx="41.8" cy="114.8" r="1.03" fill="#5a5a5a"/><circle cx="23.3" cy="10.3" r="1.05" fill="#2a2a2a"/><circle cx="78.4" cy="111.7" r="0.66" fill="#4a4a4a"/><circle cx="11.2" cy="60.5" r="0.72" fill="#6a6a6a"/><circle cx="14.3" cy="63.1" r="0.97" fill="#4a4a4a"/><circle cx="52.8" cy="85.9" r="1.03" fill="#4a4a4a"/><circle cx="109.4" cy="77.3" r="1.05" fill="#3a3a3a"/><circle cx="15.3" cy="1.0" r="0.76" fill="#2a2a2a"/><circle cx="44.7" cy="25.0" r="1.01" fill="#6a6a6a"/><circle cx="89.9" cy="47.4" r="1.03" fill="#2a2a2a"/><circle cx="79.4" cy="27.8" r="0.79" fill="#2a2a2a"/><circle cx="43.9" cy="56.0" r="0.65" fill="#3a3a3a"/><circle cx="42.3" cy="97.4" r="0.71" fill="#3a3a3a"/><circle cx="114.6" cy="128.3" r="0.94" fill="#6a6a6a"/><circle cx="111.7" cy="47.8" r="0.71" fill="#6a6a6a"/><circle cx="124.4" cy="62.9" r="1.03" fill="#5a5a5a"/><circle cx="61.5" cy="76.4" r="0.62" fill="#2a2a2a"/><circle cx="24.2" cy="12.5" r="1.00" fill="#4a4a4a"/><circle cx="66.0" cy="8.0" r="0.86" fill="#3a3a3a"/><circle cx="97.6" cy="35.9" r="0.84" fill="#4a4a4a"/><circle cx="61.3" cy="25.6" r="1.03" fill="#3a3a3a"/><circle cx="13.5" cy="38.9" r="0.83" fill="#2a2a2a"/><circle cx="26.9" cy="63.4" r="1.05" fill="#4a4a4a"/><circle cx="127.9" cy="127.4" r="1.08" fill="#4a4a4a"/><circle cx="123.5" cy="56.1" r="1.12" fill="#5a5a5a"/><circle cx="68.9" cy="70.5" r="0.80" fill="#4a4a4a"/><circle cx="37.4" cy="60.2" r="1.09" fill="#4a4a4a"/><circle cx="97.9" cy="120.9" r="0.89" fill="#2a2a2a"/><circle cx="17.2" cy="69.0" r="0.89" fill="#3a3a3a"/><circle cx="124.5" cy="0.3" r="1.14" fill="#5a5a5a"/><circle cx="46.5" cy="125.5" r="0.80" fill="#6a6a6a"/><circle cx="4.6" cy="24.1" r="0.61" fill="#5a5a5a"/><circle cx="118.5" cy="108.6" r="0.93" fill="#2a2a2a"/><circle cx="59.0" cy="34.0" r="0.97" fill="#5a5a5a"/><circle cx="54.8" cy="33.8" r="0.62" fill="#5a5a5a"/><circle cx="4.9" cy="129.5" r="0.69" fill="#6a6a6a"/><circle cx="32.4" cy="17.6" r="1.02" fill="#5a5a5a"/><circle cx="66.7" cy="108.0" r="0.90" fill="#4a4a4a"/><circle cx="2.2" cy="5.9" r="0.87" fill="#2a2a2a"/><circle cx="117.5" cy="117.8" r="0.86" fill="#6a6a6a"/><circle cx="67.5" cy="48.2" r="0.95" fill="#4a4a4a"/><circle cx="24.0" cy="88.9" r="1.15" fill="#6a6a6a"/><circle cx="13.3" cy="100.6" r="0.84" fill="#4a4a4a"/><circle cx="105.2" cy="58.8" r="1.13" fill="#3a3a3a"/><circle cx="75.6" cy="18.2" r="0.62" fill="#5a5a5a"/><circle cx="111.5" cy="107.6" r="1.11" fill="#6a6a6a"/><circle cx="35.8" cy="41.1" r="0.93" fill="#2a2a2a"/><circle cx="63.9" cy="36.4" r="0.99" fill="#4a4a4a"/><circle cx="13.4" cy="86.9" r="0.80" fill="#6a6a6a"/><circle cx="63.8" cy="97.8" r="1.05" fill="#5a5a5a"/><circle cx="25.6" cy="119.7" r="0.70" fill="#5a5a5a"/><circle cx="123.3" cy="51.6" r="0.63" fill="#3a3a3a"/><circle cx="124.4" cy="122.7" r="0.77" fill="#5a5a5a"/><circle cx="72.7" cy="4.6" r="0.83" fill="#5a5a5a"/><circle cx="128.4" cy="10.3" r="0.73" fill="#3a3a3a"/><circle cx="96.6" cy="90.8" r="0.66" fill="#2a2a2a"/><circle cx="82.7" cy="106.3" r="0.60" fill="#4a4a4a"/><circle cx="127.6" cy="90.0" r="0.84" fill="#5a5a5a"/><circle cx="60.5" cy="37.6" r="0.91" fill="#3a3a3a"/><circle cx="30.9" cy="124.5" r="0.68" fill="#3a3a3a"/><circle cx="90.4" cy="60.8" r="0.82" fill="#2a2a2a"/><circle cx="18.6" cy="7.1" r="1.02" fill="#3a3a3a"/><circle cx="40.7" cy="84.3" r="0.67" fill="#3a3a3a"/><circle cx="6.4" cy="124.9" r="0.89" fill="#5a5a5a"/><circle cx="102.0" cy="56.3" r="0.70" fill="#2a2a2a"/><circle cx="36.8" cy="17.1" r="0.68" fill="#3a3a3a"/><circle cx="50.2" cy="121.9" r="0.93" fill="#3a3a3a"/><circle cx="1.0" cy="48.2" r="0.68" fill="#5a5a5a"/><circle cx="32.2" cy="46.1" r="1.12" fill="#5a5a5a"/><circle cx="13.6" cy="110.1" r="0.86" fill="#4a4a4a"/><circle cx="69.5" cy="111.0" r="0.84" fill="#5a5a5a"/><circle cx="60.8" cy="70.0" r="0.84" fill="#6a6a6a"/><circle cx="59.8" cy="49.9" r="1.02" fill="#4a4a4a"/><circle cx="122.2" cy="110.3" r="0.70" fill="#3a3a3a"/><circle cx="41.5" cy="109.2" r="0.67" fill="#6a6a6a"/><circle cx="128.2" cy="53.2" r="1.08" fill="#2a2a2a"/><circle cx="75.1" cy="20.5" r="0.67" fill="#5a5a5a"/><circle cx="129.9" cy="89.1" r="0.89" fill="#4a4a4a"/><circle cx="12.1" cy="70.2" r="0.84" fill="#3a3a3a"/><circle cx="77.4" cy="28.4" r="0.85" fill="#6a6a6a"/><circle cx="48.9" cy="41.4" r="0.80" fill="#6a6a6a"/><circle cx="101.0" cy="94.0" r="0.79" fill="#4a4a4a"/><circle cx="37.6" cy="127.0" r="0.75" fill="#2a2a2a"/><circle cx="78.9" cy="28.8" r="1.15" fill="#3a3a3a"/><circle cx="37.0" cy="125.7" r="0.85" fill="#5a5a5a"/><circle cx="43.8" cy="102.5" r="0.70" fill="#6a6a6a"/><circle cx="69.2" cy="57.4" r="0.94" fill="#2a2a2a"/><circle cx="54.7" cy="71.5" r="0.94" fill="#4a4a4a"/><circle cx="7.8" cy="111.1" r="0.81" fill="#2a2a2a"/><circle cx="48.0" cy="27.9" r="0.90" fill="#2a2a2a"/><circle cx="56.5" cy="112.8" r="0.99" fill="#4a4a4a"/><circle cx="1.6" cy="48.4" r="0.80" fill="#5a5a5a"/><circle cx="48.8" cy="84.7" r="1.08" fill="#6a6a6a"/><circle cx="64.9" cy="42.0" r="0.60" fill="#2a2a2a"/><circle cx="80.5" cy="18.1" r="0.64" fill="#4a4a4a"/><circle cx="57.0" cy="25.6" r="0.62" fill="#4a4a4a"/><circle cx="70.0" cy="95.9" r="1.06" fill="#3a3a3a"/><circle cx="57.8" cy="88.7" r="0.67" fill="#5a5a5a"/><circle cx="29.5" cy="18.1" r="0.77" fill="#6a6a6a"/><circle cx="24.9" cy="107.1" r="0.93" fill="#2a2a2a"/><circle cx="56.4" cy="103.5" r="0.81" fill="#5a5a5a"/><circle cx="109.0" cy="23.9" r="0.75" fill="#5a5a5a"/><circle cx="26.7" cy="82.7" r="0.92" fill="#4a4a4a"/><circle cx="57.1" cy="12.6" r="1.14" fill="#2a2a2a"/><circle cx="8.4" cy="114.0" r="1.01" fill="#4a4a4a"/><circle cx="8.6" cy="1.2" r="0.86" fill="#5a5a5a"/><circle cx="82.7" cy="12.2" r="0.96" fill="#5a5a5a"/><circle cx="115.5" cy="29.4" r="0.78" fill="#5a5a5a"/><circle cx="125.5" cy="6.7" r="0.88" fill="#6a6a6a"/><circle cx="68.6" cy="74.6" r="0.65" fill="#3a3a3a"/><circle cx="107.5" cy="107.2" r="1.11" fill="#5a5a5a"/><circle cx="37.3" cy="127.7" r="0.96" fill="#6a6a6a"/><circle cx="29.7" cy="74.5" r="0.79" fill="#6a6a6a"/><circle cx="17.4" cy="69.1" r="0.94" fill="#4a4a4a"/><circle cx="41.2" cy="111.8" r="0.92" fill="#6a6a6a"/><circle cx="26.7" cy="7.8" r="0.84" fill="#4a4a4a"/><circle cx="82.5" cy="64.2" r="1.07" fill="#3a3a3a"/><circle cx="107.8" cy="121.9" r="0.67" fill="#6a6a6a"/><circle cx="52.0" cy="27.6" r="0.70" fill="#2a2a2a"/><circle cx="42.8" cy="32.1" r="1.08" fill="#2a2a2a"/><circle cx="31.0" cy="47.7" r="0.72" fill="#4a4a4a"/><circle cx="32.8" cy="34.2" r="0.98" fill="#4a4a4a"/><circle cx="95.9" cy="27.0" r="0.77" fill="#3a3a3a"/><circle cx="74.0" cy="31.9" r="0.98" fill="#3a3a3a"/><circle cx="106.2" cy="47.4" r="0.73" fill="#6a6a6a"/><circle cx="51.6" cy="70.1" r="0.93" fill="#4a4a4a"/><circle cx="57.9" cy="7.3" r="1.03" fill="#5a5a5a"/><circle cx="64.2" cy="75.3" r="0.75" fill="#5a5a5a"/><circle cx="89.8" cy="28.8" r="1.05" fill="#5a5a5a"/><circle cx="45.3" cy="129.4" r="0.87" fill="#3a3a3a"/><circle cx="15.0" cy="54.5" r="1.08" fill="#3a3a3a"/><circle cx="76.4" cy="14.0" r="0.89" fill="#4a4a4a"/><circle cx="62.6" cy="70.1" r="1.07" fill="#5a5a5a"/><circle cx="49.1" cy="5.4" r="0.79" fill="#3a3a3a"/><circle cx="81.7" cy="91.3" r="1.14" fill="#6a6a6a"/><circle cx="39.7" cy="116.0" r="1.09" fill="#6a6a6a"/><circle cx="42.4" cy="53.3" r="1.11" fill="#4a4a4a"/><circle cx="121.0" cy="55.0" r="0.91" fill="#4a4a4a"/><circle cx="55.4" cy="48.1" r="0.70" fill="#4a4a4a"/><circle cx="91.4" cy="73.1" r="0.81" fill="#2a2a2a"/><circle cx="42.4" cy="21.1" r="1.10" fill="#5a5a5a"/><circle cx="22.6" cy="51.3" r="0.71" fill="#5a5a5a"/><circle cx="72.4" cy="47.5" r="1.00" fill="#6a6a6a"/><circle cx="63.2" cy="26.2" r="0.88" fill="#3a3a3a"/><circle cx="15.6" cy="71.8" r="0.66" fill="#5a5a5a"/><circle cx="113.8" cy="67.0" r="0.82" fill="#2a2a2a"/><circle cx="62.8" cy="88.9" r="0.73" fill="#4a4a4a"/><circle cx="15.4" cy="123.2" r="0.86" fill="#5a5a5a"/><circle cx="19.3" cy="48.0" r="0.97" fill="#4a4a4a"/><circle cx="74.8" cy="66.4" r="0.71" fill="#3a3a3a"/><circle cx="32.4" cy="33.6" r="0.79" fill="#4a4a4a"/><circle cx="118.3" cy="12.8" r="0.99" fill="#2a2a2a"/><circle cx="29.5" cy="59.4" r="1.14" fill="#4a4a4a"/><circle cx="108.5" cy="18.4" r="0.62" fill="#5a5a5a"/><circle cx="35.3" cy="66.1" r="0.80" fill="#5a5a5a"/><circle cx="97.6" cy="65.5" r="0.98" fill="#5a5a5a"/><circle cx="128.1" cy="55.9" r="0.76" fill="#4a4a4a"/><circle cx="76.7" cy="50.4" r="0.63" fill="#3a3a3a"/><circle cx="56.5" cy="0.2" r="1.03" fill="#3a3a3a"/><circle cx="66.1" cy="123.9" r="1.07" fill="#4a4a4a"/><circle cx="33.7" cy="81.7" r="0.91" fill="#4a4a4a"/><circle cx="26.6" cy="20.6" r="1.14" fill="#2a2a2a"/><circle cx="63.5" cy="96.0" r="0.68" fill="#6a6a6a"/><circle cx="44.1" cy="105.9" r="1.00" fill="#4a4a4a"/><circle cx="17.9" cy="81.2" r="1.09" fill="#3a3a3a"/><circle cx="12.5" cy="90.7" r="0.95" fill="#6a6a6a"/><circle cx="51.2" cy="59.3" r="1.15" fill="#6a6a6a"/><circle cx="58.0" cy="22.9" r="1.05" fill="#2a2a2a"/><circle cx="36.9" cy="90.8" r="0.69" fill="#2a2a2a"/><circle cx="44.1" cy="94.4" r="1.06" fill="#4a4a4a"/><circle cx="13.3" cy="104.3" r="0.81" fill="#6a6a6a"/><circle cx="58.3" cy="86.8" r="0.78" fill="#3a3a3a"/><circle cx="57.8" cy="30.8" r="0.60" fill="#3a3a3a"/><circle cx="30.1" cy="54.1" r="0.65" fill="#4a4a4a"/><circle cx="128.5" cy="14.9" r="0.97" fill="#3a3a3a"/><circle cx="38.0" cy="3.2" r="0.61" fill="#4a4a4a"/><circle cx="29.3" cy="59.0" r="0.88" fill="#6a6a6a"/><circle cx="50.0" cy="116.8" r="0.72" fill="#6a6a6a"/><circle cx="55.9" cy="40.1" r="0.63" fill="#5a5a5a"/><circle cx="65.5" cy="13.0" r="1.11" fill="#6a6a6a"/><circle cx="123.0" cy="19.2" r="0.89" fill="#4a4a4a"/><circle cx="130.9" cy="21.9" r="0.80" fill="#4a4a4a"/><circle cx="16.0" cy="64.9" r="0.86" fill="#3a3a3a"/><circle cx="97.0" cy="100.1" r="0.61" fill="#2a2a2a"/><circle cx="62.0" cy="0.6" r="0.99" fill="#5a5a5a"/><circle cx="118.6" cy="6.2" r="0.97" fill="#4a4a4a"/><circle cx="107.0" cy="63.9" r="1.03" fill="#3a3a3a"/><circle cx="40.5" cy="73.2" r="0.82" fill="#2a2a2a"/><circle cx="14.9" cy="88.5" r="0.73" fill="#3a3a3a"/><circle cx="97.6" cy="69.0" r="1.02" fill="#6a6a6a"/><circle cx="18.2" cy="21.4" r="1.13" fill="#4a4a4a"/><circle cx="67.1" cy="125.1" r="0.60" fill="#2a2a2a"/><circle cx="47.5" cy="65.0" r="0.65" fill="#4a4a4a"/><circle cx="73.4" cy="50.8" r="0.86" fill="#6a6a6a"/><circle cx="122.9" cy="42.0" r="0.86" fill="#4a4a4a"/><circle cx="103.1" cy="97.2" r="0.71" fill="#2a2a2a"/><circle cx="85.2" cy="96.7" r="1.13" fill="#5a5a5a"/><circle cx="98.7" cy="93.6" r="0.93" fill="#3a3a3a"/><circle cx="130.7" cy="6.3" r="0.82" fill="#5a5a5a"/><circle cx="23.8" cy="12.7" r="0.70" fill="#6a6a6a"/><circle cx="59.2" cy="56.1" r="0.83" fill="#6a6a6a"/><circle cx="44.6" cy="56.0" r="0.62" fill="#5a5a5a"/><circle cx="47.6" cy="94.3" r="0.75" fill="#3a3a3a"/><circle cx="18.1" cy="114.3" r="1.02" fill="#2a2a2a"/><circle cx="84.1" cy="94.6" r="0.66" fill="#5a5a5a"/><circle cx="62.7" cy="49.2" r="0.88" fill="#5a5a5a"/><circle cx="80.3" cy="61.7" r="0.63" fill="#6a6a6a"/><circle cx="93.7" cy="119.0" r="0.71" fill="#2a2a2a"/><circle cx="128.3" cy="17.9" r="1.03" fill="#2a2a2a"/><circle cx="16.0" cy="77.3" r="1.12" fill="#4a4a4a"/><circle cx="72.0" cy="16.7" r="0.83" fill="#3a3a3a"/><circle cx="20.7" cy="89.8" r="0.94" fill="#5a5a5a"/><circle cx="41.4" cy="57.6" r="1.11" fill="#4a4a4a"/><circle cx="72.0" cy="76.8" r="0.79" fill="#6a6a6a"/><circle cx="50.5" cy="126.9" r="0.76" fill="#2a2a2a"/><circle cx="27.1" cy="50.6" r="1.07" fill="#4a4a4a"/><circle cx="30.0" cy="117.1" r="0.78" fill="#4a4a4a"/><circle cx="101.4" cy="108.3" r="0.71" fill="#5a5a5a"/><circle cx="0.2" cy="83.8" r="1.05" fill="#3a3a3a"/><circle cx="122.3" cy="97.9" r="1.05" fill="#2a2a2a"/><circle cx="103.6" cy="44.7" r="0.76" fill="#4a4a4a"/><circle cx="126.9" cy="117.7" r="1.10" fill="#6a6a6a"/><circle cx="102.3" cy="59.1" r="0.74" fill="#6a6a6a"/><circle cx="118.5" cy="34.5" r="0.76" fill="#6a6a6a"/><circle cx="26.3" cy="119.9" r="0.77" fill="#2a2a2a"/><circle cx="14.0" cy="116.8" r="0.82" fill="#4a4a4a"/><circle cx="104.1" cy="101.2" r="0.73" fill="#2a2a2a"/><circle cx="79.6" cy="15.9" r="0.70" fill="#4a4a4a"/><circle cx="45.0" cy="22.0" r="0.78" fill="#2a2a2a"/><circle cx="102.1" cy="79.0" r="0.64" fill="#4a4a4a"/><circle cx="72.8" cy="2.6" r="0.84" fill="#5a5a5a"/><circle cx="130.8" cy="21.9" r="0.60" fill="#3a3a3a"/><circle cx="48.4" cy="111.0" r="0.75" fill="#6a6a6a"/><circle cx="25.9" cy="59.9" r="0.86" fill="#4a4a4a"/><circle cx="95.9" cy="121.4" r="0.78" fill="#6a6a6a"/><circle cx="64.9" cy="58.7" r="0.86" fill="#4a4a4a"/><circle cx="24.4" cy="127.6" r="0.66" fill="#3a3a3a"/><circle cx="22.9" cy="103.4" r="0.74" fill="#2a2a2a"/><circle cx="47.5" cy="0.6" r="0.72" fill="#4a4a4a"/><circle cx="114.9" cy="127.4" r="0.63" fill="#5a5a5a"/><circle cx="21.6" cy="83.3" r="0.88" fill="#4a4a4a"/><circle cx="97.5" cy="103.4" r="1.15" fill="#5a5a5a"/><circle cx="114.7" cy="71.3" r="0.64" fill="#2a2a2a"/><circle cx="87.2" cy="26.2" r="0.66" fill="#2a2a2a"/><circle cx="86.8" cy="3.7" r="0.72" fill="#5a5a5a"/><circle cx="4.9" cy="66.4" r="1.12" fill="#3a3a3a"/><circle cx="42.7" cy="57.9" r="1.14" fill="#4a4a4a"/><circle cx="100.4" cy="90.8" r="0.61" fill="#3a3a3a"/><circle cx="92.0" cy="84.0" r="0.61" fill="#6a6a6a"/><circle cx="57.0" cy="91.2" r="0.79" fill="#6a6a6a"/><circle cx="68.4" cy="87.0" r="0.68" fill="#4a4a4a"/><circle cx="112.6" cy="36.6" r="0.73" fill="#3a3a3a"/><circle cx="71.4" cy="43.4" r="1.04" fill="#3a3a3a"/><circle cx="68.2" cy="90.8" r="0.77" fill="#4a4a4a"/><circle cx="45.2" cy="97.6" r="0.69" fill="#4a4a4a"/><circle cx="9.6" cy="120.6" r="1.00" fill="#6a6a6a"/><circle cx="59.7" cy="125.5" r="0.88" fill="#3a3a3a"/><circle cx="120.7" cy="81.4" r="0.60" fill="#4a4a4a"/><circle cx="57.7" cy="7.1" r="0.95" fill="#6a6a6a"/><circle cx="86.5" cy="78.2" r="0.94" fill="#5a5a5a"/><circle cx="70.1" cy="96.8" r="1.03" fill="#3a3a3a"/><circle cx="111.0" cy="129.8" r="0.65" fill="#2a2a2a"/><circle cx="106.5" cy="101.8" r="0.82" fill="#3a3a3a"/><circle cx="26.5" cy="34.1" r="0.67" fill="#6a6a6a"/><circle cx="118.8" cy="34.0" r="1.15" fill="#3a3a3a"/><circle cx="81.9" cy="30.9" r="0.97" fill="#2a2a2a"/><circle cx="37.9" cy="85.8" r="1.05" fill="#2a2a2a"/><circle cx="0.2" cy="57.1" r="0.87" fill="#2a2a2a"/><circle cx="119.5" cy="82.8" r="1.03" fill="#3a3a3a"/><circle cx="81.9" cy="76.0" r="0.87" fill="#6a6a6a"/><circle cx="62.4" cy="31.3" r="0.71" fill="#2a2a2a"/><circle cx="47.6" cy="69.8" r="0.79" fill="#2a2a2a"/><circle cx="23.5" cy="61.6" r="0.78" fill="#3a3a3a"/><circle cx="111.5" cy="75.5" r="0.73" fill="#6a6a6a"/><circle cx="83.1" cy="8.1" r="1.01" fill="#3a3a3a"/><circle cx="88.9" cy="41.5" r="0.91" fill="#6a6a6a"/><circle cx="32.6" cy="112.1" r="1.05" fill="#6a6a6a"/><circle cx="49.3" cy="59.1" r="0.97" fill="#5a5a5a"/><circle cx="7.6" cy="119.7" r="1.06" fill="#6a6a6a"/><circle cx="10.6" cy="119.4" r="0.83" fill="#4a4a4a"/><circle cx="16.1" cy="23.5" r="1.04" fill="#2a2a2a"/><circle cx="53.3" cy="5.7" r="0.98" fill="#5a5a5a"/><circle cx="99.5" cy="89.3" r="1.06" fill="#2a2a2a"/><circle cx="124.2" cy="122.4" r="0.70" fill="#4a4a4a"/><circle cx="115.2" cy="96.2" r="1.11" fill="#6a6a6a"/><circle cx="46.7" cy="66.0" r="1.01" fill="#5a5a5a"/><circle cx="48.5" cy="46.2" r="0.94" fill="#3a3a3a"/><circle cx="47.6" cy="95.7" r="0.73" fill="#3a3a3a"/><circle cx="63.6" cy="25.4" r="0.91" fill="#5a5a5a"/><circle cx="128.4" cy="98.7" r="0.89" fill="#5a5a5a"/><circle cx="115.8" cy="21.5" r="1.06" fill="#4a4a4a"/><circle cx="129.8" cy="98.8" r="0.82" fill="#3a3a3a"/><circle cx="49.5" cy="13.8" r="1.08" fill="#6a6a6a"/><circle cx="47.4" cy="103.0" r="0.74" fill="#5a5a5a"/><circle cx="84.5" cy="100.6" r="0.68" fill="#4a4a4a"/><circle cx="67.7" cy="37.1" r="1.14" fill="#6a6a6a"/><circle cx="99.4" cy="36.2" r="0.71" fill="#5a5a5a"/><circle cx="85.5" cy="27.8" r="1.00" fill="#6a6a6a"/><circle cx="30.6" cy="113.2" r="0.74" fill="#3a3a3a"/><circle cx="85.0" cy="97.7" r="1.14" fill="#2a2a2a"/><circle cx="67.3" cy="124.4" r="0.61" fill="#6a6a6a"/><circle cx="54.1" cy="110.3" r="1.12" fill="#6a6a6a"/><circle cx="71.6" cy="122.0" r="0.77" fill="#4a4a4a"/><circle cx="16.4" cy="68.3" r="0.74" fill="#3a3a3a"/><circle cx="105.4" cy="61.5" r="1.02" fill="#5a5a5a"/><circle cx="34.2" cy="31.2" r="0.97" fill="#6a6a6a"/><circle cx="100.1" cy="98.8" r="0.65" fill="#4a4a4a"/><circle cx="1.6" cy="73.5" r="0.87" fill="#2a2a2a"/><circle cx="73.2" cy="56.3" r="0.66" fill="#5a5a5a"/><circle cx="41.2" cy="105.9" r="0.80" fill="#6a6a6a"/><circle cx="52.5" cy="10.1" r="1.13" fill="#2a2a2a"/><circle cx="89.3" cy="56.9" r="1.00" fill="#4a4a4a"/><circle cx="71.3" cy="111.7" r="0.92" fill="#4a4a4a"/><circle cx="36.4" cy="83.1" r="0.74" fill="#4a4a4a"/><circle cx="113.3" cy="6.4" r="0.64" fill="#6a6a6a"/><circle cx="0.2" cy="25.5" r="0.72" fill="#2a2a2a"/><circle cx="26.3" cy="22.0" r="1.02" fill="#3a3a3a"/><circle cx="51.7" cy="65.4" r="0.61" fill="#2a2a2a"/><circle cx="107.4" cy="26.9" r="1.03" fill="#5a5a5a"/><circle cx="102.2" cy="14.2" r="0.65" fill="#2a2a2a"/><circle cx="73.5" cy="39.4" r="1.06" fill="#3a3a3a"/><circle cx="24.0" cy="23.9" r="0.98" fill="#2a2a2a"/><circle cx="115.9" cy="65.0" r="0.68" fill="#3a3a3a"/><circle cx="29.5" cy="63.0" r="0.82" fill="#2a2a2a"/><circle cx="115.8" cy="30.0" r="0.77" fill="#4a4a4a"/><circle cx="115.3" cy="83.3" r="0.69" fill="#6a6a6a"/><circle cx="3.4" cy="14.3" r="1.03" fill="#2a2a2a"/><circle cx="112.2" cy="108.9" r="0.91" fill="#4a4a4a"/><circle cx="91.4" cy="72.5" r="0.83" fill="#2a2a2a"/><circle cx="38.6" cy="56.9" r="0.88" fill="#3a3a3a"/><circle cx="15.9" cy="126.2" r="0.92" fill="#6a6a6a"/><circle cx="116.9" cy="29.4" r="1.09" fill="#6a6a6a"/><circle cx="35.0" cy="16.3" r="1.04" fill="#5a5a5a"/><circle cx="3.5" cy="50.2" r="1.06" fill="#6a6a6a"/><circle cx="54.9" cy="96.8" r="0.65" fill="#5a5a5a"/><circle cx="3.9" cy="126.1" r="0.73" fill="#6a6a6a"/><circle cx="107.2" cy="124.1" r="0.86" fill="#5a5a5a"/><circle cx="38.3" cy="108.3" r="0.66" fill="#4a4a4a"/><circle cx="77.6" cy="8.0" r="1.12" fill="#4a4a4a"/><circle cx="4.6" cy="23.3" r="0.67" fill="#4a4a4a"/><circle cx="90.0" cy="80.7" r="0.86" fill="#2a2a2a"/><circle cx="111.9" cy="106.9" r="0.99" fill="#5a5a5a"/><circle cx="6.6" cy="44.7" r="1.06" fill="#4a4a4a"/><circle cx="26.7" cy="96.2" r="0.78" fill="#6a6a6a"/><circle cx="39.2" cy="97.1" r="0.81" fill="#5a5a5a"/><circle cx="33.6" cy="89.5" r="0.72" fill="#6a6a6a"/><circle cx="126.4" cy="50.6" r="1.13" fill="#6a6a6a"/><circle cx="114.5" cy="94.8" r="0.90" fill="#4a4a4a"/><circle cx="89.4" cy="25.4" r="0.88" fill="#6a6a6a"/><circle cx="51.6" cy="124.0" r="0.95" fill="#4a4a4a"/><circle cx="104.1" cy="105.6" r="0.68" fill="#6a6a6a"/><circle cx="0.3" cy="22.4" r="1.14" fill="#4a4a4a"/><circle cx="96.7" cy="53.9" r="1.04" fill="#5a5a5a"/><circle cx="67.2" cy="39.2" r="0.82" fill="#5a5a5a"/><circle cx="103.5" cy="39.4" r="0.99" fill="#6a6a6a"/><circle cx="80.8" cy="41.0" r="0.66" fill="#5a5a5a"/><circle cx="79.9" cy="33.8" r="0.86" fill="#2a2a2a"/><circle cx="130.8" cy="59.0" r="0.91" fill="#6a6a6a"/><circle cx="113.5" cy="21.1" r="0.66" fill="#5a5a5a"/><circle cx="93.7" cy="27.5" r="0.84" fill="#2a2a2a"/><circle cx="96.6" cy="75.9" r="0.76" fill="#4a4a4a"/><circle cx="9.7" cy="77.0" r="0.70" fill="#2a2a2a"/><circle cx="5.5" cy="53.5" r="0.81" fill="#5a5a5a"/><circle cx="112.9" cy="55.9" r="0.61" fill="#2a2a2a"/><circle cx="49.4" cy="112.9" r="0.85" fill="#3a3a3a"/><circle cx="23.3" cy="91.0" r="0.70" fill="#4a4a4a"/><circle cx="14.8" cy="74.1" r="1.10" fill="#4a4a4a"/><circle cx="82.0" cy="40.2" r="0.95" fill="#6a6a6a"/><circle cx="36.6" cy="42.8" r="0.60" fill="#5a5a5a"/><circle cx="93.5" cy="127.2" r="0.62" fill="#4a4a4a"/><circle cx="123.4" cy="1.0" r="0.74" fill="#4a4a4a"/><circle cx="76.1" cy="9.0" r="0.95" fill="#2a2a2a"/><circle cx="49.3" cy="2.5" r="0.85" fill="#6a6a6a"/><circle cx="17.9" cy="52.4" r="0.68" fill="#6a6a6a"/><circle cx="12.5" cy="9.6" r="0.66" fill="#2a2a2a"/><circle cx="32.4" cy="42.0" r="0.85" fill="#6a6a6a"/><circle cx="6.1" cy="29.4" r="0.64" fill="#2a2a2a"/><circle cx="62.3" cy="112.1" r="0.73" fill="#3a3a3a"/><circle cx="109.7" cy="107.7" r="0.69" fill="#4a4a4a"/><circle cx="48.9" cy="43.3" r="0.66" fill="#3a3a3a"/><circle cx="58.0" cy="44.5" r="0.70" fill="#3a3a3a"/><circle cx="12.3" cy="124.5" r="0.86" fill="#4a4a4a"/><circle cx="81.8" cy="67.7" r="0.88" fill="#5a5a5a"/><circle cx="8.7" cy="13.5" r="0.64" fill="#6a6a6a"/><circle cx="31.6" cy="41.1" r="0.95" fill="#3a3a3a"/><circle cx="22.4" cy="81.4" r="1.06" fill="#6a6a6a"/><circle cx="68.8" cy="91.4" r="1.07" fill="#3a3a3a"/><circle cx="45.0" cy="128.5" r="1.04" fill="#3a3a3a"/><circle cx="9.9" cy="110.7" r="0.82" fill="#2a2a2a"/><circle cx="32.2" cy="36.5" r="0.77" fill="#4a4a4a"/><circle cx="59.5" cy="117.2" r="0.78" fill="#4a4a4a"/><circle cx="44.1" cy="74.7" r="0.91" fill="#2a2a2a"/><circle cx="112.5" cy="91.9" r="0.71" fill="#4a4a4a"/><circle cx="75.8" cy="62.8" r="0.91" fill="#4a4a4a"/><circle cx="93.1" cy="90.0" r="1.13" fill="#2a2a2a"/><circle cx="62.4" cy="15.2" r="0.87" fill="#3a3a3a"/><circle cx="44.4" cy="19.4" r="0.78" fill="#6a6a6a"/><circle cx="35.9" cy="118.6" r="0.77" fill="#4a4a4a"/><circle cx="23.4" cy="57.7" r="0.67" fill="#3a3a3a"/><circle cx="41.3" cy="128.2" r="0.93" fill="#6a6a6a"/><circle cx="28.4" cy="40.4" r="0.78" fill="#2a2a2a"/><circle cx="103.6" cy="30.3" r="1.14" fill="#2a2a2a"/><circle cx="33.5" cy="129.6" r="0.66" fill="#3a3a3a"/><circle cx="67.5" cy="63.4" r="0.74" fill="#4a4a4a"/><circle cx="37.0" cy="37.1" r="1.04" fill="#2a2a2a"/><circle cx="117.9" cy="15.4" r="0.83" fill="#6a6a6a"/><circle cx="124.2" cy="93.9" r="0.69" fill="#6a6a6a"/><circle cx="59.3" cy="35.5" r="0.94" fill="#2a2a2a"/><circle cx="51.6" cy="1.4" r="1.06" fill="#6a6a6a"/><circle cx="35.8" cy="85.6" r="0.74" fill="#4a4a4a"/><circle cx="2.3" cy="96.1" r="0.70" fill="#3a3a3a"/><circle cx="79.6" cy="9.7" r="0.60" fill="#5a5a5a"/><circle cx="125.7" cy="125.7" r="1.02" fill="#3a3a3a"/><circle cx="12.1" cy="99.8" r="0.95" fill="#6a6a6a"/><circle cx="45.5" cy="27.6" r="0.73" fill="#6a6a6a"/><circle cx="77.7" cy="78.2" r="0.96" fill="#2a2a2a"/><circle cx="97.6" cy="64.7" r="0.98" fill="#3a3a3a"/><circle cx="125.6" cy="98.4" r="0.79" fill="#2a2a2a"/><circle cx="32.9" cy="69.2" r="0.77" fill="#6a6a6a"/><circle cx="12.8" cy="75.0" r="0.74" fill="#6a6a6a"/><circle cx="12.4" cy="57.8" r="0.76" fill="#5a5a5a"/><circle cx="11.1" cy="36.4" r="0.63" fill="#5a5a5a"/><circle cx="36.3" cy="29.2" r="1.14" fill="#4a4a4a"/><circle cx="20.2" cy="31.2" r="0.71" fill="#4a4a4a"/><circle cx="8.2" cy="2.0" r="0.91" fill="#6a6a6a"/><circle cx="55.8" cy="86.0" r="1.05" fill="#5a5a5a"/><circle cx="91.5" cy="49.0" r="0.80" fill="#6a6a6a"/><circle cx="6.9" cy="66.8" r="0.88" fill="#3a3a3a"/><circle cx="76.7" cy="19.8" r="0.77" fill="#2a2a2a"/><circle cx="25.2" cy="37.0" r="0.89" fill="#5a5a5a"/><circle cx="33.9" cy="123.7" r="0.99" fill="#2a2a2a"/><circle cx="66.1" cy="78.0" r="0.65" fill="#6a6a6a"/><circle cx="85.1" cy="107.9" r="0.84" fill="#2a2a2a"/><circle cx="17.2" cy="90.5" r="0.79" fill="#2a2a2a"/><circle cx="23.0" cy="16.8" r="0.94" fill="#6a6a6a"/><circle cx="128.1" cy="72.2" r="0.97" fill="#5a5a5a"/><circle cx="39.9" cy="27.0" r="0.90" fill="#6a6a6a"/><circle cx="40.1" cy="82.7" r="1.03" fill="#4a4a4a"/><circle cx="90.0" cy="69.6" r="0.98" fill="#3a3a3a"/><circle cx="49.0" cy="47.1" r="0.76" fill="#4a4a4a"/><circle cx="96.0" cy="54.4" r="0.80" fill="#5a5a5a"/><circle cx="12.8" cy="113.8" r="0.84" fill="#5a5a5a"/><circle cx="59.2" cy="110.6" r="0.89" fill="#4a4a4a"/><circle cx="38.3" cy="60.6" r="0.62" fill="#4a4a4a"/><circle cx="20.8" cy="118.2" r="0.63" fill="#2a2a2a"/><circle cx="111.1" cy="48.6" r="0.89" fill="#6a6a6a"/><circle cx="120.2" cy="95.0" r="0.60" fill="#2a2a2a"/><circle cx="112.6" cy="26.6" r="0.92" fill="#5a5a5a"/><circle cx="39.8" cy="97.4" r="0.81" fill="#6a6a6a"/><circle cx="105.2" cy="51.8" r="0.80" fill="#3a3a3a"/><circle cx="83.6" cy="64.4" r="0.97" fill="#3a3a3a"/><circle cx="65.9" cy="102.6" r="0.72" fill="#2a2a2a"/><circle cx="121.8" cy="34.2" r="1.03" fill="#4a4a4a"/><circle cx="86.1" cy="17.3" r="1.05" fill="#2a2a2a"/><circle cx="55.1" cy="49.2" r="0.86" fill="#3a3a3a"/><circle cx="5.9" cy="11.8" r="0.74" fill="#3a3a3a"/><circle cx="97.4" cy="116.5" r="1.01" fill="#3a3a3a"/><circle cx="108.6" cy="122.9" r="0.97" fill="#2a2a2a"/><circle cx="107.4" cy="92.4" r="1.02" fill="#5a5a5a"/><circle cx="43.5" cy="77.7" r="0.67" fill="#6a6a6a"/><circle cx="35.7" cy="76.7" r="0.75" fill="#3a3a3a"/><circle cx="89.1" cy="72.8" r="1.08" fill="#6a6a6a"/><circle cx="113.8" cy="114.0" r="0.86" fill="#6a6a6a"/><circle cx="10.1" cy="120.9" r="0.95" fill="#2a2a2a"/><circle cx="106.6" cy="0.3" r="1.10" fill="#4a4a4a"/><circle cx="113.5" cy="40.9" r="0.93" fill="#3a3a3a"/><circle cx="39.5" cy="36.1" r="0.74" fill="#6a6a6a"/><circle cx="59.7" cy="20.2" r="0.80" fill="#6a6a6a"/><circle cx="32.4" cy="107.2" r="0.65" fill="#6a6a6a"/><circle cx="83.9" cy="104.2" r="0.77" fill="#3a3a3a"/><circle cx="69.4" cy="3.0" r="0.65" fill="#6a6a6a"/><circle cx="113.6" cy="94.2" r="0.88" fill="#6a6a6a"/><circle cx="79.6" cy="124.4" r="0.63" fill="#3a3a3a"/><circle cx="72.8" cy="64.0" r="0.83" fill="#6a6a6a"/><circle cx="45.9" cy="30.9" r="1.00" fill="#6a6a6a"/><circle cx="52.5" cy="96.8" r="1.05" fill="#5a5a5a"/><circle cx="25.9" cy="28.4" r="0.86" fill="#2a2a2a"/><circle cx="48.7" cy="48.2" r="1.06" fill="#2a2a2a"/><circle cx="44.8" cy="14.1" r="0.89" fill="#5a5a5a"/><circle cx="24.9" cy="76.0" r="0.90" fill="#4a4a4a"/><circle cx="55.6" cy="126.5" r="0.97" fill="#6a6a6a"/><circle cx="53.0" cy="24.2" r="1.12" fill="#6a6a6a"/><circle cx="51.7" cy="90.9" r="1.10" fill="#2a2a2a"/><circle cx="9.5" cy="70.9" r="1.09" fill="#2a2a2a"/><circle cx="14.8" cy="109.5" r="0.87" fill="#4a4a4a"/><circle cx="100.8" cy="35.4" r="0.72" fill="#2a2a2a"/><circle cx="128.3" cy="104.7" r="0.92" fill="#6a6a6a"/><circle cx="98.0" cy="126.0" r="0.88" fill="#6a6a6a"/><circle cx="37.8" cy="107.5" r="1.12" fill="#6a6a6a"/></g>
<g fill="#1e1e1e" filter="url(#fc2)"><circle cx="22.3" cy="34.4" r="1.90"/><circle cx="33.4" cy="22.3" r="1.40"/><circle cx="44.6" cy="29.7" r="1.50"/><circle cx="52.0" cy="26.0" r="1.50"/><circle cx="39.9" cy="26.9" r="1.10"/><circle cx="17.6" cy="44.6" r="1.30"/><circle cx="26.9" cy="38.1" r="1.10"/><circle cx="42.7" cy="57.6" r="1.90"/><circle cx="50.1" cy="15.8" r="1.30"/><circle cx="11.1" cy="7.4" r="1.10"/><circle cx="28.8" cy="13.0" r="1.10"/><circle cx="5.6" cy="27.9" r="1.10"/><circle cx="1.9" cy="37.1" r="1.10"/><circle cx="32.5" cy="50.1" r="1.10"/><circle cx="47.4" cy="38.1" r="1.30"/><circle cx="55.7" cy="18.6" r="1.10"/><circle cx="59.4" cy="5.6" r="1.10"/><circle cx="21.4" cy="2.8" r="1.00"/><circle cx="41.4" cy="57.9" r="1.70"/><circle cx="55.0" cy="66.4" r="2.00"/><circle cx="75.7" cy="59.3" r="2.00"/><circle cx="52.9" cy="44.3" r="2.00"/><circle cx="51.4" cy="26.4" r="1.80"/><circle cx="74.3" cy="27.1" r="1.50"/><circle cx="44.3" cy="30.7" r="1.30"/><circle cx="74.3" cy="26.9" r="1.50"/><circle cx="89.1" cy="28.8" r="1.10"/><circle cx="115.1" cy="38.1" r="1.50"/><circle cx="93.8" cy="44.6" r="1.50"/><circle cx="83.6" cy="13.9" r="1.10"/><circle cx="95.6" cy="2.8" r="1.30"/><circle cx="102.1" cy="17.6" r="1.30"/><circle cx="71.5" cy="42.7" r="1.30"/><circle cx="109.6" cy="48.3" r="1.10"/><circle cx="120.7" cy="52.0" r="1.50"/><circle cx="126.3" cy="61.3" r="1.50"/><circle cx="102.1" cy="57.6" r="1.10"/><circle cx="117.0" cy="59.4" r="1.30"/><circle cx="86.4" cy="53.9" r="1.10"/><circle cx="76.1" cy="11.1" r="1.10"/><circle cx="68.7" cy="15.8" r="1.10"/><circle cx="111.4" cy="26.0" r="1.10"/><circle cx="128.1" cy="5.6" r="1.10"/><circle cx="111.4" cy="5.6" r="1.10"/><circle cx="97.5" cy="35.3" r="1.10"/><circle cx="82.6" cy="39.9" r="1.10"/><circle cx="6.5" cy="84.5" r="1.60"/><circle cx="59.8" cy="108.1" r="1.80"/><circle cx="22.3" cy="118.9" r="2.60"/><circle cx="48.3" cy="93.8" r="1.50"/><circle cx="13.0" cy="104.0" r="1.30"/><circle cx="8.4" cy="98.4" r="1.30"/><circle cx="3.7" cy="115.1" r="1.10"/><circle cx="20.4" cy="92.9" r="1.30"/><circle cx="27.9" cy="82.6" r="1.10"/><circle cx="55.7" cy="117.0" r="1.30"/><circle cx="61.3" cy="120.7" r="1.10"/><circle cx="33.4" cy="75.2" r="1.10"/><circle cx="16.7" cy="74.3" r="1.30"/><circle cx="11.1" cy="68.7" r="1.10"/><circle cx="55.7" cy="97.5" r="1.10"/><circle cx="39.9" cy="104.0" r="1.10"/><circle cx="27.9" cy="111.4" r="1.10"/><circle cx="17.6" cy="124.4" r="1.10"/><circle cx="50.1" cy="126.3" r="1.10"/><circle cx="118.9" cy="73.4" r="1.50"/><circle cx="125.4" cy="83.6" r="1.10"/><circle cx="107.7" cy="91.0" r="1.10"/><circle cx="72.4" cy="117.0" r="1.50"/><circle cx="81.7" cy="126.3" r="1.10"/><circle cx="120.7" cy="126.3" r="1.50"/><circle cx="68.7" cy="126.3" r="1.30"/><circle cx="107.7" cy="68.7" r="1.10"/><circle cx="115.1" cy="76.1" r="1.10"/><circle cx="92.9" cy="79.9" r="1.10"/><circle cx="126.3" cy="120.7" r="1.10"/></g>
<path d="M86.0 66.5 C86.9 65.4 90.9 65.5 92.0 66.5 C93.1 67.5 93.4 71.4 92.5 72.5 C91.6 73.6 87.6 74.0 86.5 73.0 C85.4 72.0 85.1 67.6 86.0 66.5Z" fill="#111" filter="url(#fc3)"/>
<ellipse cx="129.5" cy="109.6" rx="5.0" ry="6.0" fill="#000" opacity="0.40" filter="url(#fc4)"/>
<g fill="#1e1e1e" filter="url(#fc5)"><circle cx="129.5" cy="109.6" r="3.80"/></g>
<rect x="-50" y="-50" width="300" height="300" fill="#e47474" opacity="0.90" mask="url(#mc6)"/>
<rect x="-50" y="-50" width="300" height="300" fill="#d070a0" opacity="0.30" mask="url(#mc7)" style="mix-blend-mode:multiply"/>
<rect x="-50" y="-50" width="300" height="300" fill="#b4b4f6" opacity="0.18" mask="url(#mc8)" style="mix-blend-mode:multiply"/>
<rect x="-50" y="-50" width="300" height="300" fill="#7070ee" opacity="0.75" mask="url(#mc9)"/>
<rect x="-50" y="-50" width="300" height="300" fill="#e4e450" opacity="0.95" mask="url(#mc10)"/>
<rect x="-50" y="-50" width="300" height="300" fill="#e4e450" opacity="0.95" mask="url(#mc11)"/>
<rect x="-50" y="-50" width="300" height="300" fill="#7070ee" opacity="0.70" mask="url(#mc12)"/>
<rect x="-50" y="-50" width="300" height="300" fill="#f0e040" opacity="0.50" mask="url(#mc13)" style="mix-blend-mode:multiply"/>
<rect x="-50" y="-50" width="300" height="300" fill="#e47474" opacity="0.90" mask="url(#mc14)"/>
<rect x="-50" y="-50" width="300" height="300" fill="#e4e450" opacity="0.95" mask="url(#mc15)"/>
<rect x="-50" y="-50" width="300" height="300" fill="#7070ee" opacity="0.80" mask="url(#mc16)"/>
<rect x="-50" y="-50" width="300" height="300" fill="#e47474" opacity="0.80" mask="url(#mc17)"/>
<rect x="-50" y="-50" width="300" height="300" fill="#e4e450" opacity="0.90" mask="url(#mc18)"/>
<rect x="-50" y="-50" width="300" height="300" fill="#7070ee" opacity="0.80" mask="url(#mc19)"/>
<rect x="-50" y="-50" width="300" height="300" fill="#e47474" opacity="0.80" mask="url(#mc20)"/>
<rect x="-50" y="-50" width="300" height="300" fill="#e4e450" opacity="0.90" mask="url(#mc21)"/>
<rect x="-50" y="-50" width="300" height="300" fill="#7070ee" opacity="0.80" mask="url(#mc22)"/>
<g fill="none" stroke="#7070ee" stroke-width="0.60" opacity="0.80"><circle cx="44.6" cy="75.2" r="1.30"/><circle cx="38.1" cy="124.4" r="1.50"/><circle cx="115.1" cy="83.6" r="1.30"/></g>
<g fill="none" stroke="#d24fd2" stroke-width="0.90"><path d="M33.8 18.6 L38.4 23.2 L33.8 27.8 L29.2 23.2 Z"/><path d="M12.6 49.3 L17.2 53.9 L12.6 58.5 L8.0 53.9 Z"/><path d="M39.0 -2.0 L42.5 1.5 L39.0 5.0 L35.5 1.5 Z"/><path d="M55.0 62.4 L59.0 66.4 L55.0 70.4 L51.0 66.4 Z"/><path d="M75.7 55.3 L79.7 59.3 L75.7 63.3 L71.7 59.3 Z"/><path d="M6.5 79.9 L11.1 84.5 L6.5 89.1 L1.9 84.5 Z"/><path d="M59.8 103.5 L64.4 108.1 L59.8 112.7 L55.2 108.1 Z"/></g>
<g fill="none" stroke="#e8a0a0" stroke-width="0.70" opacity="0.80"><circle cx="7.4" cy="122.6" r="4.60"/></g>
</g></svg></g>
<g transform="translate(205.00 178.00)">
<svg x="0" y="0" width="130.00" height="130.00" viewBox="0 0 130.00 130.00" overflow="hidden"><g filter="url(#soft)">
<rect width="130.00" height="130.00" fill="#d8d8d8"/>
<rect width="130.00" height="130.00" filter="url(#graind)"/>
<g fill="#1e1e1e" filter="url(#fd1)"><circle cx="30.7" cy="13.4" r="0.73" fill="#555"/><circle cx="11.7" cy="2.6" r="0.80" fill="#666"/><circle cx="104.1" cy="99.5" r="0.65" fill="#666"/><circle cx="36.0" cy="22.4" r="0.60" fill="#555"/><circle cx="122.6" cy="3.3" r="0.84" fill="#666"/><circle cx="104.1" cy="25.1" r="0.69" fill="#666"/><circle cx="11.3" cy="78.8" r="0.85" fill="#555"/><circle cx="23.1" cy="61.6" r="0.59" fill="#666"/><circle cx="0.9" cy="38.0" r="0.87" fill="#666"/><circle cx="110.2" cy="66.1" r="0.74" fill="#666"/><circle cx="56.0" cy="21.0" r="0.69" fill="#444"/><circle cx="10.5" cy="60.1" r="1.00" fill="#777"/><circle cx="91.1" cy="18.9" r="0.85" fill="#444"/><circle cx="53.7" cy="26.3" r="0.83" fill="#666"/><circle cx="23.9" cy="56.7" r="0.81" fill="#555"/><circle cx="117.6" cy="13.1" r="0.58" fill="#555"/><circle cx="36.1" cy="75.7" r="0.94" fill="#444"/><circle cx="43.0" cy="23.1" r="0.76" fill="#444"/><circle cx="46.4" cy="10.7" r="0.98" fill="#666"/><circle cx="95.5" cy="124.8" r="0.56" fill="#666"/><circle cx="41.8" cy="19.9" r="0.84" fill="#444"/><circle cx="38.1" cy="24.9" r="0.75" fill="#555"/><circle cx="32.5" cy="77.8" r="0.62" fill="#444"/><circle cx="47.2" cy="59.1" r="0.71" fill="#666"/><circle cx="129.6" cy="74.3" r="0.75" fill="#555"/><circle cx="55.1" cy="27.0" r="0.58" fill="#444"/><circle cx="95.8" cy="77.4" r="0.99" fill="#444"/><circle cx="71.0" cy="75.7" r="0.69" fill="#444"/><circle cx="15.9" cy="68.8" r="0.90" fill="#777"/><circle cx="84.7" cy="26.0" r="0.64" fill="#777"/><circle cx="53.4" cy="4.8" r="0.74" fill="#555"/><circle cx="84.2" cy="55.6" r="0.65" fill="#555"/><circle cx="4.1" cy="33.1" r="0.66" fill="#555"/><circle cx="100.4" cy="54.2" r="0.67" fill="#666"/><circle cx="6.7" cy="120.6" r="0.80" fill="#777"/><circle cx="125.2" cy="84.9" r="0.94" fill="#444"/><circle cx="64.3" cy="12.1" r="0.64" fill="#555"/><circle cx="43.8" cy="85.4" r="0.91" fill="#666"/><circle cx="105.9" cy="68.6" r="0.84" fill="#666"/><circle cx="44.0" cy="51.0" r="0.77" fill="#666"/><circle cx="125.0" cy="86.9" r="0.57" fill="#555"/><circle cx="99.7" cy="35.0" r="0.94" fill="#555"/><circle cx="89.4" cy="60.4" r="0.76" fill="#777"/><circle cx="120.6" cy="28.4" r="0.55" fill="#555"/><circle cx="1.7" cy="113.9" r="0.60" fill="#777"/><circle cx="114.1" cy="71.6" r="0.95" fill="#555"/><circle cx="21.0" cy="79.1" r="0.92" fill="#777"/><circle cx="119.0" cy="57.2" r="0.59" fill="#444"/><circle cx="63.5" cy="112.4" r="0.82" fill="#555"/><circle cx="5.4" cy="10.4" r="0.95" fill="#444"/><circle cx="38.6" cy="45.1" r="0.58" fill="#777"/><circle cx="49.6" cy="102.4" r="0.69" fill="#555"/><circle cx="98.6" cy="111.2" r="0.73" fill="#444"/><circle cx="14.9" cy="80.7" r="0.95" fill="#777"/><circle cx="54.1" cy="92.5" r="0.75" fill="#555"/><circle cx="82.8" cy="120.9" r="0.77" fill="#444"/><circle cx="103.8" cy="21.8" r="0.94" fill="#555"/><circle cx="91.9" cy="42.5" r="0.94" fill="#666"/><circle cx="70.4" cy="117.5" r="0.87" fill="#444"/><circle cx="84.3" cy="15.7" r="0.60" fill="#777"/><circle cx="68.4" cy="67.7" r="0.74" fill="#666"/><circle cx="46.4" cy="99.7" r="0.99" fill="#444"/><circle cx="88.0" cy="79.2" r="0.69" fill="#777"/><circle cx="101.7" cy="73.9" r="0.97" fill="#777"/><circle cx="79.7" cy="57.5" r="0.61" fill="#666"/><circle cx="128.2" cy="44.2" r="0.75" fill="#555"/><circle cx="87.8" cy="80.9" r="0.68" fill="#666"/><circle cx="25.7" cy="103.2" r="0.85" fill="#444"/><circle cx="10.0" cy="83.9" r="0.96" fill="#666"/><circle cx="85.1" cy="42.5" r="0.69" fill="#444"/><circle cx="78.5" cy="68.1" r="0.89" fill="#444"/><circle cx="104.1" cy="104.9" r="0.98" fill="#555"/><circle cx="23.7" cy="128.3" r="0.85" fill="#444"/><circle cx="98.8" cy="125.9" r="0.60" fill="#777"/><circle cx="87.8" cy="96.9" r="0.83" fill="#666"/><circle cx="110.9" cy="89.4" r="0.95" fill="#555"/><circle cx="116.6" cy="91.5" r="0.69" fill="#555"/><circle cx="96.9" cy="69.8" r="0.79" fill="#777"/><circle cx="116.9" cy="52.0" r="0.73" fill="#666"/><circle cx="36.9" cy="53.5" r="0.56" fill="#555"/><circle cx="116.7" cy="59.6" r="0.80" fill="#666"/><circle cx="52.5" cy="50.5" r="0.56" fill="#444"/><circle cx="59.6" cy="125.5" r="0.83" fill="#666"/><circle cx="78.5" cy="40.6" r="0.59" fill="#666"/><circle cx="62.8" cy="83.2" r="0.76" fill="#444"/><circle cx="19.3" cy="31.0" r="0.68" fill="#444"/><circle cx="21.2" cy="102.8" r="0.86" fill="#666"/><circle cx="2.4" cy="31.9" r="0.89" fill="#555"/><circle cx="4.1" cy="41.1" r="0.60" fill="#444"/><circle cx="114.2" cy="83.6" r="0.82" fill="#555"/><circle cx="95.1" cy="85.2" r="0.98" fill="#444"/><circle cx="72.8" cy="90.2" r="0.88" fill="#555"/><circle cx="65.3" cy="20.0" r="0.93" fill="#777"/><circle cx="66.0" cy="48.9" r="0.62" fill="#666"/><circle cx="66.9" cy="69.9" r="0.69" fill="#777"/><circle cx="42.7" cy="50.3" r="0.74" fill="#444"/><circle cx="36.2" cy="87.9" r="0.69" fill="#555"/><circle cx="11.2" cy="15.1" r="0.82" fill="#444"/><circle cx="30.2" cy="72.0" r="0.76" fill="#555"/><circle cx="115.1" cy="58.8" r="0.88" fill="#777"/><circle cx="43.7" cy="22.4" r="0.79" fill="#555"/><circle cx="13.9" cy="80.5" r="0.96" fill="#666"/><circle cx="121.0" cy="108.1" r="0.74" fill="#444"/><circle cx="106.7" cy="27.6" r="0.81" fill="#666"/><circle cx="102.0" cy="62.1" r="0.93" fill="#444"/><circle cx="115.9" cy="116.1" r="0.95" fill="#444"/><circle cx="78.6" cy="68.5" r="0.99" fill="#666"/><circle cx="120.7" cy="23.0" r="0.57" fill="#555"/><circle cx="5.1" cy="87.9" r="0.70" fill="#555"/><circle cx="90.6" cy="15.2" r="0.99" fill="#444"/><circle cx="9.3" cy="29.4" r="0.67" fill="#444"/><circle cx="115.8" cy="126.5" r="0.55" fill="#555"/><circle cx="27.7" cy="32.4" r="0.88" fill="#666"/><circle cx="106.1" cy="38.8" r="0.72" fill="#777"/><circle cx="4.4" cy="53.6" r="0.99" fill="#666"/><circle cx="72.8" cy="36.8" r="0.64" fill="#777"/><circle cx="41.8" cy="27.9" r="0.77" fill="#777"/><circle cx="121.1" cy="35.9" r="0.89" fill="#777"/><circle cx="123.5" cy="120.6" r="0.73" fill="#555"/><circle cx="33.3" cy="66.4" r="0.56" fill="#666"/><circle cx="79.2" cy="87.8" r="0.84" fill="#666"/><circle cx="11.3" cy="128.2" r="0.62" fill="#444"/><circle cx="91.1" cy="121.5" r="0.66" fill="#555"/><circle cx="115.8" cy="64.9" r="0.60" fill="#666"/><circle cx="1.0" cy="74.1" r="0.64" fill="#444"/><circle cx="31.7" cy="109.6" r="0.60" fill="#666"/><circle cx="38.6" cy="73.7" r="0.85" fill="#444"/><circle cx="86.0" cy="129.2" r="0.95" fill="#444"/><circle cx="98.3" cy="104.2" r="0.85" fill="#666"/><circle cx="4.5" cy="42.2" r="0.70" fill="#666"/><circle cx="128.2" cy="21.1" r="0.89" fill="#444"/><circle cx="124.3" cy="123.7" r="0.86" fill="#444"/><circle cx="87.5" cy="34.0" r="0.96" fill="#777"/><circle cx="13.6" cy="25.9" r="0.61" fill="#777"/><circle cx="78.2" cy="64.5" r="0.70" fill="#777"/><circle cx="96.7" cy="109.0" r="0.89" fill="#444"/><circle cx="23.6" cy="46.6" r="0.68" fill="#666"/><circle cx="74.6" cy="25.3" r="0.83" fill="#666"/><circle cx="49.9" cy="69.6" r="0.60" fill="#555"/><circle cx="24.8" cy="45.3" r="0.99" fill="#555"/><circle cx="2.8" cy="15.3" r="0.68" fill="#666"/><circle cx="122.0" cy="64.7" r="0.57" fill="#666"/><circle cx="104.0" cy="104.3" r="0.62" fill="#777"/><circle cx="80.3" cy="45.6" r="0.55" fill="#555"/><circle cx="58.2" cy="96.6" r="0.97" fill="#777"/><circle cx="27.5" cy="43.0" r="0.82" fill="#444"/><circle cx="116.3" cy="62.6" r="0.99" fill="#444"/><circle cx="23.5" cy="80.0" r="0.82" fill="#444"/><circle cx="94.2" cy="3.0" r="0.75" fill="#555"/><circle cx="80.8" cy="17.4" r="0.82" fill="#555"/><circle cx="56.6" cy="40.9" r="0.84" fill="#555"/><circle cx="94.9" cy="120.7" r="0.93" fill="#666"/><circle cx="33.5" cy="43.6" r="0.79" fill="#555"/><circle cx="47.6" cy="112.1" r="0.64" fill="#777"/><circle cx="107.7" cy="9.6" r="0.83" fill="#555"/><circle cx="128.4" cy="18.6" r="0.87" fill="#444"/><circle cx="70.0" cy="45.0" r="0.97" fill="#444"/><circle cx="102.0" cy="78.6" r="0.79" fill="#666"/><circle cx="81.2" cy="38.4" r="0.95" fill="#666"/><circle cx="27.2" cy="61.4" r="0.68" fill="#444"/><circle cx="115.4" cy="37.4" r="0.74" fill="#444"/><circle cx="45.1" cy="78.4" r="0.96" fill="#666"/><circle cx="9.4" cy="56.3" r="0.59" fill="#777"/><circle cx="102.6" cy="4.2" r="0.64" fill="#555"/><circle cx="106.4" cy="26.3" r="0.96" fill="#444"/><circle cx="129.8" cy="1.4" r="0.55" fill="#666"/><circle cx="67.6" cy="68.3" r="0.58" fill="#666"/><circle cx="86.8" cy="81.9" r="0.78" fill="#444"/><circle cx="89.7" cy="8.4" r="0.75" fill="#555"/><circle cx="115.9" cy="125.4" r="0.78" fill="#666"/><circle cx="86.5" cy="17.3" r="0.81" fill="#444"/><circle cx="78.2" cy="0.7" r="0.57" fill="#666"/><circle cx="70.9" cy="55.2" r="0.69" fill="#666"/><circle cx="125.3" cy="19.8" r="0.71" fill="#777"/><circle cx="32.2" cy="81.2" r="0.63" fill="#777"/><circle cx="129.8" cy="75.4" r="0.56" fill="#555"/><circle cx="34.0" cy="76.3" r="0.81" fill="#777"/><circle cx="122.7" cy="21.1" r="0.62" fill="#666"/><circle cx="110.5" cy="91.8" r="0.79" fill="#666"/><circle cx="35.0" cy="111.8" r="0.62" fill="#444"/><circle cx="112.2" cy="103.7" r="0.70" fill="#555"/><circle cx="22.9" cy="12.5" r="1.00" fill="#444"/><circle cx="67.7" cy="6.0" r="0.97" fill="#555"/><circle cx="29.0" cy="31.9" r="0.99" fill="#777"/><circle cx="50.2" cy="82.2" r="0.98" fill="#777"/><circle cx="37.8" cy="11.6" r="0.91" fill="#444"/><circle cx="24.0" cy="52.8" r="0.73" fill="#555"/><circle cx="56.4" cy="95.8" r="0.80" fill="#666"/><circle cx="44.6" cy="45.4" r="0.86" fill="#444"/><circle cx="45.0" cy="12.6" r="0.72" fill="#555"/><circle cx="63.7" cy="121.8" r="0.74" fill="#444"/><circle cx="51.0" cy="11.2" r="0.72" fill="#555"/><circle cx="97.7" cy="12.0" r="0.60" fill="#555"/><circle cx="59.4" cy="95.9" r="0.89" fill="#777"/><circle cx="41.3" cy="87.0" r="0.95" fill="#777"/><circle cx="116.6" cy="94.7" r="0.91" fill="#666"/><circle cx="114.5" cy="127.4" r="0.92" fill="#777"/><circle cx="56.6" cy="93.3" r="0.95" fill="#555"/><circle cx="120.2" cy="37.0" r="0.70" fill="#444"/><circle cx="67.6" cy="101.0" r="0.92" fill="#555"/><circle cx="79.8" cy="100.8" r="0.65" fill="#666"/><circle cx="120.1" cy="57.2" r="0.79" fill="#444"/><circle cx="64.3" cy="122.5" r="0.93" fill="#777"/><circle cx="99.3" cy="61.0" r="0.88" fill="#666"/><circle cx="25.6" cy="43.3" r="0.62" fill="#777"/><circle cx="100.5" cy="102.9" r="0.99" fill="#777"/><circle cx="96.4" cy="45.2" r="0.78" fill="#444"/><circle cx="96.5" cy="87.0" r="0.66" fill="#555"/><circle cx="114.8" cy="69.7" r="0.93" fill="#777"/><circle cx="124.2" cy="113.1" r="0.69" fill="#444"/><circle cx="0.3" cy="30.2" r="0.70" fill="#666"/><circle cx="106.2" cy="109.0" r="0.81" fill="#666"/><circle cx="103.3" cy="86.8" r="0.57" fill="#444"/><circle cx="93.8" cy="83.0" r="0.65" fill="#444"/><circle cx="70.8" cy="21.2" r="0.64" fill="#555"/><circle cx="66.7" cy="24.8" r="0.98" fill="#777"/><circle cx="42.5" cy="34.5" r="0.73" fill="#555"/><circle cx="92.0" cy="119.0" r="0.70" fill="#444"/><circle cx="80.2" cy="34.3" r="0.58" fill="#666"/><circle cx="117.1" cy="7.4" r="0.90" fill="#444"/></g>
<circle cx="16.7" cy="113.3" r="13.9" fill="#f0d8d8" fill-opacity="0.6" stroke="#e8a0a0" stroke-width="0.7"/>
<g fill="#1e1e1e" filter="url(#fd2)"><circle cx="26.6" cy="13.9" r="2.80"/><circle cx="33.4" cy="26.0" r="1.50"/><circle cx="44.6" cy="16.7" r="1.60"/><circle cx="47.0" cy="17.5" r="1.30"/><circle cx="51.1" cy="26.0" r="1.70"/><circle cx="61.3" cy="19.5" r="1.50"/><circle cx="1.9" cy="21.4" r="1.30"/><circle cx="5.6" cy="8.4" r="1.10"/><circle cx="4.6" cy="31.6" r="1.10"/><circle cx="8.9" cy="48.7" r="1.50"/><circle cx="2.2" cy="48.7" r="1.30"/><circle cx="28.8" cy="45.5" r="1.90"/><circle cx="39.0" cy="50.1" r="1.70"/><circle cx="39.0" cy="57.6" r="1.70"/><circle cx="32.5" cy="64.1" r="1.50"/><circle cx="53.9" cy="53.9" r="1.70"/><circle cx="6.5" cy="37.1" r="0.90"/><circle cx="11.1" cy="39.9" r="0.90"/><circle cx="46.4" cy="2.8" r="0.90"/><circle cx="52.0" cy="10.2" r="0.90"/><circle cx="68.7" cy="15.8" r="1.70"/><circle cx="78.0" cy="13.9" r="1.50"/><circle cx="71.5" cy="24.1" r="1.30"/><circle cx="79.9" cy="26.0" r="1.10"/><circle cx="103.1" cy="8.4" r="1.30"/><circle cx="110.5" cy="9.3" r="1.50"/><circle cx="118.9" cy="18.6" r="1.30"/><circle cx="113.3" cy="22.3" r="1.70"/><circle cx="126.3" cy="21.4" r="1.80"/><circle cx="126.3" cy="25.1" r="1.80"/><circle cx="129.1" cy="11.1" r="1.50"/><circle cx="117.0" cy="42.7" r="1.50"/><circle cx="109.6" cy="48.3" r="1.90"/><circle cx="106.8" cy="55.7" r="1.70"/><circle cx="121.6" cy="54.8" r="1.50"/><circle cx="124.4" cy="64.1" r="2.20"/><circle cx="89.1" cy="51.1" r="2.20"/><circle cx="99.4" cy="62.2" r="1.90"/><circle cx="97.5" cy="3.7" r="1.10"/><circle cx="89.1" cy="8.4" r="1.10"/><circle cx="104.0" cy="19.5" r="1.10"/><circle cx="83.6" cy="22.3" r="1.10"/><circle cx="21.4" cy="83.2" r="2.60"/><circle cx="13.9" cy="78.9" r="1.90"/><circle cx="11.1" cy="99.4" r="2.20"/><circle cx="30.6" cy="104.0" r="2.20"/><circle cx="42.7" cy="103.1" r="2.40"/><circle cx="44.5" cy="104.5" r="2.00"/><circle cx="33.0" cy="88.2" r="2.20"/><circle cx="31.6" cy="65.9" r="2.00"/><circle cx="63.1" cy="97.5" r="1.90"/><circle cx="21.4" cy="109.6" r="1.50"/><circle cx="24.1" cy="118.9" r="1.50"/><circle cx="24.1" cy="124.4" r="1.50"/><circle cx="13.9" cy="115.1" r="1.10"/><circle cx="57.6" cy="115.1" r="1.50"/><circle cx="37.1" cy="124.4" r="1.10"/><circle cx="44.6" cy="127.2" r="1.10"/><circle cx="27.9" cy="78.0" r="1.30"/><circle cx="5.6" cy="68.7" r="1.30"/><circle cx="49.2" cy="118.9" r="1.10"/><circle cx="123.5" cy="66.9" r="3.30"/><circle cx="104.0" cy="108.1" r="2.20"/><circle cx="116.1" cy="104.9" r="1.70"/><circle cx="115.1" cy="118.9" r="1.50"/><circle cx="89.1" cy="113.3" r="1.50"/><circle cx="78.0" cy="112.9" r="1.50"/><circle cx="75.2" cy="125.4" r="1.70"/><circle cx="98.4" cy="114.2" r="1.30"/><circle cx="118.9" cy="114.2" r="1.10"/><circle cx="69.6" cy="113.3" r="1.10"/><circle cx="97.5" cy="128.1" r="1.10"/><circle cx="83.6" cy="126.3" r="1.10"/><circle cx="109.6" cy="122.6" r="1.10"/><circle cx="125.4" cy="83.6" r="1.10"/><circle cx="126.3" cy="109.6" r="1.10"/><circle cx="118.9" cy="100.3" r="1.10"/></g>
<path d="M75.2 39.0 C75.4 37.9 77.5 37.2 79.0 37.0 C80.5 36.8 82.8 36.9 84.0 37.5 C85.2 38.1 86.4 39.5 86.4 40.5 C86.4 41.5 85.4 43.1 84.0 43.6 C82.6 44.1 79.5 44.4 78.0 43.6 C76.5 42.8 75.0 40.1 75.2 39.0Z" fill="#111" filter="url(#fd3)"/>
<ellipse cx="103.0" cy="84.0" rx="8.0" ry="9.0" fill="#000" opacity="0.35" filter="url(#fd4)"/>
<path d="M94.7 83.6 C95.3 81.4 96.9 77.6 98.4 76.1 C100.0 74.5 102.5 73.7 104.0 74.3 C105.5 74.9 106.5 77.7 107.7 79.9 C108.9 82.1 111.4 85.5 111.4 87.3 C111.4 89.1 109.6 90.1 107.7 91.0 C105.8 91.9 102.5 93.2 100.3 92.9 C98.1 92.6 95.6 90.6 94.7 89.1 C93.8 87.5 94.1 85.8 94.7 83.6Z" fill="#111" filter="url(#fd5)"/>
<g fill="#1e1e1e" filter="url(#fd6)"><circle cx="107.7" cy="95.6" r="1.90" fill="#a020a0"/><circle cx="13.9" cy="29.3" r="1.90" fill="#702070"/></g>
<rect x="-50" y="-50" width="300" height="300" fill="#b4b4f6" opacity="0.42" mask="url(#md7)" style="mix-blend-mode:multiply"/>
<rect x="-50" y="-50" width="300" height="300" fill="#7070ee" opacity="0.70" mask="url(#md8)"/>
<rect x="-50" y="-50" width="300" height="300" fill="#e47474" opacity="0.90" mask="url(#md9)"/>
<g fill="none" stroke="#e47474" stroke-width="0.80" opacity="0.90"><path d="M-1.0 42.5 C0.4 43.9 5.1 48.7 7.4 51.0 C9.7 53.3 11.2 56.3 13.0 56.5 C14.8 56.7 16.4 53.9 18.0 52.0 C19.6 50.1 21.8 46.2 22.5 45.0"/><path d="M-1.0 76.5 C0.7 75.8 6.5 74.3 9.3 72.4 C12.1 70.5 14.4 67.1 15.8 65.0 C17.2 62.9 16.6 61.8 17.5 60.0 C18.4 58.2 20.4 55.0 21.0 54.0"/><path d="M-1.0 83.8 C0.7 83.6 6.2 81.8 9.3 82.6 C12.4 83.4 15.1 86.2 17.6 88.5 C20.1 90.8 22.0 94.3 24.1 96.5 C26.2 98.7 29.0 100.7 30.0 101.5"/></g>
<g fill="#2f7f2f"><circle cx="95.4" cy="85.6" r="0.95"/><circle cx="39.4" cy="89.0" r="0.95"/><circle cx="71.7" cy="86.3" r="0.95"/><circle cx="76.6" cy="82.4" r="0.95"/><circle cx="113.7" cy="66.8" r="0.95"/><circle cx="62.5" cy="89.1" r="0.95"/><circle cx="69.5" cy="59.2" r="0.95"/><circle cx="63.0" cy="56.8" r="0.95"/><circle cx="61.7" cy="30.7" r="0.95"/><circle cx="91.5" cy="74.3" r="0.95"/><circle cx="45.2" cy="74.0" r="0.95"/><circle cx="81.7" cy="61.0" r="0.95"/><circle cx="33.3" cy="50.4" r="0.95"/><circle cx="32.3" cy="78.5" r="0.95"/><circle cx="99.0" cy="47.9" r="0.95"/><circle cx="72.9" cy="77.5" r="0.95"/><circle cx="47.6" cy="49.9" r="0.95"/><circle cx="100.5" cy="40.9" r="0.95"/><circle cx="61.0" cy="44.1" r="0.95"/><circle cx="58.2" cy="70.8" r="0.95"/><circle cx="33.4" cy="47.9" r="0.95"/><circle cx="84.1" cy="85.3" r="0.95"/><circle cx="85.4" cy="72.4" r="0.95"/><circle cx="34.6" cy="61.1" r="0.95"/><circle cx="64.4" cy="68.7" r="0.95"/><circle cx="51.7" cy="57.9" r="0.95"/><circle cx="75.0" cy="103.3" r="0.95"/><circle cx="54.9" cy="88.5" r="0.95"/><circle cx="112.0" cy="61.9" r="0.95"/><circle cx="50.4" cy="67.6" r="0.95"/><circle cx="87.8" cy="89.2" r="0.95"/><circle cx="84.4" cy="100.7" r="0.95"/><circle cx="96.8" cy="81.3" r="0.95"/><circle cx="48.5" cy="89.8" r="0.95"/><circle cx="50.0" cy="78.3" r="0.95"/><circle cx="61.5" cy="98.1" r="0.95"/><circle cx="45.3" cy="64.7" r="0.95"/><circle cx="67.7" cy="88.7" r="0.95"/><circle cx="63.2" cy="82.6" r="0.95"/><circle cx="40.2" cy="52.4" r="0.95"/><circle cx="61.9" cy="78.7" r="0.95"/><circle cx="45.5" cy="45.7" r="0.95"/><circle cx="111.0" cy="72.2" r="0.95"/><circle cx="100.7" cy="57.0" r="0.95"/><circle cx="70.0" cy="97.7" r="0.95"/><circle cx="49.0" cy="69.3" r="0.95"/><circle cx="61.2" cy="50.2" r="0.95"/><circle cx="35.5" cy="59.1" r="0.95"/><circle cx="66.5" cy="101.7" r="0.95"/><circle cx="70.4" cy="90.6" r="0.95"/><circle cx="31.6" cy="82.4" r="0.95"/><circle cx="85.7" cy="40.3" r="0.95"/><circle cx="110.1" cy="54.7" r="0.95"/><circle cx="58.7" cy="31.4" r="0.95"/><circle cx="59.1" cy="92.5" r="0.95"/><circle cx="55.1" cy="37.8" r="0.95"/><circle cx="42.0" cy="69.9" r="0.95"/><circle cx="50.3" cy="50.0" r="0.95"/><circle cx="91.5" cy="37.3" r="0.95"/><circle cx="66.2" cy="74.3" r="0.95"/><circle cx="99.7" cy="96.2" r="0.95"/><circle cx="92.8" cy="59.1" r="0.95"/><circle cx="61.6" cy="97.3" r="0.95"/><circle cx="50.4" cy="47.5" r="0.95"/><circle cx="37.7" cy="64.2" r="0.95"/><circle cx="43.6" cy="74.1" r="0.95"/><circle cx="104.6" cy="80.4" r="0.95"/><circle cx="100.1" cy="41.9" r="0.95"/><circle cx="88.1" cy="102.1" r="0.95"/><circle cx="66.6" cy="101.9" r="0.95"/><circle cx="64.8" cy="35.5" r="0.95"/><circle cx="87.6" cy="43.5" r="0.95"/><circle cx="68.4" cy="41.1" r="0.95"/><circle cx="55.3" cy="71.1" r="0.95"/><circle cx="78.6" cy="49.6" r="0.95"/><circle cx="105.3" cy="70.0" r="0.95"/><circle cx="93.3" cy="81.6" r="0.95"/><circle cx="77.3" cy="82.3" r="0.95"/><circle cx="49.2" cy="43.3" r="0.95"/><circle cx="59.5" cy="97.8" r="0.95"/><circle cx="38.2" cy="71.5" r="0.95"/><circle cx="106.7" cy="89.4" r="0.95"/><circle cx="33.3" cy="62.4" r="0.95"/><circle cx="36.3" cy="41.4" r="0.95"/><circle cx="35.0" cy="80.3" r="0.95"/><circle cx="89.0" cy="69.1" r="0.95"/><circle cx="36.1" cy="53.7" r="0.95"/><circle cx="71.1" cy="62.2" r="0.95"/><circle cx="104.0" cy="46.6" r="0.95"/><circle cx="92.9" cy="61.3" r="0.95"/></g>
<rect x="-50" y="-50" width="300" height="300" fill="#e4e450" opacity="0.90" mask="url(#md10)"/>
<rect x="-50" y="-50" width="300" height="300" fill="#e4e450" opacity="0.90" mask="url(#md11)"/>
<rect x="-50" y="-50" width="300" height="300" fill="#e4e450" opacity="0.90" mask="url(#md12)"/>
<rect x="-50" y="-50" width="300" height="300" fill="#7070ee" opacity="0.80" mask="url(#md13)"/>
<rect x="-50" y="-50" width="300" height="300" fill="#7070ee" opacity="0.80" mask="url(#md14)"/>
<g fill="none" stroke="#e4e450" stroke-width="0.60" opacity="0.80"><circle cx="57.6" cy="32.5" r="3.00"/></g>
<rect x="-50" y="-50" width="300" height="300" fill="#7070ee" opacity="0.80" mask="url(#md15)"/>
<g fill="none" stroke="#7070ee" stroke-width="0.60" opacity="0.60"><circle cx="7.4" cy="122.6" r="4.60"/></g>
<ellipse cx="7.4" cy="122.6" rx="2.5" ry="3.5" fill="none" stroke="#e4e450" stroke-width="0.6"/>
</g></svg></g>
<g transform="translate(30.50 344.00)">
<svg x="0" y="0" width="130.50" height="131.00" viewBox="0 0 130.50 131.00" overflow="hidden"><g filter="url(#soft)">
<rect width="130.50" height="131.00" fill="#e6e6e6"/>
<rect width="130.50" height="131.00" filter="url(#graine)"/>
<g fill="#1e1e1e" filter="url(#fe1)"><circle cx="81.6" cy="97.2" r="0.99" fill="#333"/><circle cx="110.1" cy="101.7" r="0.69" fill="#333"/><circle cx="118.0" cy="14.8" r="0.81" fill="#444"/><circle cx="49.9" cy="13.4" r="0.69" fill="#444"/><circle cx="53.5" cy="23.9" r="1.03" fill="#666"/><circle cx="20.9" cy="104.4" r="0.63" fill="#666"/><circle cx="16.6" cy="0.2" r="1.03" fill="#444"/><circle cx="101.3" cy="125.8" r="0.64" fill="#444"/><circle cx="37.9" cy="126.0" r="0.85" fill="#444"/><circle cx="23.8" cy="126.9" r="0.66" fill="#666"/><circle cx="39.1" cy="47.3" r="0.64" fill="#444"/><circle cx="34.6" cy="43.5" r="1.00" fill="#333"/><circle cx="78.1" cy="92.7" r="0.59" fill="#555"/><circle cx="107.2" cy="63.0" r="0.72" fill="#666"/><circle cx="61.9" cy="23.1" r="0.69" fill="#333"/><circle cx="124.3" cy="46.9" r="0.77" fill="#666"/><circle cx="48.0" cy="75.8" r="0.55" fill="#333"/><circle cx="92.7" cy="81.7" r="1.07" fill="#333"/><circle cx="99.0" cy="121.8" r="1.07" fill="#555"/><circle cx="67.1" cy="116.9" r="0.69" fill="#666"/><circle cx="14.2" cy="98.0" r="0.99" fill="#555"/><circle cx="4.8" cy="123.9" r="0.60" fill="#555"/><circle cx="67.2" cy="47.5" r="0.63" fill="#555"/><circle cx="121.1" cy="71.4" r="0.72" fill="#555"/><circle cx="40.1" cy="104.6" r="0.89" fill="#555"/><circle cx="130.6" cy="21.2" r="0.58" fill="#666"/><circle cx="4.2" cy="97.0" r="0.74" fill="#555"/><circle cx="59.7" cy="55.3" r="0.58" fill="#333"/><circle cx="105.0" cy="43.8" r="0.66" fill="#444"/><circle cx="82.6" cy="103.2" r="0.61" fill="#666"/><circle cx="48.9" cy="7.7" r="0.78" fill="#444"/><circle cx="59.4" cy="130.9" r="1.02" fill="#666"/><circle cx="125.8" cy="90.2" r="0.72" fill="#555"/><circle cx="38.1" cy="52.9" r="0.63" fill="#666"/><circle cx="107.7" cy="69.7" r="0.65" fill="#666"/><circle cx="113.7" cy="23.6" r="0.82" fill="#555"/><circle cx="8.3" cy="104.2" r="0.75" fill="#333"/><circle cx="99.5" cy="47.6" r="0.94" fill="#555"/><circle cx="109.4" cy="34.7" r="1.09" fill="#555"/><circle cx="125.4" cy="44.5" r="0.65" fill="#333"/><circle cx="62.1" cy="101.4" r="0.73" fill="#555"/><circle cx="60.6" cy="107.0" r="0.91" fill="#555"/><circle cx="45.6" cy="84.4" r="0.96" fill="#666"/><circle cx="45.9" cy="110.4" r="1.03" fill="#666"/><circle cx="127.9" cy="125.3" r="0.83" fill="#444"/><circle cx="26.0" cy="47.4" r="1.02" fill="#555"/><circle cx="90.6" cy="94.3" r="0.95" fill="#444"/><circle cx="80.8" cy="122.6" r="0.83" fill="#666"/><circle cx="39.6" cy="72.5" r="1.03" fill="#555"/><circle cx="94.4" cy="3.6" r="0.64" fill="#666"/><circle cx="81.8" cy="23.7" r="0.97" fill="#444"/><circle cx="82.6" cy="5.5" r="0.81" fill="#444"/><circle cx="21.7" cy="116.8" r="0.61" fill="#444"/><circle cx="63.2" cy="71.8" r="0.78" fill="#555"/><circle cx="49.8" cy="80.1" r="0.87" fill="#444"/><circle cx="94.1" cy="49.0" r="0.74" fill="#555"/><circle cx="112.1" cy="113.5" r="0.93" fill="#555"/><circle cx="126.3" cy="72.0" r="0.72" fill="#555"/><circle cx="71.4" cy="44.5" r="0.87" fill="#555"/><circle cx="107.2" cy="54.9" r="1.00" fill="#555"/><circle cx="61.2" cy="20.5" r="0.76" fill="#666"/><circle cx="125.4" cy="126.8" r="0.88" fill="#555"/><circle cx="107.6" cy="86.7" r="0.76" fill="#555"/><circle cx="74.1" cy="80.6" r="0.63" fill="#666"/><circle cx="56.2" cy="127.9" r="0.82" fill="#666"/><circle cx="127.4" cy="49.8" r="1.08" fill="#444"/><circle cx="78.1" cy="34.0" r="1.09" fill="#666"/><circle cx="32.9" cy="2.6" r="1.07" fill="#555"/><circle cx="64.4" cy="37.5" r="0.81" fill="#333"/><circle cx="86.5" cy="125.9" r="0.69" fill="#333"/><circle cx="102.4" cy="108.3" r="0.56" fill="#555"/><circle cx="31.9" cy="62.1" r="0.57" fill="#666"/><circle cx="35.1" cy="20.3" r="1.09" fill="#555"/><circle cx="64.5" cy="130.0" r="0.84" fill="#333"/><circle cx="2.1" cy="16.5" r="0.71" fill="#555"/><circle cx="80.4" cy="95.8" r="0.56" fill="#555"/><circle cx="47.3" cy="97.6" r="0.87" fill="#333"/><circle cx="0.4" cy="72.5" r="0.93" fill="#333"/><circle cx="116.3" cy="71.5" r="0.56" fill="#666"/><circle cx="77.9" cy="90.3" r="1.07" fill="#666"/><circle cx="112.5" cy="110.2" r="0.81" fill="#444"/><circle cx="117.8" cy="60.9" r="0.97" fill="#555"/><circle cx="109.6" cy="91.0" r="0.79" fill="#555"/><circle cx="84.9" cy="61.9" r="0.72" fill="#444"/><circle cx="62.7" cy="71.9" r="0.82" fill="#555"/><circle cx="70.5" cy="55.7" r="0.85" fill="#333"/><circle cx="9.0" cy="30.1" r="1.00" fill="#333"/><circle cx="86.9" cy="3.3" r="0.95" fill="#333"/><circle cx="130.8" cy="91.9" r="0.58" fill="#333"/><circle cx="28.7" cy="84.6" r="1.07" fill="#444"/><circle cx="130.2" cy="92.5" r="0.79" fill="#444"/><circle cx="80.0" cy="54.2" r="0.64" fill="#444"/><circle cx="5.7" cy="14.2" r="0.76" fill="#333"/><circle cx="36.7" cy="74.8" r="0.62" fill="#666"/><circle cx="115.1" cy="17.6" r="0.79" fill="#555"/><circle cx="89.8" cy="64.1" r="0.74" fill="#555"/><circle cx="119.8" cy="18.1" r="0.71" fill="#555"/><circle cx="119.3" cy="72.7" r="0.89" fill="#555"/><circle cx="8.3" cy="30.9" r="1.01" fill="#555"/><circle cx="67.7" cy="17.5" r="0.68" fill="#555"/><circle cx="59.4" cy="50.9" r="0.62" fill="#333"/><circle cx="85.8" cy="11.2" r="0.92" fill="#333"/><circle cx="113.1" cy="66.3" r="0.80" fill="#666"/><circle cx="114.9" cy="62.9" r="0.73" fill="#333"/><circle cx="71.0" cy="50.4" r="1.02" fill="#666"/><circle cx="89.2" cy="29.2" r="0.61" fill="#666"/><circle cx="107.5" cy="18.3" r="0.89" fill="#555"/><circle cx="109.5" cy="38.0" r="1.06" fill="#555"/><circle cx="104.3" cy="49.5" r="0.95" fill="#555"/><circle cx="84.9" cy="105.4" r="0.79" fill="#555"/><circle cx="67.8" cy="77.6" r="0.87" fill="#444"/><circle cx="51.8" cy="12.7" r="0.57" fill="#444"/><circle cx="25.6" cy="64.2" r="1.07" fill="#555"/><circle cx="0.1" cy="61.6" r="1.04" fill="#666"/><circle cx="42.3" cy="60.5" r="0.66" fill="#444"/><circle cx="9.3" cy="113.8" r="1.03" fill="#666"/><circle cx="19.9" cy="33.3" r="0.70" fill="#444"/><circle cx="98.3" cy="88.0" r="0.57" fill="#333"/><circle cx="45.1" cy="98.5" r="0.72" fill="#333"/><circle cx="90.1" cy="88.3" r="0.81" fill="#444"/><circle cx="15.4" cy="87.6" r="0.71" fill="#444"/><circle cx="95.5" cy="21.4" r="0.66" fill="#333"/><circle cx="75.3" cy="86.0" r="0.89" fill="#555"/><circle cx="89.1" cy="24.2" r="0.75" fill="#333"/><circle cx="95.9" cy="94.0" r="0.64" fill="#444"/><circle cx="23.0" cy="27.3" r="0.57" fill="#666"/><circle cx="95.2" cy="35.5" r="0.80" fill="#666"/><circle cx="102.1" cy="53.7" r="0.57" fill="#555"/><circle cx="123.1" cy="93.9" r="0.68" fill="#666"/><circle cx="12.0" cy="61.7" r="0.93" fill="#333"/><circle cx="65.2" cy="102.4" r="0.58" fill="#666"/><circle cx="58.4" cy="83.9" r="1.03" fill="#444"/><circle cx="23.5" cy="66.6" r="0.77" fill="#444"/><circle cx="11.1" cy="41.1" r="0.61" fill="#444"/><circle cx="78.4" cy="112.2" r="0.67" fill="#333"/><circle cx="57.8" cy="46.8" r="0.78" fill="#666"/><circle cx="68.4" cy="17.4" r="0.56" fill="#555"/><circle cx="90.2" cy="116.8" r="1.10" fill="#333"/><circle cx="18.2" cy="63.3" r="0.98" fill="#555"/><circle cx="107.3" cy="41.0" r="0.62" fill="#333"/><circle cx="61.8" cy="91.3" r="0.99" fill="#444"/><circle cx="36.1" cy="64.5" r="0.69" fill="#444"/><circle cx="104.3" cy="115.6" r="1.04" fill="#333"/><circle cx="55.1" cy="41.1" r="0.96" fill="#333"/><circle cx="117.4" cy="85.7" r="0.97" fill="#333"/><circle cx="57.9" cy="107.0" r="0.91" fill="#333"/><circle cx="95.4" cy="91.9" r="0.70" fill="#666"/><circle cx="73.6" cy="42.1" r="0.72" fill="#444"/><circle cx="34.4" cy="88.5" r="0.71" fill="#333"/><circle cx="71.1" cy="96.8" r="0.57" fill="#333"/><circle cx="6.6" cy="17.0" r="0.75" fill="#555"/><circle cx="124.3" cy="80.2" r="0.68" fill="#666"/><circle cx="16.4" cy="26.4" r="0.75" fill="#444"/><circle cx="76.6" cy="108.3" r="0.95" fill="#333"/><circle cx="35.1" cy="79.4" r="0.90" fill="#444"/><circle cx="58.5" cy="122.9" r="0.99" fill="#333"/><circle cx="43.7" cy="58.4" r="0.68" fill="#666"/><circle cx="22.5" cy="6.3" r="0.92" fill="#444"/><circle cx="69.8" cy="127.0" r="0.88" fill="#333"/><circle cx="16.6" cy="111.4" r="0.93" fill="#444"/><circle cx="128.1" cy="4.3" r="0.87" fill="#666"/><circle cx="92.4" cy="46.4" r="0.81" fill="#444"/><circle cx="36.3" cy="26.4" r="0.86" fill="#555"/><circle cx="100.2" cy="102.9" r="0.75" fill="#444"/><circle cx="106.7" cy="86.9" r="1.05" fill="#333"/><circle cx="81.0" cy="52.5" r="0.63" fill="#444"/><circle cx="64.2" cy="4.9" r="0.64" fill="#333"/><circle cx="98.7" cy="36.9" r="1.06" fill="#555"/><circle cx="62.5" cy="61.6" r="0.84" fill="#333"/><circle cx="104.8" cy="49.3" r="0.56" fill="#444"/><circle cx="106.5" cy="2.9" r="0.92" fill="#555"/><circle cx="67.3" cy="65.7" r="0.85" fill="#666"/><circle cx="58.9" cy="103.2" r="0.87" fill="#333"/><circle cx="70.3" cy="104.6" r="0.75" fill="#333"/><circle cx="89.0" cy="68.4" r="0.71" fill="#333"/><circle cx="3.6" cy="101.4" r="0.89" fill="#666"/><circle cx="40.2" cy="121.7" r="0.70" fill="#444"/><circle cx="9.4" cy="98.7" r="0.92" fill="#555"/><circle cx="117.5" cy="90.1" r="1.01" fill="#444"/><circle cx="63.3" cy="12.0" r="0.62" fill="#555"/><circle cx="127.7" cy="71.3" r="0.77" fill="#333"/><circle cx="87.9" cy="49.5" r="0.96" fill="#444"/><circle cx="119.2" cy="80.4" r="0.76" fill="#333"/><circle cx="110.4" cy="116.5" r="0.93" fill="#555"/><circle cx="32.6" cy="13.1" r="0.71" fill="#555"/><circle cx="104.4" cy="10.2" r="1.07" fill="#333"/><circle cx="82.9" cy="100.4" r="0.67" fill="#333"/><circle cx="74.7" cy="82.1" r="0.90" fill="#666"/><circle cx="54.6" cy="55.7" r="0.84" fill="#444"/><circle cx="39.6" cy="36.8" r="0.88" fill="#555"/><circle cx="24.5" cy="4.0" r="0.61" fill="#444"/><circle cx="56.8" cy="42.7" r="0.61" fill="#555"/><circle cx="95.5" cy="8.0" r="0.82" fill="#333"/><circle cx="41.7" cy="111.4" r="0.90" fill="#444"/><circle cx="117.0" cy="80.6" r="0.99" fill="#333"/><circle cx="0.2" cy="88.1" r="0.61" fill="#555"/><circle cx="19.9" cy="80.7" r="0.61" fill="#666"/><circle cx="96.4" cy="106.9" r="0.99" fill="#333"/><circle cx="47.9" cy="106.7" r="0.66" fill="#555"/><circle cx="49.1" cy="60.1" r="0.92" fill="#333"/><circle cx="32.2" cy="123.3" r="0.81" fill="#333"/><circle cx="15.4" cy="78.2" r="0.76" fill="#333"/><circle cx="64.9" cy="126.1" r="1.07" fill="#333"/><circle cx="64.3" cy="122.8" r="0.94" fill="#333"/><circle cx="15.3" cy="62.8" r="0.74" fill="#444"/><circle cx="120.3" cy="50.1" r="0.71" fill="#666"/><circle cx="84.2" cy="100.4" r="0.60" fill="#333"/><circle cx="38.8" cy="44.1" r="1.02" fill="#666"/><circle cx="6.6" cy="55.1" r="0.68" fill="#333"/><circle cx="19.1" cy="126.7" r="0.85" fill="#666"/><circle cx="129.0" cy="70.9" r="0.76" fill="#444"/><circle cx="12.0" cy="46.6" r="1.00" fill="#333"/><circle cx="107.2" cy="18.4" r="1.00" fill="#333"/><circle cx="32.9" cy="60.0" r="0.76" fill="#333"/><circle cx="7.0" cy="28.6" r="1.09" fill="#666"/><circle cx="1.6" cy="68.0" r="1.08" fill="#666"/><circle cx="66.5" cy="6.9" r="0.77" fill="#666"/><circle cx="112.7" cy="123.1" r="0.91" fill="#333"/><circle cx="28.2" cy="55.2" r="0.95" fill="#666"/><circle cx="119.9" cy="49.6" r="1.10" fill="#444"/><circle cx="116.8" cy="19.4" r="0.98" fill="#666"/><circle cx="109.3" cy="10.1" r="0.75" fill="#666"/><circle cx="55.2" cy="35.5" r="0.81" fill="#555"/><circle cx="0.3" cy="83.0" r="0.97" fill="#666"/><circle cx="10.1" cy="90.1" r="0.57" fill="#666"/><circle cx="116.0" cy="25.7" r="0.56" fill="#666"/><circle cx="125.9" cy="78.5" r="0.62" fill="#444"/><circle cx="10.1" cy="47.8" r="0.89" fill="#333"/><circle cx="24.2" cy="56.2" r="0.70" fill="#555"/><circle cx="43.8" cy="28.1" r="0.71" fill="#333"/><circle cx="37.2" cy="13.9" r="0.77" fill="#555"/><circle cx="48.3" cy="62.6" r="0.87" fill="#444"/><circle cx="126.4" cy="18.4" r="0.56" fill="#333"/><circle cx="95.8" cy="17.5" r="0.81" fill="#333"/><circle cx="1.1" cy="101.0" r="0.78" fill="#444"/><circle cx="103.9" cy="7.3" r="0.83" fill="#333"/><circle cx="90.7" cy="115.8" r="0.98" fill="#555"/><circle cx="57.6" cy="13.4" r="0.62" fill="#555"/><circle cx="74.5" cy="36.1" r="0.87" fill="#666"/><circle cx="129.4" cy="39.5" r="0.64" fill="#333"/><circle cx="84.5" cy="7.2" r="0.67" fill="#666"/><circle cx="12.9" cy="67.3" r="1.00" fill="#555"/><circle cx="108.7" cy="18.1" r="0.74" fill="#666"/><circle cx="0.5" cy="74.0" r="0.86" fill="#333"/><circle cx="7.8" cy="11.5" r="0.74" fill="#444"/><circle cx="49.0" cy="44.6" r="1.00" fill="#666"/><circle cx="102.7" cy="97.1" r="0.69" fill="#333"/><circle cx="82.0" cy="50.9" r="0.90" fill="#444"/><circle cx="92.0" cy="77.6" r="1.03" fill="#444"/><circle cx="77.8" cy="74.1" r="1.05" fill="#555"/><circle cx="73.5" cy="1.3" r="0.57" fill="#666"/><circle cx="88.3" cy="85.1" r="0.56" fill="#666"/><circle cx="15.4" cy="94.5" r="0.89" fill="#444"/><circle cx="70.3" cy="91.2" r="0.94" fill="#333"/><circle cx="5.6" cy="93.8" r="0.72" fill="#333"/><circle cx="125.3" cy="89.1" r="0.70" fill="#666"/><circle cx="98.8" cy="33.9" r="0.71" fill="#333"/><circle cx="115.1" cy="42.3" r="0.91" fill="#666"/><circle cx="61.0" cy="20.4" r="0.67" fill="#555"/><circle cx="41.2" cy="80.1" r="0.80" fill="#444"/><circle cx="46.2" cy="10.4" r="0.78" fill="#666"/><circle cx="22.9" cy="18.2" r="0.82" fill="#666"/><circle cx="122.5" cy="45.1" r="0.56" fill="#666"/><circle cx="35.1" cy="64.7" r="0.84" fill="#444"/><circle cx="72.7" cy="86.8" r="0.78" fill="#555"/><circle cx="109.5" cy="38.5" r="0.61" fill="#555"/><circle cx="55.7" cy="110.8" r="0.83" fill="#666"/><circle cx="82.4" cy="83.9" r="1.08" fill="#333"/><circle cx="90.3" cy="14.5" r="0.60" fill="#555"/><circle cx="110.6" cy="76.3" r="0.58" fill="#666"/><circle cx="22.6" cy="43.8" r="0.97" fill="#333"/><circle cx="53.5" cy="43.1" r="0.60" fill="#333"/><circle cx="38.3" cy="44.2" r="1.10" fill="#666"/><circle cx="8.2" cy="39.5" r="0.65" fill="#333"/><circle cx="103.6" cy="117.4" r="0.83" fill="#333"/><circle cx="60.5" cy="9.4" r="0.78" fill="#555"/><circle cx="85.4" cy="89.3" r="0.73" fill="#555"/><circle cx="123.9" cy="61.1" r="0.61" fill="#444"/><circle cx="15.0" cy="70.4" r="0.60" fill="#666"/><circle cx="57.3" cy="35.7" r="0.85" fill="#666"/></g>
<ellipse cx="11.8" cy="115" rx="9.4" ry="12.3" fill="#f0d8d8" fill-opacity="0.6" stroke="#e8a0a0" stroke-width="0.7"/>
<g fill="#1e1e1e" filter="url(#fe2)"><circle cx="6.7" cy="34.9" r="2.80"/><circle cx="8.0" cy="8.5" r="1.90"/><circle cx="14.6" cy="5.3" r="1.90"/><circle cx="33.8" cy="2.3" r="1.90"/><circle cx="23.1" cy="28.3" r="2.30"/><circle cx="32.5" cy="23.6" r="1.70"/><circle cx="33.1" cy="27.3" r="1.70"/><circle cx="42.9" cy="19.8" r="1.50"/><circle cx="46.3" cy="18.9" r="1.30"/><circle cx="44.8" cy="34.9" r="2.30"/><circle cx="48.5" cy="36.8" r="1.50"/><circle cx="35.3" cy="35.8" r="1.50"/><circle cx="3.3" cy="39.6" r="1.50"/><circle cx="2.3" cy="45.3" r="1.30"/><circle cx="8.9" cy="41.5" r="1.10"/><circle cx="24.0" cy="47.1" r="1.50"/><circle cx="19.3" cy="45.3" r="1.30"/><circle cx="41.9" cy="44.3" r="1.90"/><circle cx="45.7" cy="45.3" r="1.50"/><circle cx="16.5" cy="16.0" r="1.30"/><circle cx="15.5" cy="10.4" r="1.30"/><circle cx="50.4" cy="9.4" r="1.50"/><circle cx="56.1" cy="19.8" r="1.30"/><circle cx="63.6" cy="14.1" r="1.50"/><circle cx="58.9" cy="2.8" r="1.10"/><circle cx="29.7" cy="11.3" r="1.10"/><circle cx="22.1" cy="40.5" r="1.10"/><circle cx="5.2" cy="56.6" r="1.30"/><circle cx="17.4" cy="51.9" r="1.10"/><circle cx="18.4" cy="60.3" r="1.30"/><circle cx="11.8" cy="62.2" r="1.50"/><circle cx="30.6" cy="56.6" r="1.90"/><circle cx="41.9" cy="54.7" r="1.50"/><circle cx="29.7" cy="3.8" r="1.10"/><circle cx="37.2" cy="10.4" r="1.10"/><circle cx="46.6" cy="5.7" r="1.10"/><circle cx="24.0" cy="22.6" r="1.10"/><circle cx="10.8" cy="22.6" r="1.10"/><circle cx="1.4" cy="18.9" r="1.10"/><circle cx="111.6" cy="3.8" r="2.30"/><circle cx="121.1" cy="8.5" r="1.90"/><circle cx="105.0" cy="4.7" r="1.50"/><circle cx="83.4" cy="10.9" r="1.70"/><circle cx="104.1" cy="10.4" r="1.70"/><circle cx="84.9" cy="20.4" r="1.70"/><circle cx="109.8" cy="24.5" r="2.30"/><circle cx="112.6" cy="33.0" r="2.30"/><circle cx="119.2" cy="28.3" r="1.70"/><circle cx="126.7" cy="24.5" r="2.30"/><circle cx="128.5" cy="27.5" r="1.50"/><circle cx="100.3" cy="34.9" r="1.50"/><circle cx="93.7" cy="45.3" r="1.50"/><circle cx="117.3" cy="44.3" r="1.70"/><circle cx="115.4" cy="47.1" r="1.50"/><circle cx="109.8" cy="50.9" r="1.30"/><circle cx="121.1" cy="50.9" r="1.30"/><circle cx="74.0" cy="36.8" r="1.90"/><circle cx="77.3" cy="29.2" r="1.90"/><circle cx="83.4" cy="34.9" r="1.50"/><circle cx="88.1" cy="45.3" r="1.50"/><circle cx="68.3" cy="28.3" r="1.50"/><circle cx="67.3" cy="2.8" r="1.10"/><circle cx="73.9" cy="15.1" r="1.10"/><circle cx="90.0" cy="5.7" r="1.10"/><circle cx="96.6" cy="15.1" r="1.10"/><circle cx="128.6" cy="12.3" r="1.10"/><circle cx="126.7" cy="60.3" r="1.10"/><circle cx="94.7" cy="24.5" r="1.10"/><circle cx="119.2" cy="36.8" r="1.10"/><circle cx="123.0" cy="56.6" r="1.10"/><circle cx="2.3" cy="99.9" r="2.60"/><circle cx="8.9" cy="82.0" r="1.90"/><circle cx="27.8" cy="105.5" r="1.90"/><circle cx="17.4" cy="118.7" r="2.30"/><circle cx="44.8" cy="112.1" r="1.90"/><circle cx="35.3" cy="110.3" r="1.70"/><circle cx="39.1" cy="99.0" r="1.50"/><circle cx="55.1" cy="90.5" r="1.70"/><circle cx="40.1" cy="95.2" r="1.70"/><circle cx="45.7" cy="115.0" r="1.70"/><circle cx="24.0" cy="125.3" r="1.70"/><circle cx="59.8" cy="122.5" r="1.50"/><circle cx="56.1" cy="106.5" r="1.30"/><circle cx="36.3" cy="121.6" r="1.30"/><circle cx="61.7" cy="106.5" r="1.50"/><circle cx="17.4" cy="98.0" r="1.30"/><circle cx="12.7" cy="76.3" r="1.30"/><circle cx="2.3" cy="69.7" r="1.30"/><circle cx="11.8" cy="91.4" r="1.10"/><circle cx="44.8" cy="127.2" r="1.30"/><circle cx="56.1" cy="127.2" r="1.10"/><circle cx="31.6" cy="115.0" r="1.10"/><circle cx="22.1" cy="98.9" r="1.10"/><circle cx="16.5" cy="87.6" r="1.10"/><circle cx="97.5" cy="86.7" r="2.80"/><circle cx="98.4" cy="79.1" r="1.90"/><circle cx="88.1" cy="81.0" r="1.90"/><circle cx="74.9" cy="102.7" r="2.80"/><circle cx="67.3" cy="82.9" r="1.90"/><circle cx="124.8" cy="83.9" r="1.90"/><circle cx="124.8" cy="78.2" r="1.50"/><circle cx="126.5" cy="93.0" r="1.50"/><circle cx="92.8" cy="105.5" r="1.50"/><circle cx="102.2" cy="103.7" r="1.50"/><circle cx="115.4" cy="98.0" r="1.50"/><circle cx="106.9" cy="112.1" r="1.50"/><circle cx="84.3" cy="113.1" r="1.70"/><circle cx="81.5" cy="123.5" r="2.00"/><circle cx="91.8" cy="125.3" r="1.90"/><circle cx="101.3" cy="123.5" r="1.70"/><circle cx="113.5" cy="119.7" r="1.30"/><circle cx="119.2" cy="123.5" r="1.70"/><circle cx="129.6" cy="127.2" r="1.70"/><circle cx="124.8" cy="104.6" r="1.30"/><circle cx="72.0" cy="119.7" r="1.30"/><circle cx="68.3" cy="110.3" r="1.30"/><circle cx="123.0" cy="112.1" r="1.30"/><circle cx="128.6" cy="117.8" r="1.30"/><circle cx="115.4" cy="110.3" r="1.10"/><circle cx="92.8" cy="117.8" r="1.10"/><circle cx="99.4" cy="114.0" r="1.10"/><circle cx="66.4" cy="115.9" r="1.30"/></g>
<rect x="-50" y="-50" width="300" height="300" fill="#b4b4f6" opacity="0.32" mask="url(#me3)" style="mix-blend-mode:multiply"/>
<rect x="-50" y="-50" width="300" height="300" fill="#7070ee" opacity="0.70" mask="url(#me4)"/>
<rect x="-50" y="-50" width="300" height="300" fill="#e47474" opacity="0.90" mask="url(#me5)"/>
<g fill="#2f7f2f"><circle cx="115.2" cy="89.3" r="0.95"/><circle cx="30.3" cy="59.7" r="0.95"/><circle cx="74.0" cy="47.2" r="0.95"/><circle cx="84.6" cy="53.1" r="0.95"/><circle cx="90.5" cy="94.2" r="0.95"/><circle cx="37.5" cy="64.8" r="0.95"/><circle cx="72.7" cy="52.6" r="0.95"/><circle cx="64.5" cy="49.3" r="0.95"/><circle cx="65.5" cy="63.0" r="0.95"/><circle cx="74.6" cy="60.6" r="0.95"/><circle cx="101.9" cy="77.7" r="0.95"/><circle cx="43.6" cy="85.0" r="0.95"/><circle cx="49.8" cy="45.5" r="0.95"/><circle cx="81.0" cy="92.4" r="0.95"/><circle cx="78.0" cy="40.8" r="0.95"/><circle cx="45.6" cy="50.9" r="0.95"/><circle cx="41.8" cy="79.2" r="0.95"/><circle cx="112.7" cy="95.5" r="0.95"/><circle cx="75.4" cy="43.9" r="0.95"/><circle cx="96.6" cy="71.8" r="0.95"/><circle cx="109.8" cy="85.9" r="0.95"/><circle cx="75.8" cy="72.1" r="0.95"/><circle cx="30.6" cy="73.0" r="0.95"/><circle cx="69.4" cy="61.2" r="0.95"/><circle cx="86.7" cy="53.4" r="0.95"/><circle cx="26.9" cy="88.7" r="0.95"/><circle cx="104.0" cy="94.5" r="0.95"/><circle cx="54.8" cy="55.0" r="0.95"/><circle cx="74.6" cy="65.7" r="0.95"/><circle cx="62.7" cy="62.0" r="0.95"/><circle cx="61.3" cy="78.1" r="0.95"/><circle cx="56.7" cy="55.4" r="0.95"/><circle cx="80.2" cy="60.2" r="0.95"/><circle cx="53.1" cy="83.2" r="0.95"/><circle cx="74.8" cy="68.1" r="0.95"/><circle cx="99.6" cy="66.3" r="0.95"/><circle cx="86.3" cy="91.1" r="0.95"/><circle cx="116.0" cy="90.2" r="0.95"/><circle cx="35.4" cy="75.3" r="0.95"/><circle cx="56.1" cy="80.6" r="0.95"/><circle cx="106.6" cy="91.8" r="0.95"/><circle cx="61.5" cy="82.2" r="0.95"/><circle cx="42.1" cy="49.9" r="0.95"/><circle cx="90.6" cy="92.0" r="0.95"/><circle cx="32.9" cy="64.7" r="0.95"/><circle cx="21.1" cy="68.1" r="0.95"/><circle cx="73.3" cy="69.6" r="0.95"/><circle cx="93.3" cy="81.6" r="0.95"/><circle cx="46.3" cy="51.6" r="0.95"/><circle cx="68.1" cy="77.3" r="0.95"/><circle cx="76.9" cy="41.5" r="0.95"/><circle cx="47.3" cy="85.9" r="0.95"/><circle cx="83.3" cy="54.7" r="0.95"/><circle cx="50.9" cy="79.0" r="0.95"/><circle cx="89.2" cy="66.4" r="0.95"/><circle cx="111.1" cy="85.9" r="0.95"/><circle cx="32.0" cy="58.2" r="0.95"/><circle cx="82.8" cy="81.8" r="0.95"/><circle cx="87.6" cy="96.9" r="0.95"/><circle cx="95.8" cy="81.2" r="0.95"/><circle cx="17.3" cy="75.9" r="0.95"/><circle cx="86.3" cy="78.1" r="0.95"/><circle cx="90.2" cy="57.6" r="0.95"/><circle cx="95.7" cy="90.2" r="0.95"/><circle cx="41.9" cy="67.7" r="0.95"/><circle cx="92.8" cy="60.5" r="0.95"/><circle cx="49.1" cy="71.0" r="0.95"/><circle cx="65.2" cy="55.9" r="0.95"/><circle cx="69.2" cy="40.6" r="0.95"/><circle cx="48.3" cy="86.3" r="0.95"/></g>
<rect x="-50" y="-50" width="300" height="300" fill="#e4e450" opacity="0.90" mask="url(#me6)"/>
<rect x="-50" y="-50" width="300" height="300" fill="#f4f0a0" opacity="0.70" mask="url(#me7)" style="mix-blend-mode:multiply"/>
<rect x="-50" y="-50" width="300" height="300" fill="#e4e450" opacity="0.95" mask="url(#me8)"/>
<rect x="-50" y="-50" width="300" height="300" fill="#e4e450" opacity="0.90" mask="url(#me9)"/>
<g fill="none" stroke="#b050c0" stroke-width="0.60" opacity="0.80"><circle cx="65.2" cy="65.3" r="4.30"/></g>
<g fill="#1e1e1e" filter="url(#fe10)"><circle cx="36.6" cy="44.0" r="1.60" fill="#222270"/><circle cx="56.6" cy="38.5" r="1.60" fill="#222270"/><circle cx="104.1" cy="58.5" r="2.60" fill="#202060"/><circle cx="23.8" cy="54.0" r="1.40" fill="#222270"/><circle cx="30.9" cy="82.4" r="1.50" fill="#222270"/><circle cx="88.0" cy="101.0" r="1.40" fill="#222270"/><circle cx="115.0" cy="88.0" r="1.40" fill="#222270"/><circle cx="73.8" cy="91.0" r="1.50" fill="#222270"/><circle cx="48.0" cy="84.0" r="1.30" fill="#222270"/><circle cx="112.0" cy="66.0" r="1.40" fill="#222270"/></g>
<g fill="none" stroke="#7070ee" stroke-width="0.60" opacity="0.60"><circle cx="5.2" cy="124.4" r="3.40"/></g>
</g></svg></g>
<g transform="translate(206.00 344.00)">
<svg x="0" y="0" width="130.00" height="130.00" viewBox="0 0 130.00 130.00" overflow="hidden"><g filter="url(#soft)">
<rect width="130.00" height="130.00" fill="#d8d8d8"/>
<rect width="130.00" height="130.00" filter="url(#grainf)"/>
<g fill="#1e1e1e" filter="url(#ff1)"><circle cx="103.1" cy="106.9" r="0.77" fill="#666"/><circle cx="4.8" cy="18.9" r="0.81" fill="#666"/><circle cx="41.5" cy="2.8" r="0.77" fill="#555"/><circle cx="94.9" cy="53.8" r="0.79" fill="#444"/><circle cx="25.1" cy="72.0" r="0.91" fill="#666"/><circle cx="86.2" cy="79.3" r="0.59" fill="#777"/><circle cx="43.6" cy="12.1" r="0.91" fill="#666"/><circle cx="57.9" cy="12.2" r="0.64" fill="#666"/><circle cx="12.7" cy="5.9" r="0.96" fill="#666"/><circle cx="63.3" cy="108.3" r="0.64" fill="#444"/><circle cx="82.4" cy="31.8" r="0.74" fill="#666"/><circle cx="76.6" cy="11.7" r="0.95" fill="#555"/><circle cx="15.2" cy="86.2" r="0.69" fill="#555"/><circle cx="49.4" cy="29.0" r="0.82" fill="#444"/><circle cx="24.5" cy="22.0" r="0.84" fill="#666"/><circle cx="48.7" cy="68.6" r="0.68" fill="#777"/><circle cx="7.0" cy="55.0" r="0.89" fill="#777"/><circle cx="12.5" cy="57.4" r="0.91" fill="#444"/><circle cx="116.0" cy="87.1" r="0.95" fill="#777"/><circle cx="101.9" cy="49.4" r="0.58" fill="#777"/><circle cx="61.2" cy="91.7" r="0.73" fill="#444"/><circle cx="25.0" cy="88.4" r="0.75" fill="#555"/><circle cx="2.4" cy="69.9" r="0.66" fill="#666"/><circle cx="24.4" cy="65.4" r="0.70" fill="#666"/><circle cx="127.6" cy="120.5" r="0.74" fill="#777"/><circle cx="34.8" cy="61.7" r="0.77" fill="#555"/><circle cx="93.8" cy="64.6" r="0.84" fill="#777"/><circle cx="42.0" cy="85.7" r="0.99" fill="#777"/><circle cx="90.3" cy="34.6" r="0.84" fill="#777"/><circle cx="94.8" cy="20.6" r="0.92" fill="#444"/><circle cx="81.1" cy="125.4" r="0.63" fill="#444"/><circle cx="88.7" cy="48.2" r="0.99" fill="#777"/><circle cx="111.0" cy="8.1" r="0.64" fill="#666"/><circle cx="79.7" cy="54.9" r="0.90" fill="#777"/><circle cx="9.9" cy="30.2" r="0.72" fill="#555"/><circle cx="88.5" cy="31.6" r="0.69" fill="#444"/><circle cx="81.6" cy="12.7" r="0.60" fill="#777"/><circle cx="60.2" cy="116.9" r="0.83" fill="#555"/><circle cx="80.2" cy="120.1" r="0.62" fill="#666"/><circle cx="118.0" cy="116.1" r="0.75" fill="#444"/><circle cx="102.9" cy="17.8" r="0.97" fill="#777"/><circle cx="62.3" cy="57.1" r="0.80" fill="#777"/><circle cx="92.6" cy="8.3" r="0.91" fill="#666"/><circle cx="37.2" cy="122.2" r="0.59" fill="#666"/><circle cx="36.4" cy="125.6" r="0.74" fill="#666"/><circle cx="4.1" cy="11.1" r="0.92" fill="#555"/><circle cx="69.6" cy="4.3" r="0.63" fill="#666"/><circle cx="4.2" cy="123.7" r="0.88" fill="#555"/><circle cx="91.1" cy="44.7" r="0.58" fill="#444"/><circle cx="52.0" cy="17.6" r="0.88" fill="#444"/><circle cx="16.6" cy="45.6" r="0.99" fill="#555"/><circle cx="68.3" cy="19.5" r="0.68" fill="#555"/><circle cx="66.0" cy="110.5" r="0.91" fill="#555"/><circle cx="90.4" cy="93.0" r="0.61" fill="#555"/><circle cx="98.4" cy="129.1" r="0.80" fill="#444"/><circle cx="102.2" cy="74.0" r="0.63" fill="#666"/><circle cx="111.1" cy="68.4" r="0.55" fill="#555"/><circle cx="93.1" cy="83.9" r="0.91" fill="#666"/><circle cx="35.3" cy="24.1" r="0.62" fill="#555"/><circle cx="50.0" cy="7.9" r="0.57" fill="#444"/><circle cx="14.9" cy="92.4" r="0.60" fill="#666"/><circle cx="77.4" cy="7.8" r="0.65" fill="#777"/><circle cx="29.3" cy="73.5" r="0.97" fill="#666"/><circle cx="12.1" cy="10.0" r="0.81" fill="#444"/><circle cx="21.9" cy="86.0" r="0.60" fill="#444"/><circle cx="91.3" cy="23.1" r="0.86" fill="#444"/><circle cx="97.5" cy="87.9" r="0.88" fill="#666"/><circle cx="33.2" cy="30.2" r="0.92" fill="#555"/><circle cx="36.1" cy="1.7" r="0.79" fill="#666"/><circle cx="101.0" cy="12.2" r="0.82" fill="#444"/><circle cx="47.1" cy="89.9" r="0.65" fill="#444"/><circle cx="46.8" cy="90.0" r="0.70" fill="#444"/><circle cx="44.7" cy="4.0" r="0.70" fill="#777"/><circle cx="0.3" cy="107.7" r="0.59" fill="#666"/><circle cx="29.9" cy="16.4" r="0.80" fill="#555"/><circle cx="127.0" cy="49.9" r="0.82" fill="#777"/><circle cx="120.7" cy="32.9" r="0.68" fill="#444"/><circle cx="25.0" cy="58.3" r="0.91" fill="#444"/><circle cx="123.2" cy="105.2" r="0.78" fill="#444"/><circle cx="19.8" cy="51.1" r="0.77" fill="#777"/><circle cx="28.0" cy="83.7" r="0.72" fill="#777"/><circle cx="113.1" cy="111.1" r="0.70" fill="#666"/><circle cx="41.5" cy="37.2" r="0.81" fill="#666"/><circle cx="29.0" cy="101.4" r="0.63" fill="#777"/><circle cx="80.9" cy="99.9" r="0.97" fill="#444"/><circle cx="25.2" cy="53.5" r="0.89" fill="#555"/><circle cx="67.6" cy="124.0" r="0.78" fill="#777"/><circle cx="119.7" cy="114.8" r="0.70" fill="#777"/><circle cx="112.7" cy="84.4" r="0.91" fill="#444"/><circle cx="34.0" cy="5.4" r="0.82" fill="#555"/><circle cx="106.6" cy="65.8" r="0.90" fill="#444"/><circle cx="11.2" cy="108.3" r="0.89" fill="#555"/><circle cx="45.6" cy="20.6" r="0.88" fill="#555"/><circle cx="22.8" cy="23.9" r="0.83" fill="#777"/><circle cx="96.1" cy="59.5" r="0.60" fill="#555"/><circle cx="59.2" cy="104.5" r="0.81" fill="#555"/><circle cx="126.2" cy="81.4" r="0.96" fill="#666"/><circle cx="97.9" cy="7.9" r="0.84" fill="#777"/><circle cx="129.2" cy="59.2" r="0.58" fill="#666"/><circle cx="116.0" cy="13.2" r="0.97" fill="#666"/><circle cx="13.3" cy="108.6" r="0.72" fill="#555"/><circle cx="48.1" cy="99.1" r="0.88" fill="#444"/><circle cx="123.0" cy="115.6" r="0.62" fill="#777"/><circle cx="48.6" cy="116.1" r="0.97" fill="#555"/><circle cx="88.2" cy="62.4" r="0.58" fill="#444"/><circle cx="51.9" cy="25.8" r="0.79" fill="#555"/><circle cx="56.9" cy="33.2" r="0.79" fill="#666"/><circle cx="38.3" cy="89.5" r="0.67" fill="#444"/><circle cx="65.1" cy="32.5" r="0.99" fill="#444"/><circle cx="68.5" cy="106.3" r="0.80" fill="#666"/><circle cx="22.1" cy="4.6" r="0.56" fill="#555"/><circle cx="74.2" cy="24.8" r="0.68" fill="#666"/><circle cx="94.6" cy="91.3" r="0.95" fill="#555"/><circle cx="92.0" cy="22.3" r="0.55" fill="#666"/><circle cx="75.0" cy="45.5" r="0.76" fill="#555"/><circle cx="61.8" cy="115.7" r="0.83" fill="#444"/><circle cx="85.3" cy="11.4" r="0.74" fill="#555"/><circle cx="79.2" cy="35.0" r="0.84" fill="#444"/><circle cx="62.7" cy="83.7" r="0.93" fill="#666"/><circle cx="67.7" cy="83.3" r="0.71" fill="#777"/><circle cx="97.4" cy="12.3" r="0.89" fill="#777"/><circle cx="116.5" cy="21.1" r="0.67" fill="#666"/><circle cx="106.3" cy="127.6" r="0.58" fill="#444"/><circle cx="7.9" cy="56.0" r="0.59" fill="#666"/><circle cx="45.7" cy="8.2" r="0.87" fill="#666"/><circle cx="50.5" cy="77.1" r="0.93" fill="#444"/><circle cx="96.3" cy="36.8" r="0.77" fill="#666"/><circle cx="116.2" cy="31.3" r="0.56" fill="#444"/><circle cx="100.8" cy="70.5" r="0.72" fill="#555"/><circle cx="101.9" cy="83.3" r="0.94" fill="#444"/><circle cx="14.0" cy="103.2" r="0.61" fill="#444"/><circle cx="4.0" cy="33.4" r="0.65" fill="#666"/><circle cx="99.3" cy="115.7" r="0.62" fill="#444"/><circle cx="103.1" cy="77.3" r="0.95" fill="#777"/><circle cx="79.6" cy="63.4" r="0.70" fill="#777"/><circle cx="25.1" cy="23.1" r="0.60" fill="#555"/><circle cx="50.8" cy="76.4" r="0.76" fill="#666"/><circle cx="77.0" cy="77.5" r="0.64" fill="#555"/><circle cx="95.8" cy="52.9" r="0.73" fill="#444"/><circle cx="119.4" cy="4.5" r="0.69" fill="#777"/><circle cx="83.9" cy="129.7" r="0.75" fill="#666"/><circle cx="46.9" cy="92.7" r="0.72" fill="#444"/><circle cx="53.5" cy="76.6" r="0.69" fill="#777"/><circle cx="31.3" cy="59.9" r="0.81" fill="#666"/><circle cx="74.8" cy="88.0" r="0.76" fill="#666"/><circle cx="9.3" cy="56.3" r="0.77" fill="#444"/><circle cx="78.9" cy="62.5" r="0.84" fill="#444"/><circle cx="107.9" cy="127.0" r="0.78" fill="#666"/><circle cx="129.8" cy="20.9" r="0.63" fill="#444"/><circle cx="52.8" cy="77.9" r="0.56" fill="#555"/><circle cx="79.6" cy="69.7" r="0.92" fill="#666"/><circle cx="108.1" cy="50.2" r="0.87" fill="#444"/><circle cx="80.5" cy="54.4" r="0.63" fill="#666"/><circle cx="4.9" cy="70.5" r="0.64" fill="#444"/><circle cx="106.8" cy="61.8" r="0.60" fill="#777"/><circle cx="62.9" cy="121.5" r="0.76" fill="#555"/><circle cx="48.7" cy="18.7" r="0.65" fill="#555"/><circle cx="112.8" cy="35.0" r="0.65" fill="#777"/><circle cx="48.1" cy="48.2" r="0.89" fill="#666"/><circle cx="109.3" cy="96.6" r="0.96" fill="#444"/><circle cx="65.2" cy="26.1" r="0.99" fill="#444"/><circle cx="87.6" cy="83.0" r="0.56" fill="#444"/><circle cx="95.2" cy="15.4" r="0.82" fill="#555"/><circle cx="65.7" cy="98.4" r="0.78" fill="#777"/><circle cx="126.6" cy="115.0" r="0.63" fill="#555"/><circle cx="99.7" cy="100.2" r="0.55" fill="#666"/><circle cx="27.8" cy="73.8" r="0.62" fill="#444"/><circle cx="3.8" cy="13.7" r="0.78" fill="#555"/><circle cx="86.5" cy="94.8" r="0.80" fill="#777"/><circle cx="11.6" cy="112.7" r="0.82" fill="#555"/><circle cx="122.6" cy="87.3" r="0.64" fill="#666"/><circle cx="54.8" cy="90.6" r="0.85" fill="#777"/><circle cx="27.9" cy="38.7" r="0.88" fill="#666"/><circle cx="98.2" cy="84.8" r="0.69" fill="#666"/><circle cx="52.8" cy="46.6" r="0.73" fill="#666"/><circle cx="101.7" cy="78.7" r="0.84" fill="#666"/><circle cx="85.3" cy="79.3" r="0.78" fill="#444"/><circle cx="19.5" cy="29.1" r="0.66" fill="#444"/><circle cx="125.9" cy="70.9" r="0.58" fill="#444"/><circle cx="63.7" cy="16.2" r="0.70" fill="#666"/><circle cx="70.1" cy="0.5" r="0.81" fill="#555"/><circle cx="35.0" cy="41.7" r="0.88" fill="#666"/><circle cx="129.2" cy="75.2" r="0.96" fill="#555"/><circle cx="39.9" cy="128.2" r="0.64" fill="#777"/><circle cx="127.8" cy="3.5" r="0.71" fill="#666"/><circle cx="118.2" cy="120.2" r="0.81" fill="#777"/><circle cx="49.7" cy="73.3" r="0.92" fill="#444"/><circle cx="24.2" cy="72.8" r="0.99" fill="#555"/><circle cx="68.1" cy="32.3" r="0.63" fill="#555"/><circle cx="78.9" cy="45.9" r="0.80" fill="#555"/><circle cx="20.8" cy="16.4" r="0.91" fill="#777"/><circle cx="7.1" cy="10.4" r="0.80" fill="#666"/><circle cx="48.5" cy="52.7" r="0.78" fill="#555"/><circle cx="54.1" cy="76.9" r="0.74" fill="#777"/><circle cx="49.5" cy="72.9" r="0.82" fill="#555"/><circle cx="6.5" cy="95.2" r="0.94" fill="#777"/><circle cx="86.0" cy="50.9" r="0.83" fill="#777"/><circle cx="43.2" cy="79.6" r="0.86" fill="#444"/><circle cx="91.8" cy="12.9" r="0.63" fill="#777"/><circle cx="88.1" cy="95.0" r="0.90" fill="#444"/><circle cx="46.5" cy="24.3" r="0.57" fill="#777"/><circle cx="0.9" cy="115.0" r="0.86" fill="#444"/><circle cx="26.1" cy="20.7" r="0.56" fill="#666"/><circle cx="31.9" cy="18.9" r="0.72" fill="#555"/><circle cx="42.6" cy="91.2" r="0.65" fill="#444"/><circle cx="120.5" cy="82.2" r="0.76" fill="#444"/><circle cx="28.1" cy="73.6" r="0.83" fill="#444"/><circle cx="73.8" cy="29.4" r="0.90" fill="#666"/><circle cx="111.9" cy="35.7" r="0.74" fill="#666"/><circle cx="58.3" cy="45.3" r="0.60" fill="#777"/><circle cx="113.3" cy="35.0" r="0.65" fill="#444"/><circle cx="10.1" cy="119.5" r="0.62" fill="#444"/><circle cx="106.6" cy="44.4" r="0.74" fill="#555"/><circle cx="25.1" cy="127.8" r="0.67" fill="#555"/><circle cx="28.9" cy="13.6" r="0.65" fill="#444"/><circle cx="89.8" cy="42.1" r="0.90" fill="#444"/><circle cx="120.2" cy="94.2" r="0.80" fill="#555"/><circle cx="110.0" cy="123.1" r="0.96" fill="#777"/><circle cx="36.1" cy="73.3" r="0.72" fill="#666"/><circle cx="102.4" cy="61.0" r="0.84" fill="#444"/></g>
<circle cx="16.7" cy="117" r="13" fill="#f0d8d8" fill-opacity="0.6" stroke="#e8a0a0" stroke-width="0.7"/>
<g fill="#1e1e1e" filter="url(#ff2)"><circle cx="25.1" cy="2.8" r="1.50"/><circle cx="49.8" cy="5.2" r="2.20"/><circle cx="56.1" cy="7.4" r="1.70"/><circle cx="13.9" cy="21.4" r="1.50"/><circle cx="35.3" cy="21.4" r="1.50"/><circle cx="23.2" cy="23.2" r="1.10"/><circle cx="49.2" cy="30.6" r="3.30"/><circle cx="4.6" cy="44.6" r="1.90"/><circle cx="26.0" cy="56.6" r="1.50"/><circle cx="60.4" cy="49.2" r="2.20"/><circle cx="61.3" cy="1.9" r="1.10"/><circle cx="44.6" cy="15.8" r="1.10"/><circle cx="52.0" cy="13.9" r="1.10"/><circle cx="91.0" cy="17.6" r="3.30"/><circle cx="104.0" cy="9.3" r="1.70"/><circle cx="117.0" cy="17.6" r="2.20"/><circle cx="89.1" cy="30.6" r="1.90"/><circle cx="81.7" cy="26.0" r="1.50"/><circle cx="115.1" cy="39.0" r="1.90"/><circle cx="124.4" cy="45.5" r="1.70"/><circle cx="103.1" cy="47.4" r="1.70"/><circle cx="68.7" cy="6.5" r="1.10"/><circle cx="77.1" cy="11.1" r="1.10"/><circle cx="108.6" cy="22.3" r="1.10"/><circle cx="128.1" cy="34.4" r="1.30"/><circle cx="120.7" cy="50.1" r="1.30"/><circle cx="78.9" cy="55.7" r="1.50"/><circle cx="25.1" cy="68.3" r="2.60"/><circle cx="19.5" cy="74.3" r="2.20"/><circle cx="39.9" cy="75.2" r="1.90"/><circle cx="45.5" cy="84.5" r="2.80"/><circle cx="8.4" cy="89.1" r="2.60"/><circle cx="18.6" cy="100.3" r="1.50"/><circle cx="20.4" cy="95.6" r="1.50"/><circle cx="42.7" cy="97.5" r="1.90"/><circle cx="40.9" cy="104.9" r="1.90"/><circle cx="46.4" cy="106.8" r="1.50"/><circle cx="6.5" cy="112.4" r="1.50"/><circle cx="37.1" cy="117.9" r="2.20"/><circle cx="49.2" cy="115.1" r="1.90"/><circle cx="52.9" cy="118.9" r="1.90"/><circle cx="36.2" cy="124.4" r="2.40"/><circle cx="29.7" cy="125.4" r="1.10"/><circle cx="24.1" cy="85.4" r="1.10"/><circle cx="28.8" cy="72.4" r="1.90"/><circle cx="2.8" cy="91.9" r="1.10"/><circle cx="104.0" cy="85.4" r="1.90"/><circle cx="127.2" cy="89.1" r="2.20"/><circle cx="128.5" cy="93.5" r="1.50"/><circle cx="89.1" cy="100.3" r="1.50"/><circle cx="106.8" cy="98.4" r="1.50"/><circle cx="104.0" cy="104.9" r="1.90"/><circle cx="101.5" cy="104.9" r="1.50"/><circle cx="98.4" cy="112.4" r="2.20"/><circle cx="116.1" cy="110.5" r="1.90"/><circle cx="127.2" cy="118.9" r="2.20"/><circle cx="113.3" cy="121.6" r="1.90"/><circle cx="72.4" cy="120.7" r="1.90"/><circle cx="72.4" cy="128.1" r="1.50"/><circle cx="89.1" cy="127.2" r="1.50"/><circle cx="120.7" cy="128.1" r="1.50"/><circle cx="68.7" cy="115.1" r="1.10"/><circle cx="81.7" cy="111.4" r="1.10"/><circle cx="122.6" cy="101.2" r="1.10"/><circle cx="116.1" cy="83.6" r="1.10"/><circle cx="102.1" cy="70.6" r="1.50"/></g>
<path d="M8.0 0.5 C8.5 0.1 10.3 0.2 10.8 0.8 C11.3 1.4 11.1 3.1 11.0 4.0 C10.9 4.9 10.9 5.8 10.4 6.2 C9.9 6.6 8.6 6.7 8.2 6.2 C7.8 5.7 7.8 4.0 7.8 3.0 C7.8 2.0 7.5 0.9 8.0 0.5Z" fill="#111" filter="url(#ff3)"/>
<g fill="#1e1e1e" filter="url(#ff4)"><circle cx="31.2" cy="38.1" r="2.20" fill="#602060"/><circle cx="70.6" cy="104.0" r="2.60" fill="#401040"/></g>
<g fill="none" stroke="#d24fd2" stroke-width="0.80" opacity="0.90"><circle cx="31.2" cy="38.1" r="2.60"/><circle cx="70.6" cy="104.0" r="3.00"/></g>
<rect x="-50" y="-50" width="300" height="300" fill="#b4b4f6" opacity="0.32" mask="url(#mf5)" style="mix-blend-mode:multiply"/>
<rect x="-50" y="-50" width="300" height="300" fill="#7070ee" opacity="0.72" mask="url(#mf6)"/>
<rect x="-50" y="-50" width="300" height="300" fill="#e47474" opacity="0.90" mask="url(#mf7)"/>
<g fill="#2f7f2f"><circle cx="47.0" cy="62.5" r="0.95"/><circle cx="54.2" cy="58.1" r="0.95"/><circle cx="53.2" cy="85.5" r="0.95"/><circle cx="33.7" cy="82.5" r="0.95"/><circle cx="96.6" cy="40.3" r="0.95"/><circle cx="81.5" cy="38.5" r="0.95"/><circle cx="29.2" cy="40.3" r="0.95"/><circle cx="45.2" cy="55.0" r="0.95"/><circle cx="102.7" cy="68.0" r="0.95"/><circle cx="39.6" cy="59.9" r="0.95"/><circle cx="109.5" cy="63.9" r="0.95"/><circle cx="119.4" cy="61.8" r="0.95"/><circle cx="103.4" cy="59.1" r="0.95"/><circle cx="79.7" cy="64.9" r="0.95"/><circle cx="30.2" cy="52.8" r="0.95"/><circle cx="48.0" cy="70.1" r="0.95"/><circle cx="85.7" cy="52.0" r="0.95"/><circle cx="41.5" cy="66.4" r="0.95"/><circle cx="83.0" cy="33.2" r="0.95"/><circle cx="28.1" cy="54.1" r="0.95"/><circle cx="113.9" cy="56.3" r="0.95"/><circle cx="39.6" cy="38.3" r="0.95"/><circle cx="64.9" cy="69.5" r="0.95"/><circle cx="61.4" cy="76.6" r="0.95"/><circle cx="65.3" cy="63.7" r="0.95"/><circle cx="10.3" cy="82.2" r="0.95"/><circle cx="40.7" cy="60.1" r="0.95"/><circle cx="22.3" cy="92.4" r="0.95"/><circle cx="52.3" cy="50.9" r="0.95"/><circle cx="29.0" cy="59.0" r="0.95"/><circle cx="93.4" cy="82.0" r="0.95"/><circle cx="28.8" cy="51.4" r="0.95"/><circle cx="28.9" cy="65.5" r="0.95"/><circle cx="86.2" cy="83.0" r="0.95"/><circle cx="66.8" cy="80.0" r="0.95"/><circle cx="103.8" cy="66.4" r="0.95"/><circle cx="28.4" cy="75.5" r="0.95"/><circle cx="45.4" cy="92.8" r="0.95"/><circle cx="24.2" cy="79.7" r="0.95"/><circle cx="26.5" cy="56.7" r="0.95"/><circle cx="19.6" cy="88.3" r="0.95"/><circle cx="96.6" cy="48.7" r="0.95"/><circle cx="77.2" cy="53.6" r="0.95"/><circle cx="95.2" cy="71.9" r="0.95"/><circle cx="45.4" cy="84.7" r="0.95"/><circle cx="110.3" cy="58.2" r="0.95"/><circle cx="75.7" cy="79.8" r="0.95"/><circle cx="126.3" cy="53.6" r="0.95"/><circle cx="116.9" cy="67.4" r="0.95"/><circle cx="40.8" cy="79.9" r="0.95"/><circle cx="76.3" cy="39.3" r="0.95"/><circle cx="19.1" cy="55.8" r="0.95"/><circle cx="36.8" cy="79.3" r="0.95"/><circle cx="80.2" cy="38.7" r="0.95"/><circle cx="39.9" cy="84.5" r="0.95"/><circle cx="115.5" cy="52.2" r="0.95"/><circle cx="123.9" cy="58.5" r="0.95"/><circle cx="125.4" cy="61.7" r="0.95"/><circle cx="10.7" cy="54.4" r="0.95"/><circle cx="120.6" cy="53.1" r="0.95"/><circle cx="54.3" cy="37.8" r="0.95"/><circle cx="26.3" cy="95.0" r="0.95"/><circle cx="64.7" cy="46.5" r="0.95"/><circle cx="33.0" cy="54.6" r="0.95"/><circle cx="15.3" cy="54.5" r="0.95"/><circle cx="79.2" cy="39.6" r="0.95"/><circle cx="102.4" cy="51.5" r="0.95"/><circle cx="43.6" cy="59.8" r="0.95"/><circle cx="52.9" cy="53.3" r="0.95"/><circle cx="76.6" cy="68.7" r="0.95"/><circle cx="90.7" cy="69.2" r="0.95"/><circle cx="34.2" cy="46.9" r="0.95"/><circle cx="40.9" cy="54.7" r="0.95"/><circle cx="31.7" cy="53.8" r="0.95"/><circle cx="26.6" cy="81.5" r="0.95"/><circle cx="79.0" cy="77.6" r="0.95"/><circle cx="17.7" cy="76.3" r="0.95"/><circle cx="35.6" cy="59.8" r="0.95"/><circle cx="40.6" cy="43.4" r="0.95"/><circle cx="45.9" cy="86.6" r="0.95"/></g>
<rect x="-50" y="-50" width="300" height="300" fill="#e4e450" opacity="0.90" mask="url(#mf8)"/>
<rect x="-50" y="-50" width="300" height="300" fill="#e4e450" opacity="0.90" mask="url(#mf9)"/>
<rect x="-50" y="-50" width="300" height="300" fill="#e4e450" opacity="0.90" mask="url(#mf10)"/>
<rect x="-50" y="-50" width="300" height="300" fill="#e4e450" opacity="0.90" mask="url(#mf11)"/>
<ellipse cx="68.2" cy="66.9" rx="5.0" ry="5.0" fill="#101040" opacity="0.50" filter="url(#ff12)"/>
<g fill="#1e1e1e" filter="url(#ff13)"><circle cx="68.2" cy="66.9" r="3.30" fill="#14143a"/></g>
<circle cx="68.6" cy="66.4" r="0.9" fill="#fff"/>
<ellipse cx="92.9" cy="4.6" rx="2.8" ry="4.1" fill="none" stroke="#7070ee" stroke-width="0.7"/>
<ellipse cx="122.6" cy="110.5" rx="4.1" ry="3.3" fill="none" stroke="#e4e450" stroke-width="0.7"/>
<path d="M0 15 L5 15.5 L10 22 L8 25 L0 23" fill="none" stroke="#e4e450" stroke-width="0.6"/>
<g fill="none" stroke="#7070ee" stroke-width="0.60" opacity="0.60"><circle cx="6.5" cy="122.6" r="4.60"/></g>
<g fill="none" stroke="#e4e450" stroke-width="0.60" opacity="0.80"><circle cx="8.4" cy="108.6" r="2.00"/></g>
</g></svg></g>
<g style="opacity:0.995"><text x="0.0" y="6.0" text-anchor="start" class="lb">(a)</text>
<text x="30.3" y="20.1" text-anchor="end" class="ty">34′</text>
<rect x="31.0" y="16.9" width="1.6" height="0.9" fill="#444"/>
<text x="30.3" y="45.8" text-anchor="end" class="ty">32′</text>
<rect x="31.0" y="42.6" width="1.6" height="0.9" fill="#444"/>
<text x="30.3" y="71.5" text-anchor="end" class="ty">30′</text>
<rect x="31.0" y="68.3" width="1.6" height="0.9" fill="#444"/>
<text x="30.3" y="97.2" text-anchor="end" class="ty">28′</text>
<rect x="31.0" y="94.0" width="1.6" height="0.9" fill="#444"/>
<text x="30.3" y="122.9" text-anchor="end" class="ty">+15°26′</text>
<rect x="31.0" y="119.7" width="1.6" height="0.9" fill="#444"/>
<text x="28.6" y="150.3" text-anchor="start" class="t" textLength="8.2" lengthAdjust="spacingAndGlyphs">20<tspan class="sp" dy="-2.2">s</tspan></text>
<text x="59.6" y="150.3" text-anchor="start" class="t" textLength="8.2" lengthAdjust="spacingAndGlyphs">10<tspan class="sp" dy="-2.2">s</tspan></text>
<text x="84.6" y="150.3" text-anchor="start" class="t" textLength="20.2" lengthAdjust="spacingAndGlyphs">13<tspan class="sp" dy="-2.2">m</tspan><tspan dy="2.2">00</tspan><tspan class="sp" dy="-2.2">s</tspan></text>
<text x="121.0" y="150.3" text-anchor="start" class="t" textLength="8.2" lengthAdjust="spacingAndGlyphs">50<tspan class="sp" dy="-2.2">s</tspan></text>
<text x="143.0" y="150.3" text-anchor="start" class="t" textLength="27.3" lengthAdjust="spacingAndGlyphs">1<tspan class="sp" dy="-2.2">h</tspan><tspan dy="2.2">12</tspan><tspan class="sp" dy="-2.2">m</tspan><tspan dy="2.2">40</tspan><tspan class="sp" dy="-2.2">s</tspan></text>
<text x="80.6" y="159.2" class="ax" textLength="31.3" lengthAdjust="spacingAndGlyphs">RA (J2000)</text>
<text transform="translate(4.5 77.2) rotate(-90)" text-anchor="middle" class="dc" dy="2.2">Dec. (J2000)</text>
<text x="172.0" y="6.8" text-anchor="start" class="lb">(b)</text>
<text x="204.5" y="33.2" text-anchor="end" class="ty">−13°16′</text>
<rect x="206.0" y="30.0" width="1.6" height="0.9" fill="#444"/>
<text x="204.5" y="61.7" text-anchor="end" class="ty">20′</text>
<rect x="206.0" y="58.5" width="1.6" height="0.9" fill="#444"/>
<text x="204.5" y="87.6" text-anchor="end" class="ty">24′</text>
<rect x="206.0" y="84.4" width="1.6" height="0.9" fill="#444"/>
<text x="204.5" y="113.2" text-anchor="end" class="ty">28′</text>
<rect x="206.0" y="110.0" width="1.6" height="0.9" fill="#444"/>
<text x="204.5" y="139.7" text-anchor="end" class="ty">32′</text>
<rect x="206.0" y="136.5" width="1.6" height="0.9" fill="#444"/>
<text x="211.0" y="150.1" text-anchor="start" class="t" textLength="8.2" lengthAdjust="spacingAndGlyphs">45<tspan class="sp" dy="-2.2">s</tspan></text>
<text x="234.3" y="150.1" text-anchor="start" class="t" textLength="8.2" lengthAdjust="spacingAndGlyphs">30<tspan class="sp" dy="-2.2">s</tspan></text>
<text x="257.9" y="150.1" text-anchor="start" class="t" textLength="8.2" lengthAdjust="spacingAndGlyphs">15<tspan class="sp" dy="-2.2">s</tspan></text>
<text x="275.9" y="150.1" text-anchor="start" class="t" textLength="20.2" lengthAdjust="spacingAndGlyphs">34<tspan class="sp" dy="-2.2">m</tspan><tspan dy="2.2">00</tspan><tspan class="sp" dy="-2.2">s</tspan></text>
<text x="305.0" y="150.1" text-anchor="start" class="t" textLength="8.2" lengthAdjust="spacingAndGlyphs">45<tspan class="sp" dy="-2.2">s</tspan></text>
<text x="319.6" y="150.1" text-anchor="start" class="t" textLength="27.3" lengthAdjust="spacingAndGlyphs">4<tspan class="sp" dy="-2.2">h</tspan><tspan dy="2.2">33</tspan><tspan class="sp" dy="-2.2">m</tspan><tspan dy="2.2">30</tspan><tspan class="sp" dy="-2.2">s</tspan></text>
<text x="256.3" y="158.7" class="ax" textLength="31.3" lengthAdjust="spacingAndGlyphs">RA (J2000)</text>
<text transform="translate(181.2 76.0) rotate(-90)" text-anchor="middle" class="dc" dy="2.2">Dec. (J2000)</text>
<text x="0.0" y="174.8" text-anchor="start" class="lb">(c)</text>
<text x="28.4" y="202.1" text-anchor="end" class="ty">−48°36′</text>
<rect x="29.0" y="198.9" width="1.6" height="0.9" fill="#444"/>
<text x="28.4" y="227.4" text-anchor="end" class="ty">42′</text>
<rect x="29.0" y="224.2" width="1.6" height="0.9" fill="#444"/>
<text x="28.4" y="253.4" text-anchor="end" class="ty">48′</text>
<rect x="29.0" y="250.2" width="1.6" height="0.9" fill="#444"/>
<text x="28.4" y="279.4" text-anchor="end" class="ty">54′</text>
<rect x="29.0" y="276.2" width="1.6" height="0.9" fill="#444"/>
<text x="28.4" y="303.8" text-anchor="end" class="ty">−49°00′</text>
<rect x="29.0" y="300.6" width="1.6" height="0.9" fill="#444"/>
<text x="29.0" y="316.2" text-anchor="start" class="t" textLength="8.2" lengthAdjust="spacingAndGlyphs">30<tspan class="sp" dy="-2.2">s</tspan></text>
<text x="43.6" y="316.2" text-anchor="start" class="t" textLength="20.2" lengthAdjust="spacingAndGlyphs">19<tspan class="sp" dy="-2.2">m</tspan><tspan dy="2.2">00</tspan><tspan class="sp" dy="-2.2">s</tspan></text>
<text x="71.4" y="316.2" text-anchor="start" class="t" textLength="8.2" lengthAdjust="spacingAndGlyphs">30<tspan class="sp" dy="-2.2">s</tspan></text>
<text x="86.0" y="316.2" text-anchor="start" class="t" textLength="20.2" lengthAdjust="spacingAndGlyphs">18<tspan class="sp" dy="-2.2">m</tspan><tspan dy="2.2">00</tspan><tspan class="sp" dy="-2.2">s</tspan></text>
<text x="114.0" y="316.2" text-anchor="start" class="t" textLength="8.2" lengthAdjust="spacingAndGlyphs">30<tspan class="sp" dy="-2.2">s</tspan></text>
<text x="123.7" y="316.2" text-anchor="start" class="t" textLength="27.3" lengthAdjust="spacingAndGlyphs">6<tspan class="sp" dy="-2.2">h</tspan><tspan dy="2.2">17</tspan><tspan class="sp" dy="-2.2">m</tspan><tspan dy="2.2">00</tspan><tspan class="sp" dy="-2.2">s</tspan></text>
<text x="79.8" y="325.0" class="ax" textLength="31.3" lengthAdjust="spacingAndGlyphs">RA (J2000)</text>
<text transform="translate(3.5 243.0) rotate(-90)" text-anchor="middle" class="dc" dy="2.2">Dec. (J2000)</text>
<text x="175.0" y="174.8" text-anchor="start" class="lb">(d)</text>
<text x="204.2" y="185.6" text-anchor="end" class="ty">−27°22′</text>
<rect x="205.0" y="182.4" width="1.6" height="0.9" fill="#444"/>
<text x="204.2" y="212.2" text-anchor="end" class="ty">24′</text>
<rect x="205.0" y="209.0" width="1.6" height="0.9" fill="#444"/>
<text x="204.2" y="238.1" text-anchor="end" class="ty">26′</text>
<rect x="205.0" y="234.9" width="1.6" height="0.9" fill="#444"/>
<text x="204.2" y="264.1" text-anchor="end" class="ty">28′</text>
<rect x="205.0" y="260.9" width="1.6" height="0.9" fill="#444"/>
<text x="204.2" y="290.0" text-anchor="end" class="ty">30′</text>
<rect x="205.0" y="286.8" width="1.6" height="0.9" fill="#444"/>
<text x="214.6" y="316.2" text-anchor="start" class="t" textLength="8.2" lengthAdjust="spacingAndGlyphs">30<tspan class="sp" dy="-2.2">s</tspan></text>
<text x="242.9" y="316.2" text-anchor="start" class="t" textLength="8.2" lengthAdjust="spacingAndGlyphs">20<tspan class="sp" dy="-2.2">s</tspan></text>
<text x="271.0" y="316.2" text-anchor="start" class="t" textLength="8.2" lengthAdjust="spacingAndGlyphs">10<tspan class="sp" dy="-2.2">s</tspan></text>
<text x="294.0" y="316.2" text-anchor="start" class="t" textLength="20.2" lengthAdjust="spacingAndGlyphs">26<tspan class="sp" dy="-2.2">m</tspan><tspan dy="2.2">00</tspan><tspan class="sp" dy="-2.2">s</tspan></text>
<text x="317.2" y="316.2" text-anchor="start" class="t" textLength="31.4" lengthAdjust="spacingAndGlyphs">13<tspan class="sp" dy="-2.2">h</tspan><tspan dy="2.2">25</tspan><tspan class="sp" dy="-2.2">m</tspan><tspan dy="2.2">50</tspan><tspan class="sp" dy="-2.2">s</tspan></text>
<text x="254.8" y="325.0" class="ax" textLength="31.3" lengthAdjust="spacingAndGlyphs">RA (J2000)</text>
<text transform="translate(182.3 243.0) rotate(-90)" text-anchor="middle" class="dc" dy="2.2">Dec. (J2000)</text>
<text x="1.5" y="340.8" text-anchor="start" class="lb">(e)</text>
<text x="30.3" y="355.8" text-anchor="end" class="ty">48′</text>
<rect x="30.5" y="352.6" width="1.6" height="0.9" fill="#444"/>
<text x="30.3" y="381.8" text-anchor="end" class="ty">45′</text>
<rect x="30.5" y="378.6" width="1.6" height="0.9" fill="#444"/>
<text x="30.3" y="407.7" text-anchor="end" class="ty">42′</text>
<rect x="30.5" y="404.5" width="1.6" height="0.9" fill="#444"/>
<text x="30.3" y="433.7" text-anchor="end" class="ty">39′</text>
<rect x="30.5" y="430.5" width="1.6" height="0.9" fill="#444"/>
<text x="30.3" y="459.6" text-anchor="end" class="ty">+19°36′</text>
<rect x="30.5" y="456.4" width="1.6" height="0.9" fill="#444"/>
<text x="41.4" y="480.1" text-anchor="start" class="t" textLength="20.2" lengthAdjust="spacingAndGlyphs">37<tspan class="sp" dy="-2.2">m</tspan><tspan dy="2.2">00</tspan><tspan class="sp" dy="-2.2">s</tspan></text>
<text x="71.4" y="480.1" text-anchor="start" class="t" textLength="8.2" lengthAdjust="spacingAndGlyphs">48<tspan class="sp" dy="-2.2">s</tspan></text>
<text x="98.2" y="480.1" text-anchor="start" class="t" textLength="8.2" lengthAdjust="spacingAndGlyphs">36<tspan class="sp" dy="-2.2">s</tspan></text>
<text x="120.0" y="480.1" text-anchor="start" class="t" textLength="8.2" lengthAdjust="spacingAndGlyphs">24<tspan class="sp" dy="-2.2">s</tspan></text>
<text x="133.4" y="480.1" text-anchor="start" class="t" textLength="31.4" lengthAdjust="spacingAndGlyphs">18<tspan class="sp" dy="-2.2">h</tspan><tspan dy="2.2">36</tspan><tspan class="sp" dy="-2.2">m</tspan><tspan dy="2.2">12</tspan><tspan class="sp" dy="-2.2">s</tspan></text>
<text x="80.8" y="485.7" class="ax" textLength="31.3" lengthAdjust="spacingAndGlyphs">RA (J2000)</text>
<text transform="translate(3.8 409.0) rotate(-90)" text-anchor="middle" class="dc" dy="2.2">Dec. (J2000)</text>
<text x="176.6" y="341.2" text-anchor="start" class="lb">(f)</text>
<text x="204.2" y="353.7" text-anchor="end" class="ty">−13°14′</text>
<rect x="206.0" y="350.5" width="1.6" height="0.9" fill="#444"/>
<text x="204.2" y="380.2" text-anchor="end" class="ty">16′</text>
<rect x="206.0" y="377.0" width="1.6" height="0.9" fill="#444"/>
<text x="204.2" y="406.2" text-anchor="end" class="ty">18′</text>
<rect x="206.0" y="403.0" width="1.6" height="0.9" fill="#444"/>
<text x="204.2" y="432.1" text-anchor="end" class="ty">20′</text>
<rect x="206.0" y="428.9" width="1.6" height="0.9" fill="#444"/>
<text x="204.2" y="458.1" text-anchor="end" class="ty">22′</text>
<rect x="206.0" y="454.9" width="1.6" height="0.9" fill="#444"/>
<text x="215.0" y="482.3" text-anchor="start" class="t" textLength="20.2" lengthAdjust="spacingAndGlyphs">02<tspan class="sp" dy="-2.2">m</tspan><tspan dy="2.2">00</tspan><tspan class="sp" dy="-2.2">s</tspan></text>
<text x="252.5" y="482.3" text-anchor="start" class="t" textLength="8.2" lengthAdjust="spacingAndGlyphs">50<tspan class="sp" dy="-2.2">s</tspan></text>
<text x="284.4" y="482.3" text-anchor="start" class="t" textLength="8.2" lengthAdjust="spacingAndGlyphs">40<tspan class="sp" dy="-2.2">s</tspan></text>
<text x="303.9" y="482.3" text-anchor="start" class="t" textLength="31.4" lengthAdjust="spacingAndGlyphs">21<tspan class="sp" dy="-2.2">h</tspan><tspan dy="2.2">01</tspan><tspan class="sp" dy="-2.2">m</tspan><tspan dy="2.2">30</tspan><tspan class="sp" dy="-2.2">s</tspan></text>
<text x="255.9" y="487.4" class="ax" textLength="31.3" lengthAdjust="spacingAndGlyphs">RA (J2000)</text>
<text transform="translate(181.2 409.0) rotate(-90)" text-anchor="middle" class="dc" dy="2.2">Dec. (J2000)</text></g>
</svg>
</body></html>
